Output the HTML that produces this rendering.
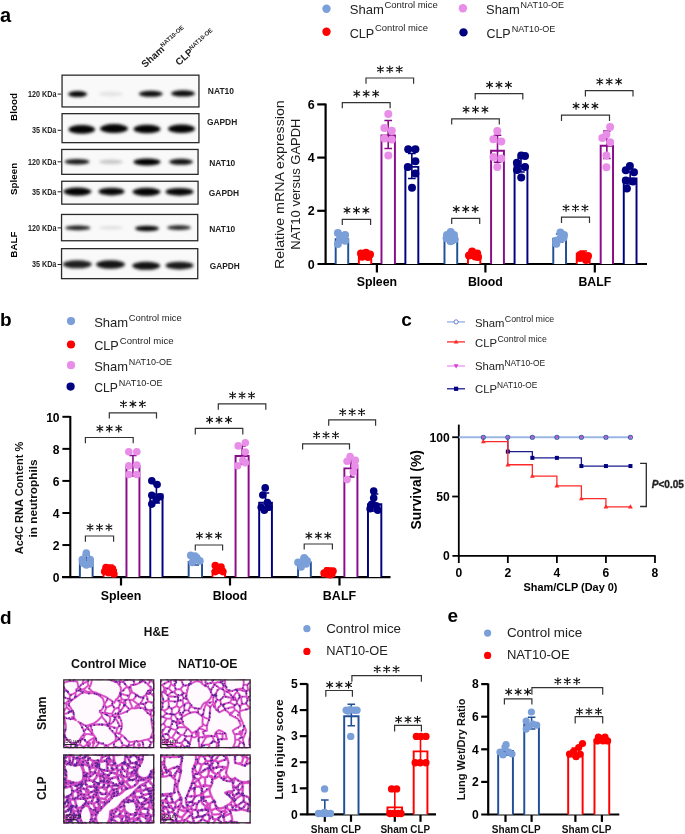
<!DOCTYPE html><html><head><meta charset="utf-8"><style>html,body{margin:0;padding:0;background:#fff;}svg{display:block;will-change:transform;}</style></head><body><svg width="685" height="834" viewBox="0 0 685 834" font-family='"Liberation Sans", sans-serif' fill="#222">
<defs><filter id="bl" x="-50%" y="-50%" width="200%" height="200%"><feGaussianBlur stdDeviation="1.45"/></filter><filter id="bl2" x="-50%" y="-50%" width="200%" height="200%"><feGaussianBlur stdDeviation="0.5"/></filter></defs>
<rect width="685" height="834" fill="#fff"/>
<text x="0.00" y="21.90" font-size="20" font-weight="bold" fill="#000">a</text>
<text x="0.00" y="325.70" font-size="19" font-weight="bold" fill="#000">b</text>
<text x="401.20" y="326.20" font-size="19" font-weight="bold" fill="#000">c</text>
<text x="0.00" y="623.60" font-size="19" font-weight="bold" fill="#000">d</text>
<text x="447.60" y="622.20" font-size="19" font-weight="bold" fill="#000">e</text>
<rect x="62.05" y="75.15" width="136.90" height="31.80" fill="#f9f9f9" stroke="#2a2a2a" stroke-width="1.3"/>
<rect x="62.05" y="113.65" width="136.90" height="29.00" fill="#f9f9f9" stroke="#2a2a2a" stroke-width="1.3"/>
<rect x="61.75" y="149.45" width="136.30" height="24.90" fill="#f9f9f9" stroke="#2a2a2a" stroke-width="1.3"/>
<rect x="61.75" y="181.25" width="136.30" height="22.90" fill="#f9f9f9" stroke="#2a2a2a" stroke-width="1.3"/>
<rect x="61.55" y="214.45" width="136.20" height="26.30" fill="#f9f9f9" stroke="#2a2a2a" stroke-width="1.3"/>
<rect x="61.55" y="248.65" width="136.20" height="30.00" fill="#f9f9f9" stroke="#2a2a2a" stroke-width="1.3"/>
<g filter="url(#bl)">
<ellipse cx="77.6" cy="94.1" rx="9.5" ry="3.0" fill="#000" fill-opacity="0.97"/>
<ellipse cx="111" cy="94" rx="12" ry="2.4" fill="#000" fill-opacity="0.08"/>
<ellipse cx="150.8" cy="93.8" rx="12" ry="3.0" fill="#000" fill-opacity="0.95"/>
<ellipse cx="183" cy="93.4" rx="12" ry="3.2" fill="#000" fill-opacity="0.95"/>
<ellipse cx="81.8" cy="129.4" rx="13.2" ry="4.4" fill="#000" fill-opacity="0.99"/>
<ellipse cx="114" cy="128.6" rx="14" ry="4.5" fill="#000" fill-opacity="0.99"/>
<ellipse cx="147" cy="129.0" rx="13.5" ry="4.3" fill="#000" fill-opacity="0.99"/>
<ellipse cx="181.5" cy="128.8" rx="13.5" ry="4.3" fill="#000" fill-opacity="0.99"/>
<ellipse cx="77" cy="161.8" rx="12.5" ry="2.8" fill="#000" fill-opacity="0.9"/>
<ellipse cx="111" cy="161.8" rx="12" ry="2.3" fill="#000" fill-opacity="0.2"/>
<ellipse cx="147" cy="162" rx="13.5" ry="3.4" fill="#000" fill-opacity="1.0"/>
<ellipse cx="181" cy="161.8" rx="12" ry="3.0" fill="#000" fill-opacity="0.93"/>
<ellipse cx="77.4" cy="191.6" rx="14" ry="4.1" fill="#000" fill-opacity="0.99"/>
<ellipse cx="111.5" cy="191.6" rx="13" ry="3.9" fill="#000" fill-opacity="0.97"/>
<ellipse cx="146.5" cy="191.8" rx="14" ry="4.1" fill="#000" fill-opacity="0.98"/>
<ellipse cx="179.5" cy="191.8" rx="14" ry="3.9" fill="#000" fill-opacity="0.97"/>
<ellipse cx="77.8" cy="227.9" rx="12.5" ry="2.4" fill="#000" fill-opacity="0.88"/>
<ellipse cx="111" cy="227.8" rx="12" ry="1.8" fill="#000" fill-opacity="0.1"/>
<ellipse cx="147" cy="228.5" rx="12" ry="2.7" fill="#000" fill-opacity="0.97"/>
<ellipse cx="179" cy="227.6" rx="12" ry="2.4" fill="#000" fill-opacity="0.85"/>
<ellipse cx="77.3" cy="264.3" rx="14.5" ry="4.0" fill="#000" fill-opacity="0.88"/>
<ellipse cx="110.5" cy="264.5" rx="14.5" ry="4.2" fill="#000" fill-opacity="0.92"/>
<ellipse cx="146.2" cy="265.8" rx="14" ry="4.0" fill="#000" fill-opacity="0.93"/>
<ellipse cx="179.5" cy="265.6" rx="14" ry="3.9" fill="#000" fill-opacity="0.9"/>
</g>
<text x="56.40" y="97.00" font-size="8.4" font-weight="bold" text-anchor="end" textLength="28.3" lengthAdjust="spacingAndGlyphs">120 KDa</text>
<line x1="57.60" y1="94.10" x2="61.20" y2="94.10" stroke="#222" stroke-width="1" stroke-linecap="butt"/>
<text x="56.40" y="164.70" font-size="8.4" font-weight="bold" text-anchor="end" textLength="28.3" lengthAdjust="spacingAndGlyphs">120 KDa</text>
<line x1="57.60" y1="161.80" x2="61.20" y2="161.80" stroke="#222" stroke-width="1" stroke-linecap="butt"/>
<text x="56.40" y="230.80" font-size="8.4" font-weight="bold" text-anchor="end" textLength="28.3" lengthAdjust="spacingAndGlyphs">120 KDa</text>
<line x1="57.60" y1="227.90" x2="61.20" y2="227.90" stroke="#222" stroke-width="1" stroke-linecap="butt"/>
<text x="56.40" y="133.20" font-size="8.4" font-weight="bold" text-anchor="end" textLength="24.5" lengthAdjust="spacingAndGlyphs">35 KDa</text>
<line x1="57.60" y1="130.30" x2="61.20" y2="130.30" stroke="#222" stroke-width="1" stroke-linecap="butt"/>
<text x="56.40" y="194.70" font-size="8.4" font-weight="bold" text-anchor="end" textLength="24.5" lengthAdjust="spacingAndGlyphs">35 KDa</text>
<line x1="57.60" y1="191.80" x2="61.20" y2="191.80" stroke="#222" stroke-width="1" stroke-linecap="butt"/>
<text x="56.40" y="267.40" font-size="8.4" font-weight="bold" text-anchor="end" textLength="24.5" lengthAdjust="spacingAndGlyphs">35 KDa</text>
<line x1="57.60" y1="264.50" x2="61.20" y2="264.50" stroke="#222" stroke-width="1" stroke-linecap="butt"/>
<text x="207.80" y="94.00" font-size="9.6" font-weight="bold" textLength="26.2" lengthAdjust="spacingAndGlyphs">NAT10</text>
<text x="206.90" y="125.30" font-size="9.6" font-weight="bold" textLength="30.3" lengthAdjust="spacingAndGlyphs">GAPDH</text>
<text x="209.30" y="165.50" font-size="9.6" font-weight="bold" textLength="26.0" lengthAdjust="spacingAndGlyphs">NAT10</text>
<text x="208.80" y="195.60" font-size="9.6" font-weight="bold" textLength="30.3" lengthAdjust="spacingAndGlyphs">GAPDH</text>
<text x="209.30" y="232.30" font-size="9.6" font-weight="bold" textLength="26.0" lengthAdjust="spacingAndGlyphs">NAT10</text>
<text x="209.70" y="268.70" font-size="9.6" font-weight="bold" textLength="30.0" lengthAdjust="spacingAndGlyphs">GAPDH</text>
<text x="16.90" y="107.00" font-size="9.8" font-weight="bold" text-anchor="middle" fill="#000" transform="rotate(-90 16.90 107.00)">Blood</text>
<text x="16.90" y="178.90" font-size="9.8" font-weight="bold" text-anchor="middle" fill="#000" transform="rotate(-90 16.90 178.90)">Spleen</text>
<text x="16.90" y="244.60" font-size="9.8" font-weight="bold" text-anchor="middle" fill="#000" transform="rotate(-90 16.90 244.60)">BALF</text>
<g transform="translate(145.0,68.0) rotate(-41.5)"><text font-size="9.8" font-weight="bold" x="0" y="0">Sham<tspan font-size="6.0" dy="-3.8">NAT10-OE</tspan></text></g>
<g transform="translate(179.0,66.0) rotate(-41.5)"><text font-size="9.8" font-weight="bold" x="0" y="0">CLP<tspan font-size="6.0" dy="-3.8">NAT10-OE</tspan></text></g>
<circle cx="326.50" cy="8.70" r="4.2" fill="#7b9fd8"/>
<circle cx="326.50" cy="31.80" r="4.2" fill="#ff0000"/>
<circle cx="462.90" cy="8.20" r="4.2" fill="#e88ee8"/>
<circle cx="463.50" cy="32.40" r="4.2" fill="#000080"/>
<text x="349.70" y="13.80" font-size="13" textLength="34.1" lengthAdjust="spacingAndGlyphs">Sham</text>
<text x="384.40" y="7.90" font-size="9.4" textLength="53.4" lengthAdjust="spacingAndGlyphs">Control mice</text>
<text x="349.70" y="37.60" font-size="13" textLength="24.6" lengthAdjust="spacingAndGlyphs">CLP</text>
<text x="375.00" y="31.20" font-size="9.4" textLength="52.9" lengthAdjust="spacingAndGlyphs">Control mice</text>
<text x="486.10" y="14.20" font-size="13" textLength="33.7" lengthAdjust="spacingAndGlyphs">Sham</text>
<text x="520.60" y="8.00" font-size="9.0" textLength="43.3" lengthAdjust="spacingAndGlyphs">NAT10-OE</text>
<text x="486.40" y="38.00" font-size="13" textLength="24.3" lengthAdjust="spacingAndGlyphs">CLP</text>
<text x="511.70" y="32.30" font-size="9.0" textLength="43.6" lengthAdjust="spacingAndGlyphs">NAT10-OE</text>
<line x1="325.60" y1="103.60" x2="325.60" y2="264.80" stroke="#000" stroke-width="2.2" stroke-linecap="butt"/>
<line x1="317.50" y1="264.00" x2="647.00" y2="264.00" stroke="#000" stroke-width="2.2" stroke-linecap="butt"/>
<line x1="317.20" y1="210.80" x2="325.60" y2="210.80" stroke="#000" stroke-width="2.2" stroke-linecap="butt"/>
<line x1="317.20" y1="157.60" x2="325.60" y2="157.60" stroke="#000" stroke-width="2.2" stroke-linecap="butt"/>
<line x1="317.20" y1="104.40" x2="325.60" y2="104.40" stroke="#000" stroke-width="2.2" stroke-linecap="butt"/>
<text x="314.60" y="268.50" font-size="12.5" font-weight="bold" text-anchor="end" fill="#000">0</text>
<text x="314.60" y="215.30" font-size="12.5" font-weight="bold" text-anchor="end" fill="#000">2</text>
<text x="314.60" y="162.10" font-size="12.5" font-weight="bold" text-anchor="end" fill="#000">4</text>
<text x="314.60" y="108.90" font-size="12.5" font-weight="bold" text-anchor="end" fill="#000">6</text>
<line x1="376.90" y1="264.00" x2="376.90" y2="272.50" stroke="#000" stroke-width="2.2" stroke-linecap="butt"/>
<text x="376.90" y="286.40" font-size="12.6" font-weight="bold" text-anchor="middle" fill="#000" textLength="40.4" lengthAdjust="spacingAndGlyphs">Spleen</text>
<line x1="485.40" y1="264.00" x2="485.40" y2="272.50" stroke="#000" stroke-width="2.2" stroke-linecap="butt"/>
<text x="485.40" y="286.40" font-size="12.6" font-weight="bold" text-anchor="middle" fill="#000" textLength="35" lengthAdjust="spacingAndGlyphs">Blood</text>
<line x1="594.80" y1="264.00" x2="594.80" y2="272.50" stroke="#000" stroke-width="2.2" stroke-linecap="butt"/>
<text x="594.80" y="286.40" font-size="12.6" font-weight="bold" text-anchor="middle" fill="#000" textLength="32.7" lengthAdjust="spacingAndGlyphs">BALF</text>
<text x="283.80" y="184.70" font-size="12.3" text-anchor="middle" fill="#1a1a1a" textLength="168.8" lengthAdjust="spacingAndGlyphs" transform="rotate(-90 283.80 184.70)">Relative mRNA expression</text>
<text x="299.60" y="184.10" font-size="12.3" text-anchor="middle" fill="#1a1a1a" textLength="131.2" lengthAdjust="spacingAndGlyphs" transform="rotate(-90 299.60 184.10)">NAT10 versus GAPDH</text>
<path d="M335.68 264.00V239.17H348.22V264.00" fill="#fff" stroke="#214f98" stroke-width="1.95"/>
<path d="M341.95 234.00V242.00M338.15 234.00H345.75M338.15 242.00H345.75" stroke="#214f98" stroke-width="1.6" fill="none"/>
<circle cx="337.90" cy="233.00" r="4.0" fill="#7b9fd8"/>
<circle cx="345.10" cy="235.00" r="4.0" fill="#7b9fd8"/>
<circle cx="340.00" cy="238.50" r="4.0" fill="#7b9fd8"/>
<circle cx="345.10" cy="240.80" r="4.0" fill="#7b9fd8"/>
<circle cx="337.90" cy="244.00" r="4.0" fill="#7b9fd8"/>
<circle cx="342.50" cy="236.00" r="4.0" fill="#7b9fd8"/>
<path d="M358.88 264.00V256.48H371.22V264.00" fill="#fff" stroke="#ff0000" stroke-width="1.95"/>
<path d="M365.05 252.00V258.00M361.25 252.00H368.85M361.25 258.00H368.85" stroke="#ff0000" stroke-width="1.6" fill="none"/>
<circle cx="361.00" cy="253.50" r="4.0" fill="#ff0000"/>
<circle cx="366.00" cy="252.80" r="4.0" fill="#ff0000"/>
<circle cx="370.00" cy="254.50" r="4.0" fill="#ff0000"/>
<circle cx="362.00" cy="256.80" r="4.0" fill="#ff0000"/>
<circle cx="368.00" cy="257.00" r="4.0" fill="#ff0000"/>
<circle cx="365.00" cy="255.00" r="4.0" fill="#ff0000"/>
<path d="M381.48 264.00V135.57H394.92V264.00" fill="#fff" stroke="#8a0c8a" stroke-width="1.95"/>
<path d="M388.20 120.50V148.50M384.40 120.50H392.00M384.40 148.50H392.00" stroke="#8a0c8a" stroke-width="1.6" fill="none"/>
<circle cx="388.30" cy="113.90" r="4.0" fill="#e88ee8"/>
<circle cx="384.40" cy="127.90" r="4.0" fill="#e88ee8"/>
<circle cx="391.80" cy="130.80" r="4.0" fill="#e88ee8"/>
<circle cx="384.40" cy="138.50" r="4.0" fill="#e88ee8"/>
<circle cx="391.80" cy="139.50" r="4.0" fill="#e88ee8"/>
<circle cx="388.30" cy="155.50" r="4.0" fill="#e88ee8"/>
<path d="M405.38 264.00V166.88H418.32V264.00" fill="#fff" stroke="#000080" stroke-width="1.95"/>
<path d="M411.85 153.50V178.50M408.05 153.50H415.65M408.05 178.50H415.65" stroke="#000080" stroke-width="1.6" fill="none"/>
<circle cx="408.20" cy="149.20" r="4.0" fill="#000080"/>
<circle cx="415.40" cy="149.20" r="4.0" fill="#000080"/>
<circle cx="415.40" cy="161.20" r="4.0" fill="#000080"/>
<circle cx="407.80" cy="166.90" r="4.0" fill="#000080"/>
<circle cx="415.40" cy="173.50" r="4.0" fill="#000080"/>
<circle cx="412.00" cy="187.70" r="4.0" fill="#000080"/>
<path d="M444.48 264.00V240.28H457.22V264.00" fill="#fff" stroke="#214f98" stroke-width="1.95"/>
<path d="M450.85 236.00V243.00M447.05 236.00H454.65M447.05 243.00H454.65" stroke="#214f98" stroke-width="1.6" fill="none"/>
<circle cx="450.70" cy="232.10" r="4.0" fill="#7b9fd8"/>
<circle cx="446.60" cy="238.20" r="4.0" fill="#7b9fd8"/>
<circle cx="454.70" cy="239.30" r="4.0" fill="#7b9fd8"/>
<circle cx="450.70" cy="241.30" r="4.0" fill="#7b9fd8"/>
<circle cx="447.00" cy="235.00" r="4.0" fill="#7b9fd8"/>
<circle cx="454.00" cy="235.00" r="4.0" fill="#7b9fd8"/>
<path d="M467.98 264.00V255.97H480.32V264.00" fill="#fff" stroke="#ff0000" stroke-width="1.95"/>
<path d="M474.15 252.00V258.00M470.35 252.00H477.95M470.35 258.00H477.95" stroke="#ff0000" stroke-width="1.6" fill="none"/>
<circle cx="472.10" cy="251.50" r="4.0" fill="#ff0000"/>
<circle cx="477.20" cy="253.60" r="4.0" fill="#ff0000"/>
<circle cx="469.00" cy="255.60" r="4.0" fill="#ff0000"/>
<circle cx="475.20" cy="256.60" r="4.0" fill="#ff0000"/>
<circle cx="473.00" cy="254.00" r="4.0" fill="#ff0000"/>
<circle cx="478.00" cy="257.00" r="4.0" fill="#ff0000"/>
<path d="M491.08 264.00V150.67H503.92V264.00" fill="#fff" stroke="#8a0c8a" stroke-width="1.95"/>
<path d="M497.50 135.30V162.20M493.70 135.30H501.30M493.70 162.20H501.30" stroke="#8a0c8a" stroke-width="1.6" fill="none"/>
<circle cx="497.30" cy="131.00" r="4.0" fill="#e88ee8"/>
<circle cx="493.40" cy="139.20" r="4.0" fill="#e88ee8"/>
<circle cx="501.30" cy="141.60" r="4.0" fill="#e88ee8"/>
<circle cx="493.40" cy="156.90" r="4.0" fill="#e88ee8"/>
<circle cx="501.30" cy="158.40" r="4.0" fill="#e88ee8"/>
<circle cx="497.30" cy="167.00" r="4.0" fill="#e88ee8"/>
<path d="M514.58 264.00V166.07H527.42V264.00" fill="#fff" stroke="#000080" stroke-width="1.95"/>
<path d="M521.00 158.00V172.00M517.20 158.00H524.80M517.20 172.00H524.80" stroke="#000080" stroke-width="1.6" fill="none"/>
<circle cx="521.20" cy="155.50" r="4.0" fill="#000080"/>
<circle cx="525.00" cy="156.00" r="4.0" fill="#000080"/>
<circle cx="516.90" cy="162.70" r="4.0" fill="#000080"/>
<circle cx="525.00" cy="167.00" r="4.0" fill="#000080"/>
<circle cx="521.20" cy="177.50" r="4.0" fill="#000080"/>
<circle cx="517.00" cy="170.00" r="4.0" fill="#000080"/>
<path d="M553.27 264.00V238.67H566.02V264.00" fill="#fff" stroke="#214f98" stroke-width="1.95"/>
<path d="M559.65 234.00V242.00M555.85 234.00H563.45M555.85 242.00H563.45" stroke="#214f98" stroke-width="1.6" fill="none"/>
<circle cx="560.40" cy="232.60" r="4.0" fill="#7b9fd8"/>
<circle cx="563.50" cy="237.70" r="4.0" fill="#7b9fd8"/>
<circle cx="556.30" cy="240.70" r="4.0" fill="#7b9fd8"/>
<circle cx="556.30" cy="243.80" r="4.0" fill="#7b9fd8"/>
<circle cx="560.00" cy="239.00" r="4.0" fill="#7b9fd8"/>
<circle cx="564.00" cy="235.00" r="4.0" fill="#7b9fd8"/>
<path d="M576.77 264.00V253.97H589.73V264.00" fill="#fff" stroke="#ff0000" stroke-width="1.95"/>
<path d="M583.25 251.00V257.00M579.45 251.00H587.05M579.45 257.00H587.05" stroke="#ff0000" stroke-width="1.6" fill="none"/>
<circle cx="582.90" cy="255.00" r="4.0" fill="#ff0000"/>
<circle cx="588.00" cy="256.00" r="4.0" fill="#ff0000"/>
<circle cx="579.90" cy="258.00" r="4.0" fill="#ff0000"/>
<circle cx="586.00" cy="260.00" r="4.0" fill="#ff0000"/>
<circle cx="583.00" cy="257.00" r="4.0" fill="#ff0000"/>
<circle cx="580.00" cy="255.00" r="4.0" fill="#ff0000"/>
<path d="M600.68 264.00V145.78H613.02V264.00" fill="#fff" stroke="#8a0c8a" stroke-width="1.95"/>
<path d="M606.85 131.00V158.50M603.05 131.00H610.65M603.05 158.50H610.65" stroke="#8a0c8a" stroke-width="1.6" fill="none"/>
<circle cx="610.10" cy="127.00" r="4.0" fill="#e88ee8"/>
<circle cx="606.40" cy="134.60" r="4.0" fill="#e88ee8"/>
<circle cx="602.30" cy="138.00" r="4.0" fill="#e88ee8"/>
<circle cx="610.10" cy="142.20" r="4.0" fill="#e88ee8"/>
<circle cx="606.40" cy="155.60" r="4.0" fill="#e88ee8"/>
<circle cx="606.40" cy="167.30" r="4.0" fill="#e88ee8"/>
<path d="M623.77 264.00V178.38H636.52V264.00" fill="#fff" stroke="#000080" stroke-width="1.95"/>
<path d="M630.15 172.00V184.00M626.35 172.00H633.95M626.35 184.00H633.95" stroke="#000080" stroke-width="1.6" fill="none"/>
<circle cx="629.90" cy="166.10" r="4.0" fill="#000080"/>
<circle cx="625.80" cy="170.20" r="4.0" fill="#000080"/>
<circle cx="634.00" cy="172.30" r="4.0" fill="#000080"/>
<circle cx="625.80" cy="180.40" r="4.0" fill="#000080"/>
<circle cx="633.00" cy="181.50" r="4.0" fill="#000080"/>
<circle cx="626.90" cy="188.60" r="4.0" fill="#000080"/>
<circle cx="71.00" cy="321.10" r="4.1" fill="#7b9fd8"/>
<circle cx="71.00" cy="344.50" r="4.1" fill="#ff0000"/>
<circle cx="71.00" cy="365.20" r="4.1" fill="#e88ee8"/>
<circle cx="70.60" cy="386.60" r="4.1" fill="#000080"/>
<text x="94.20" y="326.80" font-size="13" textLength="34.0" lengthAdjust="spacingAndGlyphs">Sham</text>
<text x="128.70" y="321.10" font-size="9.4" textLength="53.1" lengthAdjust="spacingAndGlyphs">Control mice</text>
<text x="94.20" y="349.60" font-size="13" textLength="24.6" lengthAdjust="spacingAndGlyphs">CLP</text>
<text x="119.80" y="343.90" font-size="9.4" textLength="53.7" lengthAdjust="spacingAndGlyphs">Control mice</text>
<text x="94.20" y="370.50" font-size="13" textLength="33.8" lengthAdjust="spacingAndGlyphs">Sham</text>
<text x="128.70" y="365.20" font-size="9.0" textLength="43.3" lengthAdjust="spacingAndGlyphs">NAT10-OE</text>
<text x="94.20" y="391.80" font-size="13" textLength="23.7" lengthAdjust="spacingAndGlyphs">CLP</text>
<text x="118.80" y="386.40" font-size="9.0" textLength="43.7" lengthAdjust="spacingAndGlyphs">NAT10-OE</text>
<line x1="70.30" y1="416.00" x2="70.30" y2="578.10" stroke="#000" stroke-width="2.1" stroke-linecap="butt"/>
<line x1="62.00" y1="577.10" x2="390.50" y2="577.10" stroke="#000" stroke-width="2.2" stroke-linecap="butt"/>
<line x1="62.40" y1="545.04" x2="70.30" y2="545.04" stroke="#000" stroke-width="2.0" stroke-linecap="butt"/>
<line x1="62.40" y1="512.98" x2="70.30" y2="512.98" stroke="#000" stroke-width="2.0" stroke-linecap="butt"/>
<line x1="62.40" y1="480.92" x2="70.30" y2="480.92" stroke="#000" stroke-width="2.0" stroke-linecap="butt"/>
<line x1="62.40" y1="448.86" x2="70.30" y2="448.86" stroke="#000" stroke-width="2.0" stroke-linecap="butt"/>
<line x1="62.40" y1="416.80" x2="70.30" y2="416.80" stroke="#000" stroke-width="2.0" stroke-linecap="butt"/>
<text x="59.60" y="582.00" font-size="12.1" font-weight="bold" text-anchor="end" fill="#000">0</text>
<text x="59.60" y="549.94" font-size="12.1" font-weight="bold" text-anchor="end" fill="#000">2</text>
<text x="59.60" y="517.88" font-size="12.1" font-weight="bold" text-anchor="end" fill="#000">4</text>
<text x="59.60" y="485.82" font-size="12.1" font-weight="bold" text-anchor="end" fill="#000">6</text>
<text x="59.60" y="453.76" font-size="12.1" font-weight="bold" text-anchor="end" fill="#000">8</text>
<text x="59.60" y="421.70" font-size="12.1" font-weight="bold" text-anchor="end" fill="#000">10</text>
<line x1="121.00" y1="577.10" x2="121.00" y2="585.50" stroke="#000" stroke-width="2.2" stroke-linecap="butt"/>
<text x="121.00" y="599.50" font-size="12.6" font-weight="bold" text-anchor="middle" fill="#000" textLength="40.7" lengthAdjust="spacingAndGlyphs">Spleen</text>
<line x1="230.00" y1="577.10" x2="230.00" y2="585.50" stroke="#000" stroke-width="2.2" stroke-linecap="butt"/>
<text x="230.00" y="599.50" font-size="12.6" font-weight="bold" text-anchor="middle" fill="#000" textLength="34.7" lengthAdjust="spacingAndGlyphs">Blood</text>
<line x1="339.50" y1="577.10" x2="339.50" y2="585.50" stroke="#000" stroke-width="2.2" stroke-linecap="butt"/>
<text x="339.50" y="599.50" font-size="12.6" font-weight="bold" text-anchor="middle" fill="#000" textLength="33.3" lengthAdjust="spacingAndGlyphs">BALF</text>
<text x="22.70" y="498.00" font-size="10.8" font-weight="bold" text-anchor="middle" fill="#111" textLength="112.5" lengthAdjust="spacingAndGlyphs" transform="rotate(-90 22.70 498.00)">Ac4C RNA Content %</text>
<text x="37.00" y="498.40" font-size="10.8" font-weight="bold" text-anchor="middle" fill="#111" textLength="78.1" lengthAdjust="spacingAndGlyphs" transform="rotate(-90 37.00 498.40)">in neutrophils</text>
<path d="M79.88 577.10V561.38H92.62V577.10" fill="#fff" stroke="#214f98" stroke-width="1.95"/>
<path d="M86.25 555.00V566.00M82.55 555.00H89.95M82.55 566.00H89.95" stroke="#214f98" stroke-width="1.6" fill="none"/>
<circle cx="86.30" cy="553.00" r="3.8" fill="#7b9fd8"/>
<circle cx="82.30" cy="559.60" r="3.8" fill="#7b9fd8"/>
<circle cx="90.20" cy="559.60" r="3.8" fill="#7b9fd8"/>
<circle cx="86.30" cy="564.90" r="3.8" fill="#7b9fd8"/>
<circle cx="83.00" cy="563.00" r="3.8" fill="#7b9fd8"/>
<circle cx="90.00" cy="564.00" r="3.8" fill="#7b9fd8"/>
<path d="M103.57 577.10V569.98H116.03V577.10" fill="#fff" stroke="#ff0000" stroke-width="1.95"/>
<path d="M109.80 565.00V573.00M106.10 565.00H113.50M106.10 573.00H113.50" stroke="#ff0000" stroke-width="1.6" fill="none"/>
<circle cx="106.00" cy="567.50" r="3.8" fill="#ff0000"/>
<circle cx="112.50" cy="568.80" r="3.8" fill="#ff0000"/>
<circle cx="108.60" cy="572.80" r="3.8" fill="#ff0000"/>
<circle cx="113.90" cy="574.00" r="3.8" fill="#ff0000"/>
<circle cx="104.70" cy="571.50" r="3.8" fill="#ff0000"/>
<circle cx="110.00" cy="570.00" r="3.8" fill="#ff0000"/>
<path d="M126.47 577.10V466.08H139.43V577.10" fill="#fff" stroke="#8a0c8a" stroke-width="1.95"/>
<path d="M132.95 455.50V476.00M129.25 455.50H136.65M129.25 476.00H136.65" stroke="#8a0c8a" stroke-width="1.6" fill="none"/>
<circle cx="128.80" cy="451.70" r="3.8" fill="#e88ee8"/>
<circle cx="136.80" cy="451.70" r="3.8" fill="#e88ee8"/>
<circle cx="128.80" cy="465.90" r="3.8" fill="#e88ee8"/>
<circle cx="136.80" cy="465.00" r="3.8" fill="#e88ee8"/>
<circle cx="128.80" cy="474.50" r="3.8" fill="#e88ee8"/>
<circle cx="136.80" cy="474.50" r="3.8" fill="#e88ee8"/>
<path d="M150.28 577.10V494.58H162.53V577.10" fill="#fff" stroke="#000080" stroke-width="1.95"/>
<path d="M156.40 484.00V503.00M152.70 484.00H160.10M152.70 503.00H160.10" stroke="#000080" stroke-width="1.6" fill="none"/>
<circle cx="151.80" cy="480.70" r="3.8" fill="#000080"/>
<circle cx="157.10" cy="484.50" r="3.8" fill="#000080"/>
<circle cx="151.80" cy="495.30" r="3.8" fill="#000080"/>
<circle cx="160.00" cy="496.80" r="3.8" fill="#000080"/>
<circle cx="151.80" cy="504.10" r="3.8" fill="#000080"/>
<circle cx="156.20" cy="499.70" r="3.8" fill="#000080"/>
<path d="M188.67 577.10V561.88H202.03V577.10" fill="#fff" stroke="#214f98" stroke-width="1.95"/>
<path d="M195.35 556.00V565.00M191.65 556.00H199.05M191.65 565.00H199.05" stroke="#214f98" stroke-width="1.6" fill="none"/>
<circle cx="190.70" cy="555.40" r="3.8" fill="#7b9fd8"/>
<circle cx="196.90" cy="557.80" r="3.8" fill="#7b9fd8"/>
<circle cx="199.90" cy="560.90" r="3.8" fill="#7b9fd8"/>
<circle cx="192.30" cy="562.40" r="3.8" fill="#7b9fd8"/>
<circle cx="195.00" cy="556.00" r="3.8" fill="#7b9fd8"/>
<circle cx="194.00" cy="560.00" r="3.8" fill="#7b9fd8"/>
<path d="M212.57 577.10V570.98H225.03V577.10" fill="#fff" stroke="#ff0000" stroke-width="1.95"/>
<path d="M218.80 566.00V573.00M215.10 566.00H222.50M215.10 573.00H222.50" stroke="#ff0000" stroke-width="1.6" fill="none"/>
<circle cx="215.30" cy="565.50" r="3.8" fill="#ff0000"/>
<circle cx="219.90" cy="568.50" r="3.8" fill="#ff0000"/>
<circle cx="222.90" cy="571.60" r="3.8" fill="#ff0000"/>
<circle cx="215.30" cy="571.60" r="3.8" fill="#ff0000"/>
<circle cx="218.00" cy="570.00" r="3.8" fill="#ff0000"/>
<circle cx="221.00" cy="567.00" r="3.8" fill="#ff0000"/>
<path d="M235.57 577.10V456.08H248.62V577.10" fill="#fff" stroke="#8a0c8a" stroke-width="1.95"/>
<path d="M242.10 446.00V464.00M238.40 446.00H245.80M238.40 464.00H245.80" stroke="#8a0c8a" stroke-width="1.6" fill="none"/>
<circle cx="238.20" cy="445.90" r="3.8" fill="#e88ee8"/>
<circle cx="245.30" cy="442.80" r="3.8" fill="#e88ee8"/>
<circle cx="245.30" cy="452.00" r="3.8" fill="#e88ee8"/>
<circle cx="242.80" cy="460.30" r="3.8" fill="#e88ee8"/>
<circle cx="237.60" cy="465.80" r="3.8" fill="#e88ee8"/>
<circle cx="245.30" cy="462.80" r="3.8" fill="#e88ee8"/>
<path d="M259.18 577.10V502.68H271.92V577.10" fill="#fff" stroke="#000080" stroke-width="1.95"/>
<path d="M265.55 493.00V510.00M261.85 493.00H269.25M261.85 510.00H269.25" stroke="#000080" stroke-width="1.6" fill="none"/>
<circle cx="265.20" cy="487.90" r="3.8" fill="#000080"/>
<circle cx="262.80" cy="495.00" r="3.8" fill="#000080"/>
<circle cx="267.40" cy="502.60" r="3.8" fill="#000080"/>
<circle cx="261.20" cy="507.20" r="3.8" fill="#000080"/>
<circle cx="268.90" cy="507.20" r="3.8" fill="#000080"/>
<circle cx="264.30" cy="510.30" r="3.8" fill="#000080"/>
<path d="M298.08 577.10V562.48H310.82V577.10" fill="#fff" stroke="#214f98" stroke-width="1.95"/>
<path d="M304.45 557.00V566.00M300.75 557.00H308.15M300.75 566.00H308.15" stroke="#214f98" stroke-width="1.6" fill="none"/>
<circle cx="304.20" cy="557.80" r="3.8" fill="#7b9fd8"/>
<circle cx="307.20" cy="560.90" r="3.8" fill="#7b9fd8"/>
<circle cx="301.10" cy="567.00" r="3.8" fill="#7b9fd8"/>
<circle cx="298.00" cy="562.40" r="3.8" fill="#7b9fd8"/>
<circle cx="303.00" cy="561.00" r="3.8" fill="#7b9fd8"/>
<circle cx="306.00" cy="564.00" r="3.8" fill="#7b9fd8"/>
<path d="M321.98 577.10V571.98H334.42V577.10" fill="#fff" stroke="#ff0000" stroke-width="1.95"/>
<path d="M328.20 568.00V575.00M324.50 568.00H331.90M324.50 575.00H331.90" stroke="#ff0000" stroke-width="1.6" fill="none"/>
<circle cx="327.10" cy="570.70" r="3.8" fill="#ff0000"/>
<circle cx="331.70" cy="572.50" r="3.8" fill="#ff0000"/>
<circle cx="324.10" cy="573.10" r="3.8" fill="#ff0000"/>
<circle cx="330.20" cy="574.70" r="3.8" fill="#ff0000"/>
<circle cx="327.00" cy="574.00" r="3.8" fill="#ff0000"/>
<circle cx="333.00" cy="571.00" r="3.8" fill="#ff0000"/>
<path d="M344.38 577.10V468.38H357.42V577.10" fill="#fff" stroke="#8a0c8a" stroke-width="1.95"/>
<path d="M350.90 458.00V477.00M347.20 458.00H354.60M347.20 477.00H354.60" stroke="#8a0c8a" stroke-width="1.6" fill="none"/>
<circle cx="350.10" cy="456.60" r="3.8" fill="#e88ee8"/>
<circle cx="355.30" cy="460.30" r="3.8" fill="#e88ee8"/>
<circle cx="347.10" cy="461.20" r="3.8" fill="#e88ee8"/>
<circle cx="353.20" cy="472.00" r="3.8" fill="#e88ee8"/>
<circle cx="347.10" cy="479.60" r="3.8" fill="#e88ee8"/>
<circle cx="355.00" cy="466.00" r="3.8" fill="#e88ee8"/>
<path d="M367.98 577.10V504.18H381.32V577.10" fill="#fff" stroke="#000080" stroke-width="1.95"/>
<path d="M374.65 494.00V511.00M370.95 494.00H378.35M370.95 511.00H378.35" stroke="#000080" stroke-width="1.6" fill="none"/>
<circle cx="373.70" cy="491.00" r="3.8" fill="#000080"/>
<circle cx="373.70" cy="498.00" r="3.8" fill="#000080"/>
<circle cx="371.60" cy="504.20" r="3.8" fill="#000080"/>
<circle cx="376.20" cy="505.70" r="3.8" fill="#000080"/>
<circle cx="370.10" cy="508.80" r="3.8" fill="#000080"/>
<circle cx="377.70" cy="510.30" r="3.8" fill="#000080"/>
<line x1="447.00" y1="321.90" x2="465.00" y2="321.90" stroke="#8fb2e4" stroke-width="1.3" stroke-linecap="butt"/>
<circle cx="456.1" cy="321.9" r="2.1" fill="#fff" stroke="#5f6fbf" stroke-width="0.9"/>
<line x1="447.00" y1="341.90" x2="465.00" y2="341.90" stroke="#ff2a2a" stroke-width="1.3" stroke-linecap="butt"/>
<path d="M456.1 339.38L458.52 343.58H453.69Z" fill="#ff2a2a"/>
<line x1="447.00" y1="366.00" x2="465.00" y2="366.00" stroke="#f090f0" stroke-width="1.3" stroke-linecap="butt"/>
<path d="M456.1 368.52L458.52 364.32H453.69Z" fill="#d040d0"/>
<line x1="447.00" y1="388.80" x2="465.00" y2="388.80" stroke="#1c1c8c" stroke-width="1.3" stroke-linecap="butt"/>
<rect x="454.00" y="386.70" width="4.20" height="4.20" fill="#000080"/>
<text x="475.00" y="327.20" font-size="11.8" textLength="29.5" lengthAdjust="spacingAndGlyphs">Sham</text>
<text x="504.80" y="322.30" font-size="8.6" textLength="49.4" lengthAdjust="spacingAndGlyphs">Control mice</text>
<text x="475.00" y="346.80" font-size="11.8" textLength="22.0" lengthAdjust="spacingAndGlyphs">CLP</text>
<text x="497.50" y="341.90" font-size="8.6" textLength="49.4" lengthAdjust="spacingAndGlyphs">Control mice</text>
<text x="475.00" y="370.40" font-size="11.8" textLength="29.5" lengthAdjust="spacingAndGlyphs">Sham</text>
<text x="504.50" y="365.70" font-size="8.6" textLength="40.6" lengthAdjust="spacingAndGlyphs">NAT10-OE</text>
<text x="475.00" y="393.20" font-size="11.8" textLength="22.0" lengthAdjust="spacingAndGlyphs">CLP</text>
<text x="497.00" y="388.00" font-size="8.6" textLength="40.2" lengthAdjust="spacingAndGlyphs">NAT10-OE</text>
<line x1="458.80" y1="424.60" x2="458.80" y2="556.60" stroke="#000" stroke-width="1.8" stroke-linecap="butt"/>
<line x1="452.40" y1="555.80" x2="655.60" y2="555.80" stroke="#000" stroke-width="1.8" stroke-linecap="butt"/>
<line x1="452.20" y1="496.52" x2="458.80" y2="496.52" stroke="#000" stroke-width="1.8" stroke-linecap="butt"/>
<line x1="452.20" y1="437.24" x2="458.80" y2="437.24" stroke="#000" stroke-width="1.8" stroke-linecap="butt"/>
<text x="449.80" y="560.10" font-size="12.1" font-weight="bold" text-anchor="end" fill="#000">0</text>
<text x="449.80" y="500.82" font-size="12.1" font-weight="bold" text-anchor="end" fill="#000">50</text>
<text x="449.80" y="441.54" font-size="12.1" font-weight="bold" text-anchor="end" fill="#000">100</text>
<line x1="458.80" y1="555.80" x2="458.80" y2="563.00" stroke="#000" stroke-width="1.8" stroke-linecap="butt"/>
<text x="458.80" y="577.00" font-size="12.1" font-weight="bold" text-anchor="middle" fill="#000">0</text>
<line x1="507.84" y1="555.80" x2="507.84" y2="563.00" stroke="#000" stroke-width="1.8" stroke-linecap="butt"/>
<text x="507.84" y="577.00" font-size="12.1" font-weight="bold" text-anchor="middle" fill="#000">2</text>
<line x1="556.88" y1="555.80" x2="556.88" y2="563.00" stroke="#000" stroke-width="1.8" stroke-linecap="butt"/>
<text x="556.88" y="577.00" font-size="12.1" font-weight="bold" text-anchor="middle" fill="#000">4</text>
<line x1="605.92" y1="555.80" x2="605.92" y2="563.00" stroke="#000" stroke-width="1.8" stroke-linecap="butt"/>
<text x="605.92" y="577.00" font-size="12.1" font-weight="bold" text-anchor="middle" fill="#000">6</text>
<line x1="654.96" y1="555.80" x2="654.96" y2="563.00" stroke="#000" stroke-width="1.8" stroke-linecap="butt"/>
<text x="654.96" y="577.00" font-size="12.1" font-weight="bold" text-anchor="middle" fill="#000">8</text>
<text x="570.50" y="591.30" font-size="11.0" font-weight="bold" text-anchor="middle" fill="#000" textLength="94" lengthAdjust="spacingAndGlyphs">Sham/CLP (Day 0)</text>
<text x="421.40" y="489.80" font-size="14.8" font-weight="bold" text-anchor="middle" fill="#000" textLength="79.2" lengthAdjust="spacingAndGlyphs" transform="rotate(-90 421.40 489.80)">Survival (%)</text>
<path d="M507.84 437.24H507.84V451.59H532.36V457.87H556.88V457.87H581.40V466.05H605.92V466.05H630.44V466.05" stroke="#1c1c8c" stroke-width="1.3" fill="none"/>
<rect x="505.84" y="449.59" width="4.00" height="4.00" fill="#000080"/>
<rect x="530.36" y="455.87" width="4.00" height="4.00" fill="#000080"/>
<rect x="554.88" y="455.87" width="4.00" height="4.00" fill="#000080"/>
<rect x="579.40" y="464.05" width="4.00" height="4.00" fill="#000080"/>
<rect x="603.92" y="464.05" width="4.00" height="4.00" fill="#000080"/>
<rect x="628.44" y="464.05" width="4.00" height="4.00" fill="#000080"/>
<path d="M483.32 437.24H483.32V441.63H507.84V464.75H532.36V476.13H556.88V485.85H581.40V498.65H605.92V506.83H630.44V506.83" stroke="#ff2a2a" stroke-width="1.3" fill="none"/>
<path d="M483.32 439.11L485.74 443.31H480.90Z" fill="#ff2a2a"/>
<path d="M507.84 462.23L510.25 466.43H505.42Z" fill="#ff2a2a"/>
<path d="M532.36 473.61L534.77 477.81H529.95Z" fill="#ff2a2a"/>
<path d="M556.88 483.33L559.29 487.53H554.47Z" fill="#ff2a2a"/>
<path d="M581.4 496.13L583.81 500.33H578.99Z" fill="#ff2a2a"/>
<path d="M605.92 504.31L608.33 508.51H603.50Z" fill="#ff2a2a"/>
<path d="M630.44 504.31L632.86 508.51H628.03Z" fill="#ff2a2a"/>
<path d="M458.80 437.24H630.44" stroke="#9ab6e4" stroke-width="1.8" fill="none"/>
<path d="M483.32 439.16L485.16 435.96H481.48Z" fill="#d050d0"/>
<path d="M507.84 439.16L509.68 435.96H506.00Z" fill="#d050d0"/>
<path d="M532.36 439.16L534.20 435.96H530.52Z" fill="#d050d0"/>
<path d="M556.88 439.16L558.72 435.96H555.04Z" fill="#d050d0"/>
<path d="M581.4 439.16L583.24 435.96H579.56Z" fill="#d050d0"/>
<path d="M605.92 439.16L607.76 435.96H604.08Z" fill="#d050d0"/>
<path d="M630.44 439.16L632.28 435.96H628.60Z" fill="#d050d0"/>
<circle cx="483.32" cy="437.24" r="2.0" fill="none" stroke="#3c5ca8" stroke-width="1.1"/>
<circle cx="507.84" cy="437.24" r="2.0" fill="none" stroke="#3c5ca8" stroke-width="1.1"/>
<circle cx="532.36" cy="437.24" r="2.0" fill="none" stroke="#3c5ca8" stroke-width="1.1"/>
<circle cx="556.88" cy="437.24" r="2.0" fill="none" stroke="#3c5ca8" stroke-width="1.1"/>
<circle cx="581.40" cy="437.24" r="2.0" fill="none" stroke="#3c5ca8" stroke-width="1.1"/>
<circle cx="605.92" cy="437.24" r="2.0" fill="none" stroke="#3c5ca8" stroke-width="1.1"/>
<circle cx="630.44" cy="437.24" r="2.0" fill="none" stroke="#3c5ca8" stroke-width="1.1"/>
<path d="M640.1 463.3H646.3V506.5H640.1" stroke="#2a2a2a" stroke-width="1.3" fill="none"/>
<text x="651.7" y="487.8" font-size="10.8" font-weight="bold" textLength="32.2" lengthAdjust="spacingAndGlyphs" stroke="#222" stroke-width="0.35"><tspan font-style="italic">P</tspan>&lt;0.05</text>
<text x="156.40" y="636.20" font-size="12.6" font-weight="bold" text-anchor="middle" fill="#111" textLength="25.2" lengthAdjust="spacingAndGlyphs">H&amp;E</text>
<text x="108.80" y="667.70" font-size="13.2" font-weight="bold" text-anchor="middle" fill="#111" textLength="75.4" lengthAdjust="spacingAndGlyphs">Control Mice</text>
<text x="207.70" y="667.70" font-size="13.2" font-weight="bold" text-anchor="middle" fill="#111" textLength="59.6" lengthAdjust="spacingAndGlyphs">NAT10-OE</text>
<text x="46.30" y="713.20" font-size="13.2" font-weight="bold" text-anchor="middle" fill="#111" textLength="33.6" lengthAdjust="spacingAndGlyphs" transform="rotate(-90 46.30 713.20)">Sham</text>
<text x="46.00" y="788.20" font-size="13.2" font-weight="bold" text-anchor="middle" fill="#111" textLength="23.5" lengthAdjust="spacingAndGlyphs" transform="rotate(-90 46.00 788.20)">CLP</text>
<clipPath id="he11"><rect x="63.2" y="679.3" width="91.1" height="68.9"/></clipPath><g clip-path="url(#he11)"><rect x="63.2" y="679.3" width="91.1" height="68.9" fill="#fefafe"/><g fill="none" stroke-linejoin="round" stroke-linecap="round"><path d="M158.4 720.6L155.4 721.9L152.3 723.2M158.4 725.7L155.5 724.5L152.3 723.2M59.0 745.6L60.9 746.2M62.3 750.8L61.2 748.4L60.9 746.2M61.7 739.5L63.2 738.1L64.6 736.7M64.6 736.7L64.9 736.7M65.2 737.3L64.6 741.1L63.5 744.8M60.9 746.2L63.5 744.8M152.3 723.2L151.7 723.2M152.2 725.7L154.5 728.8L156.1 731.5L156.9 733.2M157.1 716.0L154.2 714.6M154.2 714.6L151.4 716.4M154.2 714.6L154.1 712.8L154.4 711.2M150.4 710.6L150.7 713.2L151.0 715.9M150.4 710.6L152.7 709.3M152.7 709.3L153.4 710.4L154.4 711.2M155.0 711.1L154.4 711.2M60.6 688.2L61.5 686.2L62.6 685.1M60.8 688.9L63.8 691.2M63.8 691.2L62.9 696.8M59.5 697.8L62.9 696.8M68.8 681.2L70.2 678.2L70.8 675.1M73.4 681.2L75.5 677.4L76.3 673.9M68.0 751.7L68.8 750.1L70.0 748.6M63.5 744.8L66.8 746.7L70.0 748.5M70.0 748.5L70.0 748.6M70.0 748.5L70.8 746.1L71.5 743.0M59.5 730.5L62.6 730.3L65.5 729.8M60.2 733.3L62.9 735.1L64.6 736.7M150.4 710.6L148.0 709.8L145.2 708.7M144.3 709.3L145.2 708.7M157.5 688.3L153.6 688.5M155.2 694.6L153.1 694.2L151.3 693.9M153.6 688.5L152.5 689.4M152.5 689.4L150.5 691.4L149.7 692.5L150.4 693.5M151.3 693.9L150.4 693.5M150.3 676.6L151.1 680.4M150.3 676.6L152.8 677.6L154.9 678.0L156.5 677.9M151.1 680.4L153.9 683.6L154.9 686.0M156.5 677.9L157.0 679.4L156.7 682.3L154.9 686.0M148.1 675.3L150.3 676.6M153.6 688.5L154.9 686.0M119.6 681.3L120.6 679.9L121.3 677.6M119.6 681.3L117.7 681.8L115.8 682.0M114.5 677.2L113.4 678.8M113.4 678.8L114.9 681.8M148.2 684.7L150.1 680.8M139.8 682.7L141.7 679.1M150.1 680.8L146.5 678.3L143.5 676.7M143.5 676.7L141.7 679.1M152.5 689.4L149.1 690.6M151.1 680.4L150.1 680.8M142.7 674.4L143.5 676.7M139.0 675.7L140.7 677.2L141.7 679.1M107.1 677.4L106.9 678.7M107.1 677.4L110.0 677.9L113.4 678.8M119.6 681.3L120.7 681.9M120.7 681.9L119.7 683.2L119.4 685.4M109.6 716.5L104.0 713.1M109.6 716.5L110.3 719.1L109.6 722.4L107.7 725.6M104.0 713.1L100.1 712.2M101.6 716.4L104.5 719.7L106.8 723.2L107.7 725.6M113.6 751.7L113.1 748.7M121.4 752.7L120.6 747.9M113.1 748.7L113.8 747.4M113.8 747.4L117.0 747.4L120.6 747.9M128.4 746.0L126.0 745.8L123.0 745.0M128.4 746.0L128.4 746.1M128.4 746.1L127.7 748.5L127.4 751.1M123.0 745.0L120.6 747.9M108.4 752.3L109.8 750.3M103.3 753.3L104.2 749.7L105.1 745.2M109.8 750.3L109.0 748.4L107.4 745.5M113.1 748.7L109.8 750.3M99.5 742.6L96.8 745.8L94.2 748.7M94.2 748.7L95.7 751.5M156.1 737.0L153.9 739.2M156.6 734.1L154.9 735.1L153.1 735.9L151.1 736.4M153.9 739.2L152.4 738.0L151.0 736.5M140.8 749.5L143.4 747.7M140.8 749.5L137.7 748.3L134.4 747.1M143.4 747.7L143.2 744.3L142.1 740.6M133.2 744.8L134.4 747.1M133.2 744.8L135.3 741.3M145.6 751.1L147.0 748.4M147.0 748.4L145.4 748.3L143.4 747.7M132.9 750.6L134.4 747.1M128.4 746.1L130.7 745.4L133.2 744.8M129.6 741.6L128.4 746.0M153.6 708.4L158.2 706.4M153.6 708.4L153.7 705.8L153.2 702.5M153.2 702.5L155.5 697.8M159.4 699.1L155.5 697.8M152.7 709.3L153.6 708.4M145.3 703.4L144.7 706.0L145.2 708.7M145.3 703.4L148.0 701.7M148.0 701.7L153.2 702.5M148.0 701.7L147.6 699.0L146.9 696.7L145.6 694.9M146.8 693.7L148.4 693.3L150.4 693.5M151.3 693.9L155.5 697.8M145.3 703.4L142.2 703.6L139.7 704.1M142.9 696.9L142.6 699.8L141.3 702.3L139.7 704.1M139.7 707.5L139.0 705.8L139.1 704.4M139.1 704.4L139.7 704.1M134.0 675.3L133.9 680.5M134.6 684.8L133.9 680.5M125.8 675.7L126.3 679.2M133.9 680.5L130.0 679.7L126.3 679.2M120.7 681.9L123.3 681.9M123.3 681.9L126.3 679.2M107.1 677.4L106.0 676.6M102.7 678.5L102.6 677.2M75.5 692.6L75.7 695.3L74.7 698.2M70.8 694.7L69.0 699.0M72.7 699.5L69.3 700.1M69.0 699.0L69.3 700.1M83.1 692.3L83.0 692.2M83.0 692.2L79.1 690.4L76.4 689.9M63.8 691.2L66.1 690.0M62.9 696.8L66.1 698.1L69.0 699.0M78.2 687.2L79.5 686.7M83.0 692.2L81.2 689.9L80.8 689.1M80.8 689.1L79.5 688.1L79.5 686.7M65.7 724.6L62.7 721.9L60.1 719.8M66.1 718.1L63.4 716.0M63.4 716.0L61.2 716.4L59.6 717.2M59.5 697.8L61.2 700.4L63.3 703.0M61.4 705.9L62.4 704.2L63.3 703.0M69.3 700.1L66.9 702.1L65.9 703.5M63.3 703.0L65.9 703.5M68.7 703.8L66.4 704.1M66.4 704.1L65.9 703.5M71.0 711.6L67.4 713.1L63.8 714.2M71.0 711.6L68.5 709.0L66.7 707.2M66.7 707.2L64.8 709.7M64.8 709.7L63.0 713.4M63.8 714.2L63.0 713.4M75.8 720.1L75.7 720.1M73.1 712.3L71.0 711.6M63.4 716.0L63.8 714.2M66.4 704.1L66.7 707.2M61.7 707.8L64.8 709.7M60.2 714.3L63.0 713.4M115.7 718.6L117.8 721.9L119.7 725.9M115.7 718.6L113.8 720.9L111.3 723.6L108.2 726.1M119.7 725.9L117.1 728.4M109.3 726.4L111.5 726.6L114.2 727.3L117.1 728.4M122.0 725.6L119.7 725.9M119.7 733.4L116.2 732.9M117.1 728.4L116.2 732.9M112.5 704.9L109.6 706.1L106.5 707.5M112.5 704.9L112.5 701.3M107.7 698.1L106.6 700.8L104.4 704.2M104.4 704.2L105.4 705.8L106.5 707.5M97.4 694.3L96.6 693.2L96.9 693.0M104.2 704.2L104.4 704.2M104.0 713.1L104.8 712.7M104.8 712.7L105.1 710.7L106.5 707.5M104.8 712.7L108.4 713.4L112.0 713.7M112.5 704.9L114.8 708.8M114.8 708.8L112.0 713.7M107.7 725.6L107.5 726.0M93.9 724.5L93.5 723.5M76.3 746.0L74.1 747.6L72.0 749.0M76.3 746.0L76.7 746.1M76.7 746.1L76.7 748.2L78.0 750.3M72.0 749.0L73.2 750.4M70.0 748.6L72.0 749.0M76.3 742.4L76.3 746.0M149.4 746.6L150.3 747.9L151.7 749.7M149.4 746.6L151.3 743.1M151.3 743.1L154.0 740.2M151.7 749.7L154.9 749.4L158.1 749.0M158.3 743.5L155.9 741.5L154.0 740.2M151.0 751.7L151.7 749.7M147.0 748.4L149.4 746.6M147.7 739.4L150.0 741.4L151.3 743.1M153.9 739.2L154.0 740.2M130.5 693.1L129.4 695.3M130.5 693.1L129.5 690.0L127.9 687.1M129.4 695.3L127.1 695.4L124.0 694.7L120.2 693.4M127.9 687.1L127.4 686.9M127.4 686.9L126.0 687.6L124.5 688.8L122.7 690.4L120.5 692.3M132.1 692.0L130.5 693.1M130.6 686.9L127.9 687.1M121.7 699.0L120.9 697.0L120.0 693.9M121.7 699.0L124.1 699.8L126.0 699.9M126.0 699.9L128.1 699.4M128.1 699.4L128.7 697.7L129.4 695.3M123.3 681.9L125.1 684.3L127.4 686.9M129.7 700.0L132.6 700.0M129.7 700.0L130.0 702.0L131.1 704.6L132.4 708.1M132.6 700.0L135.0 701.9L137.0 703.5L138.4 704.6M134.4 708.5L135.5 706.8L136.7 705.6L138.4 704.6M128.1 699.4L129.7 700.0M136.8 694.9L135.0 697.8L132.6 700.0M139.1 704.4L138.4 704.6M79.5 686.7L82.3 684.0M83.0 675.0L83.8 679.0L82.3 684.0M90.5 693.3L88.4 692.3M80.8 689.1L83.1 689.4M88.4 692.3L85.8 691.0L83.1 689.4M113.6 742.0L114.5 742.3M115.6 736.0L117.8 737.4L119.6 738.7M114.5 742.3L117.0 740.5L119.6 738.9M119.6 738.7L119.6 738.9M94.2 748.7L92.1 748.6M94.8 736.6L94.2 737.6M92.1 748.6L93.0 746.0L93.8 743.1L94.2 740.2L94.2 737.6M113.8 747.4L114.0 744.6L114.5 742.3M116.2 732.9L114.6 733.7M121.9 735.2L120.9 736.8L119.6 738.7M123.0 745.0L121.2 741.6L119.6 738.9M118.9 707.4L119.1 710.3L118.8 712.3M118.9 707.4L120.2 702.6M118.8 712.3L121.3 709.9L123.3 707.2L124.6 704.6M121.3 702.1L120.2 702.6M121.3 702.1L124.1 703.3M124.1 703.3L124.6 704.6M116.1 699.3L120.2 702.6M114.8 708.8L118.9 707.4M121.7 699.0L120.9 700.3L121.3 702.1M126.0 699.9L124.6 701.0L124.1 703.3M129.7 709.5L126.9 706.7L124.6 704.6M112.7 714.8L115.2 714.3L117.8 713.5M112.7 714.8L112.5 715.9M115.3 716.8L116.8 716.1L118.8 716.1M115.3 716.8L112.5 715.9M118.7 714.8L117.8 713.5M112.0 713.7L112.7 714.8M118.8 712.3L117.8 713.5M109.6 716.5L111.2 716.3L112.5 715.9M115.7 718.6L115.3 716.8M85.6 734.2L88.9 734.2L93.1 735.1M85.6 734.2L84.3 733.4M93.1 735.1L90.9 732.1L89.0 729.5L87.8 727.6M83.9 730.7L86.0 729.2L87.8 727.6M94.2 735.8L93.1 735.1M89.6 724.8L87.8 727.6M94.2 737.6L91.8 739.0L89.4 740.7L86.9 742.6M85.6 734.2L84.3 736.1L83.2 738.5M86.9 742.6L83.2 738.5M80.1 738.9L81.2 739.6M76.7 746.1L79.8 744.2M79.8 744.2L81.2 739.6M81.2 739.6L83.2 738.5M90.3 686.0L88.2 685.4M93.9 678.6L90.9 675.7M90.9 675.7L89.0 676.0M89.0 676.0L87.7 681.4M87.7 681.4L88.2 685.4M88.4 692.3L92.1 691.3M83.1 689.4L85.4 688.1L88.2 685.4M96.7 675.9L98.5 679.1M91.1 674.2L90.9 675.7M86.7 674.7L89.0 676.0M82.3 684.0L84.9 682.6L87.7 681.4M87.0 744.4L83.3 747.4M87.0 744.4L89.8 747.4L91.5 749.0M87.3 752.0L85.6 751.0L83.4 749.3M88.3 751.9L89.7 750.7L91.5 749.0M83.4 749.3L83.3 747.4M86.9 742.6L87.0 744.4M79.8 744.2L83.3 747.4M92.1 748.6L91.5 749.0M78.8 750.5L81.0 749.9L83.4 749.3M69.7 694.9L72.8 694.1L75.1 692.9L76.7 691.4L76.3 689.6L76.4 689.0L78.1 688.3L78.2 687.1L78.0 684.8L77.1 681.5L74.1 681.2L71.2 681.1L68.7 681.3L66.6 681.8L64.7 682.3L63.1 684.1L62.6 685.1L63.3 686.3L64.7 688.6L67.4 691.5L69.7 694.9M147.2 693.4L146.8 692.4L148.5 691.1L151.3 688.1L149.6 686.2L147.0 683.5L144.2 681.1L141.4 682.0L138.9 683.1L136.5 684.3L133.9 684.9L130.9 684.9L130.6 686.9L130.7 688.3L131.4 690.0L132.1 692.3L134.4 693.4L137.5 695.4L140.7 697.7L143.2 696.8L144.9 695.6L146.1 694.4L147.2 693.4M102.5 695.5L105.1 696.6L107.1 697.7L108.6 699.0L111.0 700.2L114.4 702.7L115.6 700.2L116.3 699.0L117.6 698.6L118.2 697.4L119.5 695.0L120.7 691.5L120.9 687.7L119.0 684.8L117.7 683.2L116.9 682.2L114.9 681.8L112.4 680.8L109.6 679.6L106.9 678.6L104.7 678.2L103.1 678.3L101.6 678.8L99.8 679.1L97.6 679.0L94.8 678.7L92.0 678.5L91.2 683.6L89.0 688.4L91.4 690.7L93.0 691.9L94.2 692.2L95.7 692.6L98.8 693.8L102.5 695.5M75.9 720.2L74.8 719.6L73.5 718.9L70.3 718.8L67.0 718.3L63.8 717.7L64.8 720.5L65.7 724.1L65.8 727.8L65.3 730.7L64.6 732.5L64.4 733.7L64.7 735.0L64.9 737.1L66.5 738.4L68.6 740.5L71.0 743.0L74.2 742.9L76.8 742.2L78.9 741.1L80.3 738.6L81.6 736.6L83.1 734.9L84.6 733.1L84.2 731.4L83.1 728.9L81.5 726.0L80.0 723.1L78.2 721.7L81.0 723.2L83.9 724.8L86.2 725.9L88.6 725.2L91.0 724.3L93.9 723.4L97.3 721.0L100.2 718.2L102.1 715.6L101.0 713.1L99.7 711.9L99.8 711.3L101.5 710.0L103.3 707.3L104.2 703.1L102.9 698.5L99.1 695.4L95.3 693.4L92.5 692.8L91.3 693.1L89.9 693.3L88.2 693.1L85.9 692.7L83.5 692.1L81.8 693.0L79.9 694.3L77.6 696.0L75.2 697.8L72.7 699.5L70.0 701.9L68.7 703.4L69.0 705.3L70.9 708.0L72.7 711.4L73.8 714.9L74.0 717.6L75.1 719.2L75.9 720.2M127.8 741.1L130.5 741.8L132.6 741.8L134.3 741.4L136.3 741.2L139.0 741.5L141.5 740.8L144.0 740.2L146.4 739.7L148.5 739.1L150.4 738.5L150.9 736.8L151.9 734.5L153.0 731.3L152.6 728.0L152.0 724.8L151.5 722.2L151.4 720.0L151.4 718.1L151.4 716.2L150.1 715.1L148.3 713.3L145.7 710.7L142.9 708.1L140.6 707.6L138.7 707.6L137.3 708.0L135.9 708.4L134.1 708.4L131.7 708.0L129.8 709.4L127.3 711.0L124.6 712.4L121.6 713.5L118.9 714.3L118.6 715.7L119.8 717.4L121.0 720.5L121.9 724.0L121.7 727.5L120.9 730.3L120.1 732.2L119.7 733.5L120.9 734.4L122.9 735.9L125.4 738.3L127.8 741.1M106.7 745.9L109.1 744.7L111.4 743.4L113.5 742.1L115.4 740.7L115.9 738.4L115.6 736.2L115.1 734.1L113.0 732.2L111.1 730.1L109.8 728.1L109.4 726.4L108.1 726.1L106.7 725.6L104.7 724.5L101.3 724.6L97.8 724.5L94.6 724.5L91.8 724.8L91.1 726.9L91.4 729.0L92.1 731.3L92.7 733.7L94.5 736.2L95.8 738.4L96.4 740.4L96.6 742.2L98.3 742.3L100.6 743.0L103.6 744.4L106.7 745.9" stroke="#e996de" stroke-width="2.30"/><path d="M158.4 720.6L155.4 721.9L152.3 723.2M158.4 725.7L155.5 724.5L152.3 723.2M59.0 745.6L60.9 746.2M62.3 750.8L61.2 748.4L60.9 746.2M61.7 739.5L63.2 738.1L64.6 736.7M64.6 736.7L64.9 736.7M65.2 737.3L64.6 741.1L63.5 744.8M60.9 746.2L63.5 744.8M152.3 723.2L151.7 723.2M152.2 725.7L154.5 728.8L156.1 731.5L156.9 733.2M157.1 716.0L154.2 714.6M154.2 714.6L151.4 716.4M154.2 714.6L154.1 712.8L154.4 711.2M150.4 710.6L150.7 713.2L151.0 715.9M150.4 710.6L152.7 709.3M152.7 709.3L153.4 710.4L154.4 711.2M155.0 711.1L154.4 711.2M60.6 688.2L61.5 686.2L62.6 685.1M60.8 688.9L63.8 691.2M63.8 691.2L62.9 696.8M59.5 697.8L62.9 696.8M68.8 681.2L70.2 678.2L70.8 675.1M73.4 681.2L75.5 677.4L76.3 673.9M68.0 751.7L68.8 750.1L70.0 748.6M63.5 744.8L66.8 746.7L70.0 748.5M70.0 748.5L70.0 748.6M70.0 748.5L70.8 746.1L71.5 743.0M59.5 730.5L62.6 730.3L65.5 729.8M60.2 733.3L62.9 735.1L64.6 736.7M150.4 710.6L148.0 709.8L145.2 708.7M144.3 709.3L145.2 708.7M157.5 688.3L153.6 688.5M155.2 694.6L153.1 694.2L151.3 693.9M153.6 688.5L152.5 689.4M152.5 689.4L150.5 691.4L149.7 692.5L150.4 693.5M151.3 693.9L150.4 693.5M150.3 676.6L151.1 680.4M150.3 676.6L152.8 677.6L154.9 678.0L156.5 677.9M151.1 680.4L153.9 683.6L154.9 686.0M156.5 677.9L157.0 679.4L156.7 682.3L154.9 686.0M148.1 675.3L150.3 676.6M153.6 688.5L154.9 686.0M119.6 681.3L120.6 679.9L121.3 677.6M119.6 681.3L117.7 681.8L115.8 682.0M114.5 677.2L113.4 678.8M113.4 678.8L114.9 681.8M148.2 684.7L150.1 680.8M139.8 682.7L141.7 679.1M150.1 680.8L146.5 678.3L143.5 676.7M143.5 676.7L141.7 679.1M152.5 689.4L149.1 690.6M151.1 680.4L150.1 680.8M142.7 674.4L143.5 676.7M139.0 675.7L140.7 677.2L141.7 679.1M107.1 677.4L106.9 678.7M107.1 677.4L110.0 677.9L113.4 678.8M119.6 681.3L120.7 681.9M120.7 681.9L119.7 683.2L119.4 685.4M109.6 716.5L104.0 713.1M109.6 716.5L110.3 719.1L109.6 722.4L107.7 725.6M104.0 713.1L100.1 712.2M101.6 716.4L104.5 719.7L106.8 723.2L107.7 725.6M113.6 751.7L113.1 748.7M121.4 752.7L120.6 747.9M113.1 748.7L113.8 747.4M113.8 747.4L117.0 747.4L120.6 747.9M128.4 746.0L126.0 745.8L123.0 745.0M128.4 746.0L128.4 746.1M128.4 746.1L127.7 748.5L127.4 751.1M123.0 745.0L120.6 747.9M108.4 752.3L109.8 750.3M103.3 753.3L104.2 749.7L105.1 745.2M109.8 750.3L109.0 748.4L107.4 745.5M113.1 748.7L109.8 750.3M99.5 742.6L96.8 745.8L94.2 748.7M94.2 748.7L95.7 751.5M156.1 737.0L153.9 739.2M156.6 734.1L154.9 735.1L153.1 735.9L151.1 736.4M153.9 739.2L152.4 738.0L151.0 736.5M140.8 749.5L143.4 747.7M140.8 749.5L137.7 748.3L134.4 747.1M143.4 747.7L143.2 744.3L142.1 740.6M133.2 744.8L134.4 747.1M133.2 744.8L135.3 741.3M145.6 751.1L147.0 748.4M147.0 748.4L145.4 748.3L143.4 747.7M132.9 750.6L134.4 747.1M128.4 746.1L130.7 745.4L133.2 744.8M129.6 741.6L128.4 746.0M153.6 708.4L158.2 706.4M153.6 708.4L153.7 705.8L153.2 702.5M153.2 702.5L155.5 697.8M159.4 699.1L155.5 697.8M152.7 709.3L153.6 708.4M145.3 703.4L144.7 706.0L145.2 708.7M145.3 703.4L148.0 701.7M148.0 701.7L153.2 702.5M148.0 701.7L147.6 699.0L146.9 696.7L145.6 694.9M146.8 693.7L148.4 693.3L150.4 693.5M151.3 693.9L155.5 697.8M145.3 703.4L142.2 703.6L139.7 704.1M142.9 696.9L142.6 699.8L141.3 702.3L139.7 704.1M139.7 707.5L139.0 705.8L139.1 704.4M139.1 704.4L139.7 704.1M134.0 675.3L133.9 680.5M134.6 684.8L133.9 680.5M125.8 675.7L126.3 679.2M133.9 680.5L130.0 679.7L126.3 679.2M120.7 681.9L123.3 681.9M123.3 681.9L126.3 679.2M107.1 677.4L106.0 676.6M102.7 678.5L102.6 677.2M75.5 692.6L75.7 695.3L74.7 698.2M70.8 694.7L69.0 699.0M72.7 699.5L69.3 700.1M69.0 699.0L69.3 700.1M83.1 692.3L83.0 692.2M83.0 692.2L79.1 690.4L76.4 689.9M63.8 691.2L66.1 690.0M62.9 696.8L66.1 698.1L69.0 699.0M78.2 687.2L79.5 686.7M83.0 692.2L81.2 689.9L80.8 689.1M80.8 689.1L79.5 688.1L79.5 686.7M65.7 724.6L62.7 721.9L60.1 719.8M66.1 718.1L63.4 716.0M63.4 716.0L61.2 716.4L59.6 717.2M59.5 697.8L61.2 700.4L63.3 703.0M61.4 705.9L62.4 704.2L63.3 703.0M69.3 700.1L66.9 702.1L65.9 703.5M63.3 703.0L65.9 703.5M68.7 703.8L66.4 704.1M66.4 704.1L65.9 703.5M71.0 711.6L67.4 713.1L63.8 714.2M71.0 711.6L68.5 709.0L66.7 707.2M66.7 707.2L64.8 709.7M64.8 709.7L63.0 713.4M63.8 714.2L63.0 713.4M75.8 720.1L75.7 720.1M73.1 712.3L71.0 711.6M63.4 716.0L63.8 714.2M66.4 704.1L66.7 707.2M61.7 707.8L64.8 709.7M60.2 714.3L63.0 713.4M115.7 718.6L117.8 721.9L119.7 725.9M115.7 718.6L113.8 720.9L111.3 723.6L108.2 726.1M119.7 725.9L117.1 728.4M109.3 726.4L111.5 726.6L114.2 727.3L117.1 728.4M122.0 725.6L119.7 725.9M119.7 733.4L116.2 732.9M117.1 728.4L116.2 732.9M112.5 704.9L109.6 706.1L106.5 707.5M112.5 704.9L112.5 701.3M107.7 698.1L106.6 700.8L104.4 704.2M104.4 704.2L105.4 705.8L106.5 707.5M97.4 694.3L96.6 693.2L96.9 693.0M104.2 704.2L104.4 704.2M104.0 713.1L104.8 712.7M104.8 712.7L105.1 710.7L106.5 707.5M104.8 712.7L108.4 713.4L112.0 713.7M112.5 704.9L114.8 708.8M114.8 708.8L112.0 713.7M107.7 725.6L107.5 726.0M93.9 724.5L93.5 723.5M76.3 746.0L74.1 747.6L72.0 749.0M76.3 746.0L76.7 746.1M76.7 746.1L76.7 748.2L78.0 750.3M72.0 749.0L73.2 750.4M70.0 748.6L72.0 749.0M76.3 742.4L76.3 746.0M149.4 746.6L150.3 747.9L151.7 749.7M149.4 746.6L151.3 743.1M151.3 743.1L154.0 740.2M151.7 749.7L154.9 749.4L158.1 749.0M158.3 743.5L155.9 741.5L154.0 740.2M151.0 751.7L151.7 749.7M147.0 748.4L149.4 746.6M147.7 739.4L150.0 741.4L151.3 743.1M153.9 739.2L154.0 740.2M130.5 693.1L129.4 695.3M130.5 693.1L129.5 690.0L127.9 687.1M129.4 695.3L127.1 695.4L124.0 694.7L120.2 693.4M127.9 687.1L127.4 686.9M127.4 686.9L126.0 687.6L124.5 688.8L122.7 690.4L120.5 692.3M132.1 692.0L130.5 693.1M130.6 686.9L127.9 687.1M121.7 699.0L120.9 697.0L120.0 693.9M121.7 699.0L124.1 699.8L126.0 699.9M126.0 699.9L128.1 699.4M128.1 699.4L128.7 697.7L129.4 695.3M123.3 681.9L125.1 684.3L127.4 686.9M129.7 700.0L132.6 700.0M129.7 700.0L130.0 702.0L131.1 704.6L132.4 708.1M132.6 700.0L135.0 701.9L137.0 703.5L138.4 704.6M134.4 708.5L135.5 706.8L136.7 705.6L138.4 704.6M128.1 699.4L129.7 700.0M136.8 694.9L135.0 697.8L132.6 700.0M139.1 704.4L138.4 704.6M79.5 686.7L82.3 684.0M83.0 675.0L83.8 679.0L82.3 684.0M90.5 693.3L88.4 692.3M80.8 689.1L83.1 689.4M88.4 692.3L85.8 691.0L83.1 689.4M113.6 742.0L114.5 742.3M115.6 736.0L117.8 737.4L119.6 738.7M114.5 742.3L117.0 740.5L119.6 738.9M119.6 738.7L119.6 738.9M94.2 748.7L92.1 748.6M94.8 736.6L94.2 737.6M92.1 748.6L93.0 746.0L93.8 743.1L94.2 740.2L94.2 737.6M113.8 747.4L114.0 744.6L114.5 742.3M116.2 732.9L114.6 733.7M121.9 735.2L120.9 736.8L119.6 738.7M123.0 745.0L121.2 741.6L119.6 738.9M118.9 707.4L119.1 710.3L118.8 712.3M118.9 707.4L120.2 702.6M118.8 712.3L121.3 709.9L123.3 707.2L124.6 704.6M121.3 702.1L120.2 702.6M121.3 702.1L124.1 703.3M124.1 703.3L124.6 704.6M116.1 699.3L120.2 702.6M114.8 708.8L118.9 707.4M121.7 699.0L120.9 700.3L121.3 702.1M126.0 699.9L124.6 701.0L124.1 703.3M129.7 709.5L126.9 706.7L124.6 704.6M112.7 714.8L115.2 714.3L117.8 713.5M112.7 714.8L112.5 715.9M115.3 716.8L116.8 716.1L118.8 716.1M115.3 716.8L112.5 715.9M118.7 714.8L117.8 713.5M112.0 713.7L112.7 714.8M118.8 712.3L117.8 713.5M109.6 716.5L111.2 716.3L112.5 715.9M115.7 718.6L115.3 716.8M85.6 734.2L88.9 734.2L93.1 735.1M85.6 734.2L84.3 733.4M93.1 735.1L90.9 732.1L89.0 729.5L87.8 727.6M83.9 730.7L86.0 729.2L87.8 727.6M94.2 735.8L93.1 735.1M89.6 724.8L87.8 727.6M94.2 737.6L91.8 739.0L89.4 740.7L86.9 742.6M85.6 734.2L84.3 736.1L83.2 738.5M86.9 742.6L83.2 738.5M80.1 738.9L81.2 739.6M76.7 746.1L79.8 744.2M79.8 744.2L81.2 739.6M81.2 739.6L83.2 738.5M90.3 686.0L88.2 685.4M93.9 678.6L90.9 675.7M90.9 675.7L89.0 676.0M89.0 676.0L87.7 681.4M87.7 681.4L88.2 685.4M88.4 692.3L92.1 691.3M83.1 689.4L85.4 688.1L88.2 685.4M96.7 675.9L98.5 679.1M91.1 674.2L90.9 675.7M86.7 674.7L89.0 676.0M82.3 684.0L84.9 682.6L87.7 681.4M87.0 744.4L83.3 747.4M87.0 744.4L89.8 747.4L91.5 749.0M87.3 752.0L85.6 751.0L83.4 749.3M88.3 751.9L89.7 750.7L91.5 749.0M83.4 749.3L83.3 747.4M86.9 742.6L87.0 744.4M79.8 744.2L83.3 747.4M92.1 748.6L91.5 749.0M78.8 750.5L81.0 749.9L83.4 749.3M69.7 694.9L72.8 694.1L75.1 692.9L76.7 691.4L76.3 689.6L76.4 689.0L78.1 688.3L78.2 687.1L78.0 684.8L77.1 681.5L74.1 681.2L71.2 681.1L68.7 681.3L66.6 681.8L64.7 682.3L63.1 684.1L62.6 685.1L63.3 686.3L64.7 688.6L67.4 691.5L69.7 694.9M147.2 693.4L146.8 692.4L148.5 691.1L151.3 688.1L149.6 686.2L147.0 683.5L144.2 681.1L141.4 682.0L138.9 683.1L136.5 684.3L133.9 684.9L130.9 684.9L130.6 686.9L130.7 688.3L131.4 690.0L132.1 692.3L134.4 693.4L137.5 695.4L140.7 697.7L143.2 696.8L144.9 695.6L146.1 694.4L147.2 693.4M102.5 695.5L105.1 696.6L107.1 697.7L108.6 699.0L111.0 700.2L114.4 702.7L115.6 700.2L116.3 699.0L117.6 698.6L118.2 697.4L119.5 695.0L120.7 691.5L120.9 687.7L119.0 684.8L117.7 683.2L116.9 682.2L114.9 681.8L112.4 680.8L109.6 679.6L106.9 678.6L104.7 678.2L103.1 678.3L101.6 678.8L99.8 679.1L97.6 679.0L94.8 678.7L92.0 678.5L91.2 683.6L89.0 688.4L91.4 690.7L93.0 691.9L94.2 692.2L95.7 692.6L98.8 693.8L102.5 695.5M75.9 720.2L74.8 719.6L73.5 718.9L70.3 718.8L67.0 718.3L63.8 717.7L64.8 720.5L65.7 724.1L65.8 727.8L65.3 730.7L64.6 732.5L64.4 733.7L64.7 735.0L64.9 737.1L66.5 738.4L68.6 740.5L71.0 743.0L74.2 742.9L76.8 742.2L78.9 741.1L80.3 738.6L81.6 736.6L83.1 734.9L84.6 733.1L84.2 731.4L83.1 728.9L81.5 726.0L80.0 723.1L78.2 721.7L81.0 723.2L83.9 724.8L86.2 725.9L88.6 725.2L91.0 724.3L93.9 723.4L97.3 721.0L100.2 718.2L102.1 715.6L101.0 713.1L99.7 711.9L99.8 711.3L101.5 710.0L103.3 707.3L104.2 703.1L102.9 698.5L99.1 695.4L95.3 693.4L92.5 692.8L91.3 693.1L89.9 693.3L88.2 693.1L85.9 692.7L83.5 692.1L81.8 693.0L79.9 694.3L77.6 696.0L75.2 697.8L72.7 699.5L70.0 701.9L68.7 703.4L69.0 705.3L70.9 708.0L72.7 711.4L73.8 714.9L74.0 717.6L75.1 719.2L75.9 720.2M127.8 741.1L130.5 741.8L132.6 741.8L134.3 741.4L136.3 741.2L139.0 741.5L141.5 740.8L144.0 740.2L146.4 739.7L148.5 739.1L150.4 738.5L150.9 736.8L151.9 734.5L153.0 731.3L152.6 728.0L152.0 724.8L151.5 722.2L151.4 720.0L151.4 718.1L151.4 716.2L150.1 715.1L148.3 713.3L145.7 710.7L142.9 708.1L140.6 707.6L138.7 707.6L137.3 708.0L135.9 708.4L134.1 708.4L131.7 708.0L129.8 709.4L127.3 711.0L124.6 712.4L121.6 713.5L118.9 714.3L118.6 715.7L119.8 717.4L121.0 720.5L121.9 724.0L121.7 727.5L120.9 730.3L120.1 732.2L119.7 733.5L120.9 734.4L122.9 735.9L125.4 738.3L127.8 741.1M106.7 745.9L109.1 744.7L111.4 743.4L113.5 742.1L115.4 740.7L115.9 738.4L115.6 736.2L115.1 734.1L113.0 732.2L111.1 730.1L109.8 728.1L109.4 726.4L108.1 726.1L106.7 725.6L104.7 724.5L101.3 724.6L97.8 724.5L94.6 724.5L91.8 724.8L91.1 726.9L91.4 729.0L92.1 731.3L92.7 733.7L94.5 736.2L95.8 738.4L96.4 740.4L96.6 742.2L98.3 742.3L100.6 743.0L103.6 744.4L106.7 745.9" stroke="#d846c4" stroke-width="1.3"/></g><path d="M88.5 692.5h0M148.9 693.6h0M118.9 717.5h0M156.8 701.2h0M143.3 680.3h0M104.7 713.0h0M94.1 739.7h0" stroke="#d846c4" stroke-width="3.0" stroke-linecap="round"/><path d="M93.4 742.4h0M153.8 736.9h0M88.7 744.0h0M64.3 736.0h0M140.2 678.8h0M139.1 744.9h0M124.6 703.1h0M150.9 710.7h0M72.6 717.9h0M150.0 691.2h0" stroke="#d846c4" stroke-width="4.0" stroke-linecap="round"/><path d="M88.5 744.1h0" stroke="#d846c4" stroke-width="5.0" stroke-linecap="round"/><path d="M62.5 685.7h0M154.9 741.1h0M139.3 748.7h0M154.1 713.2h0M126.3 739.2h0M118.8 733.9h0M152.5 690.2h0M145.9 709.4h0M121.1 748.0h0M121.1 709.8h0M109.6 728.4h0M140.0 681.8h0M99.0 742.8h0M136.7 740.7h0M111.4 680.5h0M83.5 684.1h0M118.0 747.9h0M115.1 681.9h0M61.9 685.9h0M148.0 693.9h0M66.8 747.2h0M119.7 684.2h0M147.1 710.0h0M154.8 715.3h0M72.0 743.2h0M80.7 688.6h0M149.8 748.3h0M86.9 727.4h0M68.8 701.2h0M99.0 694.6h0M81.8 727.5h0M155.7 749.9h0M76.2 690.3h0M64.3 688.9h0M155.9 688.1h0M155.8 738.5h0M129.8 700.3h0M101.8 678.8h0M83.1 691.6h0M107.6 698.5h0M66.8 718.5h0M150.0 682.1h0M151.8 710.3h0M126.4 699.8h0M125.1 679.5h0M127.8 751.3h0M142.0 704.0h0M65.5 731.1h0M70.5 742.3h0M140.5 703.0h0M150.1 692.8h0M112.6 715.7h0M152.1 710.3h0M133.6 677.0h0M73.0 710.3h0M121.6 728.8h0M102.5 712.5h0M146.3 702.7h0M84.5 739.7h0M66.6 718.4h0M141.7 681.2h0M63.7 744.1h0M150.3 678.0h0M121.2 726.5h0M83.9 748.4h0M106.2 721.3h0M70.1 711.7h0M137.3 707.1h0M153.6 739.0h0M154.4 688.6h0M66.3 737.7h0M87.5 742.2h0M73.2 680.7h0M151.2 702.9h0M72.2 699.6h0M102.7 724.2h0M150.2 690.4h0M60.5 698.9h0M113.5 721.7h0M83.3 735.2h0M82.1 739.8h0M98.4 742.1h0M76.8 691.0h0M153.5 713.4h0M100.5 695.7h0M120.9 694.0h0M153.6 739.3h0M106.9 700.2h0M143.8 675.9h0M92.5 729.9h0M62.8 687.1h0M128.5 708.2h0M64.3 687.1h0M120.0 693.0h0M92.0 677.0h0M63.0 712.4h0M105.8 678.3h0M74.4 743.2h0M127.6 710.9h0M142.8 742.4h0M80.8 691.4h0M123.0 682.0h0M63.0 697.6h0M71.8 743.3h0M61.9 701.1h0M63.9 703.0h0M150.9 686.5h0M80.8 685.0h0M140.8 697.0h0M91.7 733.5h0M149.9 693.6h0M137.8 742.0h0M107.5 677.5h0M84.7 740.8h0M62.3 690.2h0M112.4 701.7h0M138.6 704.2h0M117.1 682.2h0M96.5 740.4h0M155.5 735.0h0M153.0 706.0h0M69.2 703.7h0M120.7 711.3h0M158.0 699.4h0M80.9 722.8h0M155.9 677.7h0M85.2 740.1h0M120.0 704.9h0M121.2 750.7h0M152.2 727.9h0M133.6 684.8h0M126.4 699.7h0M117.8 723.0h0M75.9 677.7h0M143.7 677.3h0M68.5 713.2h0M139.9 749.8h0M134.7 741.8h0M101.1 743.9h0M78.9 686.7h0M101.4 723.8h0M120.4 693.2h0M118.4 713.8h0M103.0 677.0h0M98.3 743.1h0M153.1 723.3h0M63.9 695.5h0M73.5 711.3h0M115.6 717.5h0M112.3 705.1h0M69.2 712.0h0M74.6 697.4h0M128.0 746.9h0M156.9 681.2h0M151.3 678.7h0M132.9 749.1h0M65.2 729.4h0M64.7 742.1h0M120.0 682.5h0M142.7 680.7h0M80.2 723.5h0M85.4 730.1h0M151.0 737.1h0M78.5 741.8h0M69.4 749.4h0M73.9 712.5h0M99.8 710.5h0M116.1 741.1h0M83.0 683.6h0M62.5 686.0h0M95.8 739.0h0M121.2 720.4h0M120.0 696.4h0M89.9 750.8h0M105.7 707.3h0M92.5 678.7h0M68.0 692.1h0M124.9 683.4h0M69.9 748.1h0M64.0 709.9h0M135.4 694.7h0M103.3 753.6h0M135.7 684.4h0M89.1 688.7h0M71.2 711.6h0M118.3 707.7h0M119.6 682.0h0M142.3 742.2h0M76.6 696.7h0M69.4 711.3h0M67.8 698.7h0M156.1 706.9h0M67.1 739.7h0M73.8 679.4h0M108.0 725.5h0M109.6 728.5h0M116.5 736.6h0M83.1 724.8h0M73.6 712.6h0M105.3 714.5h0" stroke="#552596" stroke-width="1.3" stroke-linecap="round"/><path d="M88.9 693.6h0M82.5 692.9h0M115.3 734.1h0M137.1 695.3h0M78.1 740.8h0M109.3 723.4h0M119.1 700.4h0M138.7 696.6h0M106.6 714.6h0M118.4 739.2h0M70.2 680.5h0M143.2 744.2h0M127.2 711.8h0M83.8 747.5h0M114.2 728.0h0M63.5 737.4h0M154.6 708.0h0M138.8 748.7h0M75.4 746.0h0M151.3 737.3h0M150.9 751.1h0M145.2 682.7h0M140.4 708.3h0M82.2 727.4h0M99.2 724.4h0M63.9 735.0h0M95.9 738.4h0M116.2 736.0h0M120.9 695.1h0M96.6 694.2h0M103.6 678.5h0M88.2 745.8h0M145.6 749.0h0M143.5 697.6h0M76.3 743.0h0M133.1 678.2h0M133.7 681.5h0M60.8 721.2h0M118.3 713.1h0M119.1 716.9h0M61.0 716.8h0M107.3 715.2h0M65.2 697.6h0M127.6 695.8h0M146.6 693.4h0M119.0 748.0h0M78.7 690.6h0M63.9 717.1h0M145.4 707.3h0M109.6 728.3h0M154.9 711.9h0M153.4 731.2h0M88.2 729.3h0M80.0 740.2h0M65.4 737.3h0M119.2 739.0h0M73.7 713.9h0M67.9 691.5h0M133.2 684.7h0M147.2 699.1h0M110.2 679.2h0M155.4 684.4h0M63.5 696.8h0M113.8 744.4h0M83.6 731.0h0M120.7 694.4h0M121.2 728.7h0M103.5 706.8h0M68.0 747.4h0M141.8 679.0h0M69.9 698.8h0M76.9 745.7h0M151.6 719.1h0M85.8 726.0h0M152.0 720.7h0M124.9 737.9h0M112.6 730.8h0M145.8 702.7h0M108.3 725.9h0M73.3 718.1h0M103.1 743.2h0M143.3 704.3h0M76.9 744.9h0M125.2 684.2h0M85.1 739.9h0M64.1 691.8h0M75.2 696.4h0M92.8 747.9h0M91.3 748.5h0M155.6 707.8h0M64.9 736.5h0M120.3 693.3h0M87.1 674.9h0M71.3 700.3h0M124.1 705.7h0M90.7 726.0h0M95.3 751.0h0M69.1 717.9h0M66.3 690.8h0M150.2 692.6h0M109.3 750.8h0M119.3 748.1h0M82.2 738.7h0M69.0 705.5h0M113.2 678.8h0M118.1 714.2h0M148.0 690.7h0M94.5 693.7h0M60.8 713.4h0M156.1 683.1h0M122.0 743.0h0M106.2 745.4h0M112.3 703.6h0M64.0 718.0h0M123.9 705.2h0M127.5 679.9h0M62.6 697.2h0M102.1 725.0h0M61.1 700.0h0M134.1 743.9h0M113.7 707.1h0M125.1 705.0h0M107.0 677.1h0M70.8 747.1h0M145.7 709.3h0M88.4 680.9h0M114.4 717.4h0M68.5 712.1h0M120.1 711.6h0M105.6 677.2h0M147.5 713.1h0M114.0 749.9h0M94.3 725.2h0M71.6 710.9h0M71.0 695.1h0M63.3 744.6h0M125.4 700.5h0M65.6 729.6h0M127.1 746.4h0M143.6 698.1h0M135.6 696.2h0M130.0 679.1h0M107.2 724.4h0M70.5 719.3h0M123.6 690.5h0M114.3 719.5h0M126.4 679.7h0M154.4 699.1h0M115.6 746.8h0M67.9 692.2h0M128.8 744.9h0M62.4 749.7h0M119.1 726.0h0M121.8 677.4h0M149.5 746.6h0M80.1 689.6h0M115.5 713.3h0M139.8 682.2h0M129.6 687.5h0M143.1 697.9h0M150.4 714.1h0M116.1 681.5h0M150.0 744.7h0M64.6 744.5h0M150.7 742.1h0M95.0 750.0h0" stroke="#552596" stroke-width="1.8" stroke-linecap="round"/></g><text x="65.4" y="742.7" font-size="5.6" fill="#111">50 μm</text><line x1="65.2" y1="744.6" x2="76.2" y2="744.6" stroke="#111" stroke-width="1"/><rect x="63.8" y="679.9" width="89.9" height="67.7" fill="none" stroke="#2a2a2a" stroke-width="1.3"/>
<clipPath id="he12"><rect x="160.1" y="679.3" width="90.6" height="68.9"/></clipPath><g clip-path="url(#he12)"><rect x="160.1" y="679.3" width="90.6" height="68.9" fill="#fefafe"/><g fill="none" stroke-linejoin="round" stroke-linecap="round"><path d="M251.8 717.9L253.8 717.6M254.2 711.6L251.9 712.0M155.4 707.9L159.7 709.6M159.7 709.6L161.9 709.4M158.8 700.2L161.0 701.9L162.7 703.4M161.9 709.4L162.3 706.6L162.7 703.4M161.8 694.8L161.3 695.4L160.0 695.5M161.8 694.8L162.8 698.2L163.5 702.0M163.5 702.0L162.7 703.4M158.8 691.2L159.7 690.8M161.8 694.8L161.7 693.0M161.7 693.0L159.7 690.8M177.8 679.2L176.4 680.0M172.1 675.6L172.4 677.3M176.4 680.0L174.7 679.1L173.4 678.2L172.4 677.3M207.1 725.6L205.5 725.7L204.1 724.9L202.5 723.3M209.2 718.9L206.7 718.4L205.1 717.8L204.0 716.9L202.8 715.7M201.9 716.1L202.8 715.7M202.8 715.7L203.5 713.0L204.0 709.8L204.9 706.7L206.4 704.2M210.3 707.0L206.4 704.2M197.9 708.7L198.1 710.8L197.5 712.9M204.4 702.9L205.9 703.5M205.9 703.5L206.4 704.2M223.9 686.2L225.0 686.8L225.6 686.6M223.9 686.2L222.6 684.1L221.1 682.3M221.1 682.3L221.6 681.1M221.6 681.1L223.6 681.2L225.0 679.8M214.3 684.6L212.1 688.2L210.8 691.6M214.3 684.6L217.1 686.1L219.5 688.3M219.5 688.3L217.4 690.7L215.7 693.8M215.7 693.8L213.2 696.2M213.2 696.2L211.7 695.0M214.3 683.4L217.8 682.2L221.1 682.3M214.3 683.4L214.3 684.6M222.2 688.5L219.5 688.3M222.2 688.5L223.3 687.2L223.9 686.2M213.2 701.7L211.4 702.2L208.8 702.4L205.9 703.5M213.2 701.7L213.2 699.1L213.2 696.2M254.7 727.2L252.9 725.0M196.1 678.3L196.4 675.7M196.1 678.3L198.1 681.2M202.3 683.8L201.8 681.9L201.3 680.0L201.1 677.7M214.3 683.4L212.3 682.5M206.0 684.4L208.7 683.6L212.3 682.5M206.0 684.4L205.5 686.1M205.4 679.9L206.0 684.4M205.4 679.9L203.1 677.6M187.1 676.4L187.2 676.9M196.1 678.3L193.6 678.9L191.1 680.3M191.1 680.3L189.3 678.6L187.2 676.9M177.8 679.2L181.5 680.6M181.5 680.6L184.7 678.8L187.2 676.9M166.7 718.7L165.3 720.9L163.7 723.6M166.7 718.7L170.9 718.7M170.9 718.7L172.2 720.9M172.2 720.9L171.6 723.9L170.3 727.3M163.7 723.6L165.8 726.7M165.8 726.7L170.3 727.3M154.9 714.6L157.1 714.2M156.7 722.2L158.9 719.0L162.2 716.8M157.1 714.2L159.6 715.6L162.2 716.8M160.3 725.3L156.9 723.2M160.3 725.3L163.7 723.6M162.9 716.8L162.2 716.8M162.9 716.8L166.7 718.7M160.3 725.3L159.5 728.5L158.9 731.3M165.8 726.7L163.7 729.6L162.1 732.4M162.1 732.4L160.6 731.7L158.9 731.3M158.9 731.3L157.9 731.8M163.3 750.4L161.5 748.0L159.9 745.5M190.1 712.9L188.4 710.3M188.4 710.3L189.7 707.2L190.5 704.9M252.1 695.0L252.1 695.0M252.1 695.0L250.5 695.8L249.2 696.8L247.9 697.8M247.9 697.8L249.7 699.6L251.8 701.2L254.1 702.3M249.7 708.2L249.7 707.9M254.2 702.7L252.1 705.3L249.7 707.9M159.7 690.8L159.0 688.4L158.8 685.7M158.8 685.7L156.3 687.4M159.7 709.6L158.1 711.8L157.1 714.2M176.4 680.0L175.5 683.0L174.5 686.0M172.4 677.3L171.8 679.6L170.6 681.8M170.6 681.8L171.1 683.9M174.5 686.0L172.8 685.2L171.1 683.9M215.8 709.0L215.1 706.8L214.8 704.2M217.1 710.5L217.6 709.3L218.8 707.2L221.2 704.7M214.8 704.2L216.7 700.0M221.2 704.7L220.1 700.1M220.1 700.1L216.7 700.0M213.2 701.7L214.8 704.2M222.3 704.8L223.8 707.1L225.5 709.0M222.3 704.8L221.2 704.7M225.2 710.0L225.5 709.0M215.7 693.8L216.2 696.9L216.7 700.0M215.7 733.5L216.8 735.6L217.8 738.0L218.6 740.7M215.7 733.5L217.5 733.3L219.8 733.6L222.5 734.4M222.6 739.0L222.5 736.6L222.5 734.4M215.3 733.3L215.7 733.5M225.3 733.5L222.5 734.4M243.5 676.6L244.2 678.6M237.1 676.0L237.4 678.5M244.2 678.6L243.6 680.3M244.2 678.6L247.0 677.8L250.0 677.3M251.5 679.0L250.0 677.3M219.5 677.7L219.4 678.6M209.8 676.3L209.0 677.8M219.4 678.6L216.4 678.7L212.9 679.1M209.0 677.8L212.9 679.1M226.9 675.2L226.2 678.2M221.6 681.1L219.4 678.6M205.4 679.9L209.0 677.8M212.3 682.5L212.9 679.1M222.2 688.5L224.3 690.8M220.1 700.1L224.7 696.1M224.7 696.1L224.5 693.4L224.3 690.8M224.3 690.8L227.0 691.8L228.6 692.3M228.3 690.4L228.6 692.3M247.9 697.8L247.7 697.8M249.7 707.9L247.9 705.9L246.1 703.6M246.1 703.6L247.1 700.5L247.7 697.8M186.7 693.5L183.3 693.1M189.2 684.8L186.4 685.4L183.3 685.8M183.3 693.1L181.9 691.1L180.5 689.0M180.5 689.0L183.3 685.8M191.1 680.3L190.1 684.4M187.7 699.7L185.6 698.4L183.6 697.8M183.6 697.8L181.9 694.8M181.9 694.8L183.3 693.1M181.5 680.6L182.5 683.2L183.3 685.8M175.7 689.6L174.5 686.0M175.7 689.6L180.5 689.0M158.7 736.9L160.9 737.9M159.9 745.5L161.5 743.6L162.6 742.0M162.6 742.0L161.8 739.8L160.9 737.9M162.1 732.4L162.7 734.7M162.7 734.7L162.7 735.3M162.7 735.3L161.8 736.8L160.9 737.9M163.3 750.4L166.1 748.8L168.4 747.1M162.6 742.0L164.3 742.7L166.1 743.2M168.4 747.1L166.1 743.2M162.7 735.3L163.8 737.2L165.2 739.1L167.0 741.0M166.1 743.2L167.0 741.0M170.3 727.3L170.5 728.0M162.7 734.7L164.9 734.1L167.8 733.7M170.5 728.0L169.1 730.9L167.8 733.7M177.8 727.3L177.0 724.6L176.1 722.0M177.8 727.3L176.1 729.9M176.1 722.0L174.1 721.4L172.2 720.9M170.5 728.0L173.2 729.3L176.1 729.9M177.8 727.3L180.5 727.1L183.5 727.3L186.4 727.6M176.1 722.0L177.5 720.1M177.5 720.1L180.2 722.3L183.3 724.3M205.9 730.9L202.5 729.3L198.9 728.4M176.1 729.9L176.0 731.4M176.0 731.4L177.6 732.9L179.3 734.1L181.1 735.2M186.8 727.9L186.4 729.7L185.2 732.0L183.6 734.6M181.1 735.2L183.6 734.6M189.6 743.6L187.2 741.1L184.8 739.3M191.7 736.5L191.5 736.1M191.5 736.1L189.0 736.2L185.8 736.7M184.8 739.3L185.8 736.7M196.9 730.8L196.8 736.4M192.4 732.7L191.5 736.1M183.6 734.6L185.8 736.7M181.8 744.0L183.3 745.7L184.7 747.7M181.8 744.0L180.4 747.6M180.4 747.6L181.7 750.9M184.7 747.7L184.5 750.7M181.7 742.8L184.8 739.3M181.7 742.8L181.8 744.0M189.1 745.8L186.6 746.3L184.7 747.7M195.1 750.8L194.8 749.8M171.9 714.3L172.0 714.3M171.9 714.3L170.2 714.1L168.2 713.9L166.0 713.5M172.0 714.3L171.8 711.7L171.8 708.7M166.0 713.5L164.1 710.7M164.1 710.7L166.5 709.5L168.8 707.6M168.8 707.6L171.8 708.7M162.9 716.8L164.6 715.1L166.0 713.5M170.9 718.7L171.4 716.6L171.9 714.3M161.9 709.4L164.1 710.7M163.5 702.0L165.2 701.3L167.9 700.3M167.9 700.3L168.5 701.0M168.5 701.0L168.7 704.3L168.8 707.6M188.4 710.3L184.5 710.4M189.3 702.8L187.4 702.9L185.6 703.7L183.8 705.0M184.5 710.4L184.2 707.6L183.8 705.0M177.4 719.5L175.9 717.1L174.7 714.9M177.4 719.5L179.6 719.3L182.0 718.4M174.7 714.9L176.4 713.6L178.5 712.2M178.5 712.2L181.9 714.6M182.1 717.4L181.9 714.6M177.5 720.1L177.4 719.5M172.0 714.3L174.7 714.9M184.5 710.4L181.9 714.6M199.8 748.1L200.1 748.0M200.1 748.0L201.5 750.1L202.9 752.1M168.9 681.4L167.5 679.3L165.6 677.5L163.4 676.0M168.9 681.4L165.7 682.9L162.4 684.8M162.4 684.8L159.1 685.3M159.1 685.3L158.8 682.8L158.8 680.1M163.4 676.0L158.8 680.1M163.8 674.9L163.4 676.0M170.6 681.8L168.9 681.4M158.8 685.7L159.1 685.3M181.9 694.8L179.8 695.4L177.7 695.9M175.7 689.6L174.4 691.6M174.4 691.6L175.9 694.0L177.7 695.9M218.6 741.8L217.1 743.7M217.1 743.7L216.7 746.4L216.0 749.0M216.0 749.0L218.4 751.1L220.8 752.2M221.4 750.4L220.8 752.2M250.8 681.6L248.9 683.2L247.2 684.9M250.8 681.6L251.8 683.9L252.7 686.4M247.2 684.9L247.6 687.3L248.0 689.8M252.7 686.4L250.8 688.3L249.2 690.0M248.0 689.8L249.2 690.0M243.5 684.4L245.5 684.7L247.2 684.9M251.5 679.0L250.8 681.6M245.9 691.8L248.0 689.8M245.9 691.8L243.8 690.8L241.0 690.0L237.6 689.5M237.4 689.2L237.6 689.5M252.1 695.0L250.4 692.6L249.2 690.0M245.9 691.8L246.3 694.3L246.9 696.9M246.9 696.9L247.7 697.8M230.5 715.0L231.8 713.1L233.3 711.4L234.9 709.8M225.5 709.0L229.9 707.7L234.0 707.0M234.9 709.8L234.0 707.0M239.2 721.4L241.9 720.8M234.9 709.8L236.6 710.8L238.1 711.8L239.7 712.6M176.4 749.7L176.6 746.6M170.3 750.7L168.4 747.1M168.4 747.1L170.7 746.4L173.1 746.0L175.5 745.9M176.6 746.6L175.5 745.9M180.4 747.6L176.6 746.6M168.4 747.1L168.4 747.1M176.0 740.8L176.1 742.6M176.0 740.8L174.0 739.4L172.2 737.5M167.1 741.0L169.5 742.1L172.1 743.0L174.7 743.8M167.1 741.0L168.2 739.5L169.8 737.6M174.7 743.8L176.1 742.6M169.8 737.6L172.2 737.5M181.7 742.8L179.1 742.8L176.1 742.6M181.1 735.2L178.3 738.2L176.0 740.8M176.0 731.4L174.1 734.7L172.2 737.5M167.0 741.0L167.1 741.0M175.5 745.9L174.7 743.8M167.8 733.7L169.8 737.6M179.6 708.0L181.7 706.5L183.4 704.8M179.6 708.0L176.7 705.9M176.7 705.9L177.3 701.5M182.6 700.3L180.7 700.5L178.3 700.7M182.6 700.3L183.4 704.8M177.3 701.5L178.3 700.7M183.8 705.0L183.4 704.8M178.5 712.2L179.6 708.0M171.8 708.7L176.7 705.9M168.5 701.0L171.4 701.2L174.4 701.3L177.3 701.5M183.6 697.8L182.6 700.3M177.7 695.9L177.3 696.4M177.3 696.4L177.9 698.4L178.3 700.7M167.9 700.3L168.6 696.4M177.3 696.4L174.6 696.6L171.7 696.5L168.6 696.4M201.3 746.2L205.0 744.8L209.2 744.4M201.3 746.2L202.7 742.8L204.6 739.6L206.7 736.9M209.2 744.4L211.8 742.3L213.9 740.6M213.9 740.6L213.2 738.2L212.0 736.1M212.0 736.1L206.7 736.9M200.1 748.0L201.3 746.2M206.1 750.4L209.1 747.3M209.1 747.3L209.2 744.4M198.8 737.5L202.4 737.0L206.7 736.9M217.1 743.7L215.8 742.1L213.9 740.6M214.1 749.4L216.0 749.0M214.1 749.4L209.1 747.3M212.1 736.0L212.0 736.1M168.7 688.4L172.0 691.7M168.7 688.4L164.5 688.6M172.0 691.7L170.1 693.4L168.1 695.4M168.1 695.4L165.5 693.6L163.3 691.9M163.3 691.9L164.5 688.6M171.1 683.9L169.9 686.2L168.7 688.4M174.4 691.6L172.0 691.7M162.4 684.8L163.4 686.6L164.5 688.6M168.6 696.4L168.1 695.4M161.7 693.0L163.3 691.9M240.5 734.3L237.4 734.1L234.3 734.1M240.5 734.3L242.0 736.7M242.0 736.7L239.9 738.2L238.3 739.6M238.3 739.6L235.3 739.6M244.8 727.3L242.7 731.1L240.5 734.3M252.3 736.6L249.7 738.5M243.6 737.4L242.0 736.7M237.6 689.5L237.0 691.9M237.0 691.9L239.0 693.9L240.5 696.4M246.9 696.9L244.0 696.6L240.9 696.6M240.5 696.4L240.9 696.6M246.1 703.6L241.7 704.4M240.9 696.6L241.5 700.3L241.7 704.4M240.0 711.3L240.4 706.4M241.7 704.4L240.4 706.4M234.7 705.6L236.7 703.5M234.7 705.6L232.6 704.0L229.9 702.5M229.9 702.5L231.2 700.2L231.9 698.0M237.0 701.5L236.7 703.5M237.0 701.5L235.3 699.3L233.0 697.3M231.9 698.0L232.8 697.4M233.0 697.3L232.8 697.4M234.0 707.0L234.7 705.6M240.4 706.4L239.1 705.2L237.9 704.3L236.7 703.5M222.3 704.8L226.0 703.4L229.9 702.5M224.7 696.1L228.6 697.2L231.9 698.0M240.5 696.4L238.5 698.8L237.0 701.5M237.0 691.9L235.2 693.7L234.1 695.7L233.0 697.3M228.6 692.3L230.8 694.9L232.8 697.4M220.8 752.2L220.9 753.3M232.9 747.5L233.0 747.6M233.0 747.6L232.1 751.0M214.1 749.4L213.5 751.3M240.3 741.8L239.5 743.7L238.4 746.4M240.3 741.8L243.7 743.5M240.2 749.9L238.4 746.4M240.2 749.9L242.3 748.3L244.4 747.4M238.3 739.6L240.3 741.8M233.0 747.6L236.0 747.0L238.4 746.4M232.3 691.0L235.5 689.7L239.3 688.9L242.9 688.4L243.3 686.2L243.6 683.9L243.7 681.4L243.4 678.8L241.2 679.0L238.7 678.7L235.6 678.1L232.3 677.6L229.2 677.5L226.8 678.0L225.1 678.8L225.0 681.8L225.2 684.5L225.6 686.9L226.4 689.0L227.8 690.2L229.8 690.8L232.3 691.0M200.9 708.5L202.1 705.6L204.3 703.0L207.5 701.5L209.0 700.1L210.3 698.6L211.3 696.8L211.8 694.3L210.8 691.6L209.3 689.0L207.6 686.6L205.3 686.1L203.1 684.5L200.8 682.3L198.8 681.4L196.7 681.2L194.7 681.7L192.8 682.8L190.8 684.0L188.5 685.1L187.9 688.2L187.3 691.0L186.7 693.5L186.4 695.6L186.5 697.5L187.6 699.6L188.8 702.0L190.2 704.4L191.6 706.8L194.4 707.8L197.0 708.5L199.1 708.8L200.9 708.5M197.5 730.6L199.2 728.0L201.1 726.7L202.7 726.0L202.5 724.1L202.5 721.9L202.6 719.6L202.7 717.0L201.0 715.2L198.6 713.5L195.6 711.9L191.6 712.5L187.9 713.9L184.7 715.6L182.1 716.8L182.0 719.3L182.2 721.4L182.7 723.1L183.5 724.7L184.3 726.1L186.4 727.6L188.3 729.1L190.0 730.7L191.3 732.6L192.8 732.7L194.0 732.3L195.4 731.4L197.5 730.6M209.2 719.4L207.7 723.1L206.9 726.5L206.9 729.1L207.0 730.6L206.3 730.9L204.7 731.0L202.6 731.8L204.5 735.8L208.9 735.6L212.3 736.0L214.4 736.2L214.8 735.0L215.4 733.3L216.8 731.5L219.2 730.1L222.6 731.7L225.7 733.9L226.1 736.6L226.9 739.2L223.4 739.0L220.5 739.2L218.5 739.8L218.6 743.5L218.5 747.2L218.1 750.5L220.0 750.7L222.2 750.2L225.2 749.4L228.8 748.7L232.4 748.3L233.8 745.8L234.7 743.6L235.2 741.6L235.3 739.9L235.0 737.7L235.1 735.4L233.8 733.2L232.7 730.6L235.3 728.9L238.2 727.2L240.9 725.5L240.0 723.2L239.0 721.0L238.0 718.9L235.5 717.7L233.0 716.3L230.6 715.2L228.9 712.9L226.9 711.1L224.6 709.7L221.5 711.2L219.5 712.3L217.5 710.8L215.7 708.9L214.3 706.5L212.9 704.0L211.8 705.3L210.3 707.0L210.1 709.5L209.9 712.4L209.5 715.8L209.2 719.4M246.1 731.1L244.8 734.5L243.7 737.3L242.9 739.5L243.3 741.5L243.7 743.5L244.2 745.7L244.4 748.2L247.0 749.2L249.6 750.2L251.8 750.6L250.9 748.6L250.0 746.4L249.5 744.1L249.3 741.5L249.6 738.6L250.3 735.6L251.2 732.4L252.0 729.4L252.6 726.7L252.9 724.4L252.9 722.5L252.6 721.0L252.2 719.6L251.8 718.2L251.7 716.6L251.7 714.6L251.8 712.2L252.0 709.6L252.1 706.9L249.6 708.3L246.8 709.2L244.1 710.0L241.6 710.7L239.7 711.4L239.7 713.9L240.0 716.0L240.5 717.9L241.6 720.1L242.6 722.4L243.4 725.0L244.6 726.9L245.5 728.9L246.1 731.1M198.7 735.6L196.3 736.6L194.7 737.3L193.4 737.3L191.7 736.5L191.0 739.2L190.3 741.6L189.6 743.8L189.1 745.9L188.9 748.1L192.0 748.8L195.1 749.9L197.6 751.0L199.6 751.5L201.1 751.1L200.0 748.8L199.3 746.1L198.9 742.8L198.8 739.2L198.7 735.6" stroke="#e996de" stroke-width="2.30"/><path d="M251.8 717.9L253.8 717.6M254.2 711.6L251.9 712.0M155.4 707.9L159.7 709.6M159.7 709.6L161.9 709.4M158.8 700.2L161.0 701.9L162.7 703.4M161.9 709.4L162.3 706.6L162.7 703.4M161.8 694.8L161.3 695.4L160.0 695.5M161.8 694.8L162.8 698.2L163.5 702.0M163.5 702.0L162.7 703.4M158.8 691.2L159.7 690.8M161.8 694.8L161.7 693.0M161.7 693.0L159.7 690.8M177.8 679.2L176.4 680.0M172.1 675.6L172.4 677.3M176.4 680.0L174.7 679.1L173.4 678.2L172.4 677.3M207.1 725.6L205.5 725.7L204.1 724.9L202.5 723.3M209.2 718.9L206.7 718.4L205.1 717.8L204.0 716.9L202.8 715.7M201.9 716.1L202.8 715.7M202.8 715.7L203.5 713.0L204.0 709.8L204.9 706.7L206.4 704.2M210.3 707.0L206.4 704.2M197.9 708.7L198.1 710.8L197.5 712.9M204.4 702.9L205.9 703.5M205.9 703.5L206.4 704.2M223.9 686.2L225.0 686.8L225.6 686.6M223.9 686.2L222.6 684.1L221.1 682.3M221.1 682.3L221.6 681.1M221.6 681.1L223.6 681.2L225.0 679.8M214.3 684.6L212.1 688.2L210.8 691.6M214.3 684.6L217.1 686.1L219.5 688.3M219.5 688.3L217.4 690.7L215.7 693.8M215.7 693.8L213.2 696.2M213.2 696.2L211.7 695.0M214.3 683.4L217.8 682.2L221.1 682.3M214.3 683.4L214.3 684.6M222.2 688.5L219.5 688.3M222.2 688.5L223.3 687.2L223.9 686.2M213.2 701.7L211.4 702.2L208.8 702.4L205.9 703.5M213.2 701.7L213.2 699.1L213.2 696.2M254.7 727.2L252.9 725.0M196.1 678.3L196.4 675.7M196.1 678.3L198.1 681.2M202.3 683.8L201.8 681.9L201.3 680.0L201.1 677.7M214.3 683.4L212.3 682.5M206.0 684.4L208.7 683.6L212.3 682.5M206.0 684.4L205.5 686.1M205.4 679.9L206.0 684.4M205.4 679.9L203.1 677.6M187.1 676.4L187.2 676.9M196.1 678.3L193.6 678.9L191.1 680.3M191.1 680.3L189.3 678.6L187.2 676.9M177.8 679.2L181.5 680.6M181.5 680.6L184.7 678.8L187.2 676.9M166.7 718.7L165.3 720.9L163.7 723.6M166.7 718.7L170.9 718.7M170.9 718.7L172.2 720.9M172.2 720.9L171.6 723.9L170.3 727.3M163.7 723.6L165.8 726.7M165.8 726.7L170.3 727.3M154.9 714.6L157.1 714.2M156.7 722.2L158.9 719.0L162.2 716.8M157.1 714.2L159.6 715.6L162.2 716.8M160.3 725.3L156.9 723.2M160.3 725.3L163.7 723.6M162.9 716.8L162.2 716.8M162.9 716.8L166.7 718.7M160.3 725.3L159.5 728.5L158.9 731.3M165.8 726.7L163.7 729.6L162.1 732.4M162.1 732.4L160.6 731.7L158.9 731.3M158.9 731.3L157.9 731.8M163.3 750.4L161.5 748.0L159.9 745.5M190.1 712.9L188.4 710.3M188.4 710.3L189.7 707.2L190.5 704.9M252.1 695.0L252.1 695.0M252.1 695.0L250.5 695.8L249.2 696.8L247.9 697.8M247.9 697.8L249.7 699.6L251.8 701.2L254.1 702.3M249.7 708.2L249.7 707.9M254.2 702.7L252.1 705.3L249.7 707.9M159.7 690.8L159.0 688.4L158.8 685.7M158.8 685.7L156.3 687.4M159.7 709.6L158.1 711.8L157.1 714.2M176.4 680.0L175.5 683.0L174.5 686.0M172.4 677.3L171.8 679.6L170.6 681.8M170.6 681.8L171.1 683.9M174.5 686.0L172.8 685.2L171.1 683.9M215.8 709.0L215.1 706.8L214.8 704.2M217.1 710.5L217.6 709.3L218.8 707.2L221.2 704.7M214.8 704.2L216.7 700.0M221.2 704.7L220.1 700.1M220.1 700.1L216.7 700.0M213.2 701.7L214.8 704.2M222.3 704.8L223.8 707.1L225.5 709.0M222.3 704.8L221.2 704.7M225.2 710.0L225.5 709.0M215.7 693.8L216.2 696.9L216.7 700.0M215.7 733.5L216.8 735.6L217.8 738.0L218.6 740.7M215.7 733.5L217.5 733.3L219.8 733.6L222.5 734.4M222.6 739.0L222.5 736.6L222.5 734.4M215.3 733.3L215.7 733.5M225.3 733.5L222.5 734.4M243.5 676.6L244.2 678.6M237.1 676.0L237.4 678.5M244.2 678.6L243.6 680.3M244.2 678.6L247.0 677.8L250.0 677.3M251.5 679.0L250.0 677.3M219.5 677.7L219.4 678.6M209.8 676.3L209.0 677.8M219.4 678.6L216.4 678.7L212.9 679.1M209.0 677.8L212.9 679.1M226.9 675.2L226.2 678.2M221.6 681.1L219.4 678.6M205.4 679.9L209.0 677.8M212.3 682.5L212.9 679.1M222.2 688.5L224.3 690.8M220.1 700.1L224.7 696.1M224.7 696.1L224.5 693.4L224.3 690.8M224.3 690.8L227.0 691.8L228.6 692.3M228.3 690.4L228.6 692.3M247.9 697.8L247.7 697.8M249.7 707.9L247.9 705.9L246.1 703.6M246.1 703.6L247.1 700.5L247.7 697.8M186.7 693.5L183.3 693.1M189.2 684.8L186.4 685.4L183.3 685.8M183.3 693.1L181.9 691.1L180.5 689.0M180.5 689.0L183.3 685.8M191.1 680.3L190.1 684.4M187.7 699.7L185.6 698.4L183.6 697.8M183.6 697.8L181.9 694.8M181.9 694.8L183.3 693.1M181.5 680.6L182.5 683.2L183.3 685.8M175.7 689.6L174.5 686.0M175.7 689.6L180.5 689.0M158.7 736.9L160.9 737.9M159.9 745.5L161.5 743.6L162.6 742.0M162.6 742.0L161.8 739.8L160.9 737.9M162.1 732.4L162.7 734.7M162.7 734.7L162.7 735.3M162.7 735.3L161.8 736.8L160.9 737.9M163.3 750.4L166.1 748.8L168.4 747.1M162.6 742.0L164.3 742.7L166.1 743.2M168.4 747.1L166.1 743.2M162.7 735.3L163.8 737.2L165.2 739.1L167.0 741.0M166.1 743.2L167.0 741.0M170.3 727.3L170.5 728.0M162.7 734.7L164.9 734.1L167.8 733.7M170.5 728.0L169.1 730.9L167.8 733.7M177.8 727.3L177.0 724.6L176.1 722.0M177.8 727.3L176.1 729.9M176.1 722.0L174.1 721.4L172.2 720.9M170.5 728.0L173.2 729.3L176.1 729.9M177.8 727.3L180.5 727.1L183.5 727.3L186.4 727.6M176.1 722.0L177.5 720.1M177.5 720.1L180.2 722.3L183.3 724.3M205.9 730.9L202.5 729.3L198.9 728.4M176.1 729.9L176.0 731.4M176.0 731.4L177.6 732.9L179.3 734.1L181.1 735.2M186.8 727.9L186.4 729.7L185.2 732.0L183.6 734.6M181.1 735.2L183.6 734.6M189.6 743.6L187.2 741.1L184.8 739.3M191.7 736.5L191.5 736.1M191.5 736.1L189.0 736.2L185.8 736.7M184.8 739.3L185.8 736.7M196.9 730.8L196.8 736.4M192.4 732.7L191.5 736.1M183.6 734.6L185.8 736.7M181.8 744.0L183.3 745.7L184.7 747.7M181.8 744.0L180.4 747.6M180.4 747.6L181.7 750.9M184.7 747.7L184.5 750.7M181.7 742.8L184.8 739.3M181.7 742.8L181.8 744.0M189.1 745.8L186.6 746.3L184.7 747.7M195.1 750.8L194.8 749.8M171.9 714.3L172.0 714.3M171.9 714.3L170.2 714.1L168.2 713.9L166.0 713.5M172.0 714.3L171.8 711.7L171.8 708.7M166.0 713.5L164.1 710.7M164.1 710.7L166.5 709.5L168.8 707.6M168.8 707.6L171.8 708.7M162.9 716.8L164.6 715.1L166.0 713.5M170.9 718.7L171.4 716.6L171.9 714.3M161.9 709.4L164.1 710.7M163.5 702.0L165.2 701.3L167.9 700.3M167.9 700.3L168.5 701.0M168.5 701.0L168.7 704.3L168.8 707.6M188.4 710.3L184.5 710.4M189.3 702.8L187.4 702.9L185.6 703.7L183.8 705.0M184.5 710.4L184.2 707.6L183.8 705.0M177.4 719.5L175.9 717.1L174.7 714.9M177.4 719.5L179.6 719.3L182.0 718.4M174.7 714.9L176.4 713.6L178.5 712.2M178.5 712.2L181.9 714.6M182.1 717.4L181.9 714.6M177.5 720.1L177.4 719.5M172.0 714.3L174.7 714.9M184.5 710.4L181.9 714.6M199.8 748.1L200.1 748.0M200.1 748.0L201.5 750.1L202.9 752.1M168.9 681.4L167.5 679.3L165.6 677.5L163.4 676.0M168.9 681.4L165.7 682.9L162.4 684.8M162.4 684.8L159.1 685.3M159.1 685.3L158.8 682.8L158.8 680.1M163.4 676.0L158.8 680.1M163.8 674.9L163.4 676.0M170.6 681.8L168.9 681.4M158.8 685.7L159.1 685.3M181.9 694.8L179.8 695.4L177.7 695.9M175.7 689.6L174.4 691.6M174.4 691.6L175.9 694.0L177.7 695.9M218.6 741.8L217.1 743.7M217.1 743.7L216.7 746.4L216.0 749.0M216.0 749.0L218.4 751.1L220.8 752.2M221.4 750.4L220.8 752.2M250.8 681.6L248.9 683.2L247.2 684.9M250.8 681.6L251.8 683.9L252.7 686.4M247.2 684.9L247.6 687.3L248.0 689.8M252.7 686.4L250.8 688.3L249.2 690.0M248.0 689.8L249.2 690.0M243.5 684.4L245.5 684.7L247.2 684.9M251.5 679.0L250.8 681.6M245.9 691.8L248.0 689.8M245.9 691.8L243.8 690.8L241.0 690.0L237.6 689.5M237.4 689.2L237.6 689.5M252.1 695.0L250.4 692.6L249.2 690.0M245.9 691.8L246.3 694.3L246.9 696.9M246.9 696.9L247.7 697.8M230.5 715.0L231.8 713.1L233.3 711.4L234.9 709.8M225.5 709.0L229.9 707.7L234.0 707.0M234.9 709.8L234.0 707.0M239.2 721.4L241.9 720.8M234.9 709.8L236.6 710.8L238.1 711.8L239.7 712.6M176.4 749.7L176.6 746.6M170.3 750.7L168.4 747.1M168.4 747.1L170.7 746.4L173.1 746.0L175.5 745.9M176.6 746.6L175.5 745.9M180.4 747.6L176.6 746.6M168.4 747.1L168.4 747.1M176.0 740.8L176.1 742.6M176.0 740.8L174.0 739.4L172.2 737.5M167.1 741.0L169.5 742.1L172.1 743.0L174.7 743.8M167.1 741.0L168.2 739.5L169.8 737.6M174.7 743.8L176.1 742.6M169.8 737.6L172.2 737.5M181.7 742.8L179.1 742.8L176.1 742.6M181.1 735.2L178.3 738.2L176.0 740.8M176.0 731.4L174.1 734.7L172.2 737.5M167.0 741.0L167.1 741.0M175.5 745.9L174.7 743.8M167.8 733.7L169.8 737.6M179.6 708.0L181.7 706.5L183.4 704.8M179.6 708.0L176.7 705.9M176.7 705.9L177.3 701.5M182.6 700.3L180.7 700.5L178.3 700.7M182.6 700.3L183.4 704.8M177.3 701.5L178.3 700.7M183.8 705.0L183.4 704.8M178.5 712.2L179.6 708.0M171.8 708.7L176.7 705.9M168.5 701.0L171.4 701.2L174.4 701.3L177.3 701.5M183.6 697.8L182.6 700.3M177.7 695.9L177.3 696.4M177.3 696.4L177.9 698.4L178.3 700.7M167.9 700.3L168.6 696.4M177.3 696.4L174.6 696.6L171.7 696.5L168.6 696.4M201.3 746.2L205.0 744.8L209.2 744.4M201.3 746.2L202.7 742.8L204.6 739.6L206.7 736.9M209.2 744.4L211.8 742.3L213.9 740.6M213.9 740.6L213.2 738.2L212.0 736.1M212.0 736.1L206.7 736.9M200.1 748.0L201.3 746.2M206.1 750.4L209.1 747.3M209.1 747.3L209.2 744.4M198.8 737.5L202.4 737.0L206.7 736.9M217.1 743.7L215.8 742.1L213.9 740.6M214.1 749.4L216.0 749.0M214.1 749.4L209.1 747.3M212.1 736.0L212.0 736.1M168.7 688.4L172.0 691.7M168.7 688.4L164.5 688.6M172.0 691.7L170.1 693.4L168.1 695.4M168.1 695.4L165.5 693.6L163.3 691.9M163.3 691.9L164.5 688.6M171.1 683.9L169.9 686.2L168.7 688.4M174.4 691.6L172.0 691.7M162.4 684.8L163.4 686.6L164.5 688.6M168.6 696.4L168.1 695.4M161.7 693.0L163.3 691.9M240.5 734.3L237.4 734.1L234.3 734.1M240.5 734.3L242.0 736.7M242.0 736.7L239.9 738.2L238.3 739.6M238.3 739.6L235.3 739.6M244.8 727.3L242.7 731.1L240.5 734.3M252.3 736.6L249.7 738.5M243.6 737.4L242.0 736.7M237.6 689.5L237.0 691.9M237.0 691.9L239.0 693.9L240.5 696.4M246.9 696.9L244.0 696.6L240.9 696.6M240.5 696.4L240.9 696.6M246.1 703.6L241.7 704.4M240.9 696.6L241.5 700.3L241.7 704.4M240.0 711.3L240.4 706.4M241.7 704.4L240.4 706.4M234.7 705.6L236.7 703.5M234.7 705.6L232.6 704.0L229.9 702.5M229.9 702.5L231.2 700.2L231.9 698.0M237.0 701.5L236.7 703.5M237.0 701.5L235.3 699.3L233.0 697.3M231.9 698.0L232.8 697.4M233.0 697.3L232.8 697.4M234.0 707.0L234.7 705.6M240.4 706.4L239.1 705.2L237.9 704.3L236.7 703.5M222.3 704.8L226.0 703.4L229.9 702.5M224.7 696.1L228.6 697.2L231.9 698.0M240.5 696.4L238.5 698.8L237.0 701.5M237.0 691.9L235.2 693.7L234.1 695.7L233.0 697.3M228.6 692.3L230.8 694.9L232.8 697.4M220.8 752.2L220.9 753.3M232.9 747.5L233.0 747.6M233.0 747.6L232.1 751.0M214.1 749.4L213.5 751.3M240.3 741.8L239.5 743.7L238.4 746.4M240.3 741.8L243.7 743.5M240.2 749.9L238.4 746.4M240.2 749.9L242.3 748.3L244.4 747.4M238.3 739.6L240.3 741.8M233.0 747.6L236.0 747.0L238.4 746.4M232.3 691.0L235.5 689.7L239.3 688.9L242.9 688.4L243.3 686.2L243.6 683.9L243.7 681.4L243.4 678.8L241.2 679.0L238.7 678.7L235.6 678.1L232.3 677.6L229.2 677.5L226.8 678.0L225.1 678.8L225.0 681.8L225.2 684.5L225.6 686.9L226.4 689.0L227.8 690.2L229.8 690.8L232.3 691.0M200.9 708.5L202.1 705.6L204.3 703.0L207.5 701.5L209.0 700.1L210.3 698.6L211.3 696.8L211.8 694.3L210.8 691.6L209.3 689.0L207.6 686.6L205.3 686.1L203.1 684.5L200.8 682.3L198.8 681.4L196.7 681.2L194.7 681.7L192.8 682.8L190.8 684.0L188.5 685.1L187.9 688.2L187.3 691.0L186.7 693.5L186.4 695.6L186.5 697.5L187.6 699.6L188.8 702.0L190.2 704.4L191.6 706.8L194.4 707.8L197.0 708.5L199.1 708.8L200.9 708.5M197.5 730.6L199.2 728.0L201.1 726.7L202.7 726.0L202.5 724.1L202.5 721.9L202.6 719.6L202.7 717.0L201.0 715.2L198.6 713.5L195.6 711.9L191.6 712.5L187.9 713.9L184.7 715.6L182.1 716.8L182.0 719.3L182.2 721.4L182.7 723.1L183.5 724.7L184.3 726.1L186.4 727.6L188.3 729.1L190.0 730.7L191.3 732.6L192.8 732.7L194.0 732.3L195.4 731.4L197.5 730.6M209.2 719.4L207.7 723.1L206.9 726.5L206.9 729.1L207.0 730.6L206.3 730.9L204.7 731.0L202.6 731.8L204.5 735.8L208.9 735.6L212.3 736.0L214.4 736.2L214.8 735.0L215.4 733.3L216.8 731.5L219.2 730.1L222.6 731.7L225.7 733.9L226.1 736.6L226.9 739.2L223.4 739.0L220.5 739.2L218.5 739.8L218.6 743.5L218.5 747.2L218.1 750.5L220.0 750.7L222.2 750.2L225.2 749.4L228.8 748.7L232.4 748.3L233.8 745.8L234.7 743.6L235.2 741.6L235.3 739.9L235.0 737.7L235.1 735.4L233.8 733.2L232.7 730.6L235.3 728.9L238.2 727.2L240.9 725.5L240.0 723.2L239.0 721.0L238.0 718.9L235.5 717.7L233.0 716.3L230.6 715.2L228.9 712.9L226.9 711.1L224.6 709.7L221.5 711.2L219.5 712.3L217.5 710.8L215.7 708.9L214.3 706.5L212.9 704.0L211.8 705.3L210.3 707.0L210.1 709.5L209.9 712.4L209.5 715.8L209.2 719.4M246.1 731.1L244.8 734.5L243.7 737.3L242.9 739.5L243.3 741.5L243.7 743.5L244.2 745.7L244.4 748.2L247.0 749.2L249.6 750.2L251.8 750.6L250.9 748.6L250.0 746.4L249.5 744.1L249.3 741.5L249.6 738.6L250.3 735.6L251.2 732.4L252.0 729.4L252.6 726.7L252.9 724.4L252.9 722.5L252.6 721.0L252.2 719.6L251.8 718.2L251.7 716.6L251.7 714.6L251.8 712.2L252.0 709.6L252.1 706.9L249.6 708.3L246.8 709.2L244.1 710.0L241.6 710.7L239.7 711.4L239.7 713.9L240.0 716.0L240.5 717.9L241.6 720.1L242.6 722.4L243.4 725.0L244.6 726.9L245.5 728.9L246.1 731.1M198.7 735.6L196.3 736.6L194.7 737.3L193.4 737.3L191.7 736.5L191.0 739.2L190.3 741.6L189.6 743.8L189.1 745.9L188.9 748.1L192.0 748.8L195.1 749.9L197.6 751.0L199.6 751.5L201.1 751.1L200.0 748.8L199.3 746.1L198.9 742.8L198.8 739.2L198.7 735.6" stroke="#d846c4" stroke-width="1.3"/></g><path d="M229.3 692.0h0M187.0 690.1h0" stroke="#d846c4" stroke-width="2.0" stroke-linecap="round"/><path d="M174.6 680.8h0M216.7 736.3h0M165.3 688.3h0M244.1 690.0h0M214.5 706.4h0M231.2 713.0h0M180.2 714.2h0M238.2 715.0h0M161.0 680.9h0" stroke="#d846c4" stroke-width="3.0" stroke-linecap="round"/><path d="M165.1 691.5h0M178.7 722.8h0M166.0 742.4h0M168.6 747.4h0" stroke="#d846c4" stroke-width="4.0" stroke-linecap="round"/><path d="M240.8 732.7h0M197.2 733.2h0M233.9 698.5h0" stroke="#d846c4" stroke-width="5.0" stroke-linecap="round"/><path d="M174.2 679.4h0M239.8 743.3h0M182.7 712.3h0M216.3 732.9h0M210.2 707.2h0M239.1 720.5h0M252.4 710.0h0M183.3 693.0h0M213.9 697.3h0M228.6 708.7h0M243.8 684.9h0M171.2 708.1h0M178.8 733.0h0M247.0 709.7h0M219.8 750.9h0M218.2 707.1h0M232.9 696.8h0M174.2 692.9h0M173.9 720.6h0M237.0 703.2h0M206.8 725.2h0M220.2 682.5h0M170.1 713.9h0M181.9 693.9h0M175.0 685.5h0M225.9 686.2h0M246.9 698.4h0M223.1 689.9h0M216.8 686.4h0M223.8 685.3h0M174.6 714.4h0M225.4 710.0h0M169.8 749.4h0M170.9 680.7h0M243.1 678.5h0M222.4 733.6h0M232.4 691.1h0M249.5 740.5h0M155.2 715.3h0M175.5 696.7h0M246.2 748.7h0M198.1 730.1h0M166.2 733.7h0M252.8 703.1h0M211.3 689.9h0M185.9 736.0h0M222.4 681.4h0M208.5 686.1h0M238.5 727.9h0M157.2 720.9h0M226.9 691.7h0M244.1 679.3h0M188.8 743.4h0M244.5 747.3h0M232.6 696.9h0M205.2 730.6h0M188.7 742.1h0M234.3 704.8h0M251.5 694.6h0M216.2 709.9h0M219.0 711.7h0M188.1 729.2h0M217.2 690.0h0M161.6 709.5h0M242.2 690.8h0M195.9 749.4h0M186.7 695.2h0M245.4 733.4h0M183.8 693.2h0M188.9 685.5h0M209.9 707.6h0M188.5 710.7h0M198.3 712.7h0M179.7 710.2h0M236.9 701.1h0M202.7 737.7h0M203.5 733.6h0M222.1 698.0h0M196.1 708.2h0M236.0 689.4h0M159.7 718.0h0M242.9 743.6h0M168.8 746.8h0M235.7 699.6h0M220.7 752.1h0M214.9 678.8h0M162.1 742.7h0M201.4 744.5h0M209.3 720.4h0M172.6 678.7h0M225.3 685.6h0M160.4 724.2h0M247.5 678.4h0M199.7 728.5h0M170.4 729.9h0M182.3 717.2h0M181.6 718.8h0M190.1 712.2h0M209.6 715.9h0M163.7 723.8h0M191.0 681.7h0M221.9 689.3h0M211.1 683.6h0M251.7 714.6h0M190.1 703.3h0M229.8 689.9h0M202.4 714.7h0M227.4 692.1h0M199.2 737.9h0M184.6 733.2h0M199.9 749.5h0M189.3 746.5h0M220.2 750.8h0M190.3 713.0h0M179.8 743.2h0M253.4 723.1h0M175.3 701.7h0M239.9 743.6h0M191.2 683.9h0M199.3 750.6h0M186.3 730.2h0M228.8 702.5h0M184.6 740.0h0M214.7 684.4h0M214.3 736.5h0M212.1 680.5h0M233.5 698.9h0M186.8 746.0h0M184.4 735.7h0M247.3 685.2h0M211.5 735.9h0M220.3 682.0h0M240.1 738.2h0M190.0 707.9h0M213.0 742.0h0M251.5 718.7h0M219.3 750.8h0M231.3 695.0h0M171.2 692.3h0M169.0 727.2h0M250.6 734.2h0M205.1 682.2h0M216.3 693.6h0M181.0 718.0h0M230.9 678.1h0M198.5 740.7h0M218.0 740.6h0M239.0 712.7h0M217.8 742.6h0M168.4 681.5h0M240.6 678.6h0M215.9 734.0h0M199.2 708.4h0M210.4 713.6h0M181.2 695.1h0M236.8 733.9h0M235.5 716.6h0M240.5 738.1h0M243.6 725.6h0M164.8 739.7h0M228.2 697.8h0M182.4 682.7h0M238.9 698.6h0M158.1 713.7h0M223.1 696.4h0M218.5 742.8h0M204.0 731.7h0M210.4 743.3h0M177.1 731.8h0M169.2 731.9h0M224.2 694.3h0M248.6 683.8h0M198.4 712.0h0M159.1 725.6h0M252.0 715.7h0M225.1 678.4h0M231.2 695.5h0M186.4 736.2h0M211.3 689.2h0M171.1 728.5h0M235.3 678.7h0M209.9 689.0h0M210.3 682.7h0M213.2 687.4h0M178.8 711.4h0M163.4 736.7h0M178.8 747.3h0M226.0 686.4h0M197.0 712.3h0M224.4 683.6h0M189.6 679.9h0M177.5 732.5h0M213.9 706.6h0M162.9 691.9h0M190.6 683.6h0M217.6 699.4h0M156.4 713.7h0M236.8 690.0h0M163.0 698.5h0M235.9 704.6h0M240.2 737.4h0M240.0 707.7h0M218.1 742.8h0M251.6 737.1h0M242.4 696.8h0M220.1 733.1h0M215.9 696.5h0M171.8 709.2h0M229.8 714.8h0M221.2 738.9h0" stroke="#552596" stroke-width="1.3" stroke-linecap="round"/><path d="M157.3 713.9h0M224.8 733.2h0M242.9 729.9h0M177.8 732.9h0M181.4 719.0h0M252.8 722.0h0M239.4 706.0h0M218.7 745.3h0M166.4 749.1h0M159.5 681.1h0M251.1 712.7h0M238.9 747.5h0M209.8 717.2h0M164.3 675.0h0M187.9 742.8h0M173.7 721.6h0M201.7 715.5h0M221.5 751.9h0M185.9 740.3h0M228.7 690.3h0M252.6 724.5h0M204.1 745.4h0M239.3 695.5h0M184.1 749.1h0M249.6 744.6h0M252.1 725.3h0M184.7 710.4h0M235.3 689.7h0M198.4 741.0h0M164.6 683.6h0M218.5 739.5h0M225.8 696.9h0M195.0 708.5h0M218.2 751.3h0M177.9 701.1h0M180.4 712.6h0M175.9 680.5h0M174.5 683.8h0M172.3 724.2h0M198.3 739.1h0M203.7 709.9h0M180.2 747.6h0M189.7 683.7h0M224.8 708.7h0M185.6 685.4h0M217.2 747.4h0M196.4 731.8h0M223.3 706.0h0M239.5 697.4h0M164.5 749.4h0M189.0 743.1h0M212.5 695.0h0M246.4 690.6h0M215.8 701.5h0M209.7 712.4h0M233.1 697.4h0M223.1 704.6h0M218.2 710.1h0M200.6 750.6h0M180.5 700.1h0M215.1 694.6h0M174.5 701.8h0M244.4 725.8h0M219.2 741.8h0M249.7 738.9h0M159.3 690.5h0M183.1 712.3h0M221.9 739.4h0M203.2 713.9h0M184.7 738.9h0M183.4 684.6h0M220.8 704.1h0M214.9 695.7h0M196.2 750.0h0M213.9 695.4h0M172.3 692.3h0M155.6 715.3h0M225.6 749.7h0M176.3 682.4h0M211.7 743.0h0M187.2 746.4h0M252.8 726.0h0M248.8 696.8h0M176.0 722.5h0M168.9 731.1h0M195.4 678.6h0M176.9 725.5h0M205.7 685.7h0M242.8 688.1h0M222.8 683.5h0M162.6 703.1h0M179.9 723.1h0M184.6 746.9h0M242.4 703.3h0M247.1 749.6h0M244.1 744.5h0M211.5 736.0h0M209.7 713.6h0M252.8 704.9h0M237.2 678.1h0M162.7 736.0h0M243.3 677.7h0M250.6 732.8h0M246.4 691.5h0M185.7 696.2h0M167.3 688.3h0M210.8 692.1h0M236.8 690.2h0M176.2 746.8h0M191.7 705.1h0M207.7 749.5h0M162.6 729.9h0M175.6 688.4h0M198.6 708.6h0M234.7 705.3h0M241.7 748.3h0M167.4 695.3h0M177.4 718.9h0M166.8 713.5h0M197.1 679.0h0M173.5 714.4h0M163.3 716.8h0M167.7 734.7h0M253.6 723.1h0M220.0 752.0h0M214.6 741.6h0M220.9 682.3h0M198.1 751.1h0M163.4 699.5h0M222.8 689.3h0M230.6 677.4h0M184.6 705.8h0M185.9 696.4h0M183.8 698.1h0M245.9 709.4h0M172.5 721.1h0M186.1 678.2h0M182.6 694.6h0M168.9 699.1h0M214.5 684.7h0M186.3 698.8h0M177.7 696.8h0M242.0 737.6h0M170.5 713.7h0M174.7 696.8h0M168.5 706.8h0M162.8 706.9h0M163.8 750.7h0M178.1 699.7h0M247.6 700.7h0M162.5 677.6h0M237.4 690.8h0M177.8 727.9h0M158.4 685.3h0M212.5 741.5h0M251.4 695.4h0M183.1 721.7h0M254.4 725.8h0M189.0 683.8h0M167.5 739.8h0M184.5 704.7h0M216.5 695.4h0M181.0 747.2h0M165.8 734.3h0M246.5 693.5h0M207.3 749.5h0M181.4 714.9h0M230.2 748.5h0M220.5 699.6h0M158.6 700.9h0M246.3 703.0h0M171.3 714.3h0M243.5 726.8h0M202.3 745.7h0M178.4 697.8h0M201.8 746.5h0M226.7 687.1h0M191.8 735.9h0M190.0 744.3h0M187.7 741.6h0M207.4 683.3h0M206.4 750.6h0M205.1 685.1h0M166.4 679.0h0M169.3 706.6h0M178.3 694.9h0M209.9 702.9h0M213.2 680.3h0M223.4 685.5h0M167.2 745.1h0M208.8 720.0h0M250.2 700.3h0M172.7 714.3h0M217.8 739.4h0M253.1 704.6h0M234.6 747.7h0M243.4 742.9h0M175.7 680.9h0M224.4 704.3h0M188.8 685.1h0" stroke="#552596" stroke-width="1.8" stroke-linecap="round"/></g><text x="162.3" y="742.7" font-size="5.6" fill="#111">50 μm</text><line x1="162.1" y1="744.6" x2="173.1" y2="744.6" stroke="#111" stroke-width="1"/><rect x="160.7" y="679.9" width="89.4" height="67.7" fill="none" stroke="#2a2a2a" stroke-width="1.3"/>
<clipPath id="he13"><rect x="63.2" y="754.5" width="91.1" height="68.9"/></clipPath><g clip-path="url(#he13)"><rect x="63.2" y="754.5" width="91.1" height="68.9" fill="#fefafe"/><g fill="none" stroke-linejoin="round" stroke-linecap="round"><path d="M59.5 755.4L66.0 753.9M66.0 753.9L66.5 753.1M125.6 755.6L128.3 758.2M124.8 752.1L124.7 750.8M131.5 752.4L132.3 755.7M128.3 758.2L132.3 755.7M149.9 824.8L150.8 823.5L153.2 822.0M157.5 821.7L153.2 822.0M150.1 750.9L149.2 753.0M144.5 752.7L144.1 754.2M59.9 762.4L59.7 762.4M59.9 762.4L61.8 763.9L64.1 766.0M60.0 768.1L65.0 769.7M65.7 771.9L63.5 773.8L60.5 775.5M60.6 777.0L62.7 778.9M62.7 778.9L61.0 782.1M60.2 782.0L61.0 782.1M59.2 785.1L59.6 785.9M61.0 782.1L63.8 784.4M59.6 785.9L63.8 784.4M66.2 778.4L62.7 778.9M66.5 781.7L64.6 784.3M64.6 784.3L63.8 784.4M59.9 762.4L63.1 761.1M59.1 758.7L64.4 758.6M63.1 761.1L64.4 758.6M66.0 753.9L66.4 755.7L66.3 757.2M64.4 758.6L66.3 757.2M88.7 758.0L87.0 761.7M87.0 761.7L88.6 765.0L90.8 767.8M90.8 767.8L92.6 764.1L93.3 761.0M138.4 757.1L133.8 755.1M138.4 757.1L140.1 755.3L141.7 754.2M133.8 755.1L135.4 750.2M141.7 754.2L138.0 750.9M128.3 758.2L130.5 762.9M132.3 755.7L133.8 755.1M139.4 759.3L138.4 757.1M139.4 759.3L136.1 763.1M136.1 763.1L130.5 762.9M139.4 759.3L142.3 759.7M142.8 754.4L141.7 754.2M153.7 810.4L157.9 809.6M153.7 810.4L153.7 813.0L153.2 815.3M154.7 815.5L153.2 815.3M154.7 815.5L158.2 813.4M136.1 763.1L136.8 764.8M130.5 762.9L129.2 764.5L128.2 766.0M128.2 766.0L128.6 766.7M128.6 766.7L132.3 767.8L135.0 767.3M136.8 764.8L135.0 767.3M154.7 755.5L158.4 756.2M157.6 818.9L156.0 817.1L154.7 815.5M83.6 798.5L81.1 794.8M85.7 798.9L90.6 797.4M81.4 793.6L84.0 794.5L87.8 794.8M81.4 793.6L81.1 794.8M87.8 794.8L90.6 797.4M89.5 780.2L88.5 777.3M89.5 780.2L87.0 780.7L85.3 781.0M84.9 775.2L84.8 778.2M84.9 775.2L86.3 775.9M86.3 775.9L88.5 777.3M85.3 781.0L84.8 778.2M66.2 823.1L65.6 821.7M66.2 823.1L62.2 825.8M59.4 820.6L60.6 820.3M65.6 821.7L60.6 820.3M58.9 791.7L60.8 794.7L63.7 797.0M63.7 797.1L61.7 798.1L59.8 799.2M59.8 788.6L59.6 785.9M59.8 788.6L58.7 789.0M85.4 803.2L85.6 805.4M77.8 810.9L80.6 811.1M77.8 810.9L76.7 807.5M76.7 807.5L76.8 807.3M93.2 798.1L91.6 802.7M93.2 798.1L91.8 797.1M91.6 802.7L88.7 803.1L86.4 802.9M91.8 797.1L90.6 797.4M91.8 816.7L93.2 814.8M93.2 814.8L93.0 812.7L92.6 810.4M92.6 810.4L89.7 808.7M70.1 764.1L69.5 759.5L69.6 755.2M70.1 764.1L70.1 764.3M71.9 764.6L72.7 761.8L73.2 759.5L74.1 757.6M70.0 753.4L70.6 754.7L73.7 757.2M70.0 753.4L69.6 755.2M73.7 757.2L74.1 757.6M63.1 761.1L65.8 761.5L68.0 762.4L70.1 764.1M66.3 757.2L68.6 755.8L69.6 755.2M72.1 752.0L73.7 757.2M70.6 748.8L70.4 750.9L70.0 753.4M84.9 775.2L83.5 772.6M86.3 775.9L85.9 773.4M83.0 768.4L82.3 768.4M90.8 767.9L90.8 767.8M90.8 767.9L89.6 769.2M87.0 761.7L83.2 760.6M83.2 760.6L82.8 761.0M83.0 763.0L82.8 761.0M128.2 766.0L125.1 762.4M118.7 754.8L116.3 753.6M90.3 751.2L90.2 752.8M98.2 752.1L99.1 754.8M93.1 781.2L95.8 778.1L98.0 774.5M93.1 781.2L89.5 780.2M98.0 774.5L98.0 774.5M88.5 777.3L91.4 775.7L94.3 772.9M98.0 774.5L96.1 773.1L94.3 772.9M90.0 771.9L92.5 772.6L94.4 772.6M94.4 772.6L94.3 772.9M128.2 826.8L127.3 823.8M124.4 825.5L124.8 825.0M124.8 825.0L127.3 823.8M129.7 821.7L132.4 822.8M129.7 821.7L127.7 823.0M132.4 822.8L133.1 826.6M127.7 823.0L127.3 823.8M149.9 824.8L148.9 823.0M148.9 823.0L148.2 823.9L146.2 825.5M146.2 825.5L145.6 827.0M122.3 801.7L123.8 802.4M117.8 808.0L117.5 807.6M117.8 808.0L121.1 807.4L122.9 806.0L123.8 806.1M152.0 808.2L152.2 805.4L152.4 803.1M152.0 808.2L149.1 807.0M149.1 807.0L149.9 801.4M149.9 801.4L150.5 799.8L150.8 799.6M152.4 803.1L150.8 799.6M153.7 810.4L152.0 808.2M156.2 805.2L152.4 803.1M126.1 781.9L128.2 784.7L131.1 787.5M126.1 781.9L128.1 780.4M128.1 780.4L132.2 779.9L135.6 778.9M135.6 778.9L137.2 783.1M139.9 786.0L140.8 791.0M140.8 791.0L144.1 790.0L146.9 788.8M144.9 783.5L145.4 785.9L146.9 788.8M148.9 823.0L148.9 820.7L149.0 818.9M153.2 822.0L150.7 820.1L149.6 818.6M149.0 818.9L149.6 818.6M153.2 815.3L151.7 815.9M149.6 818.6L151.7 815.9M147.3 808.7L149.1 807.0M151.7 815.9L149.9 814.7L148.1 813.2M146.2 825.5L145.3 824.2M149.0 818.9L147.7 818.7M145.3 824.2L146.9 821.3L147.7 818.7M147.0 815.1L147.4 818.3M147.7 818.7L147.4 818.3M141.1 813.8L140.4 815.2M147.4 818.3L144.2 817.0L140.4 815.2M118.7 827.2L117.9 825.7M124.8 825.0L124.5 823.8L123.0 822.8M117.9 825.7L119.3 823.7M119.3 823.7L120.8 823.1M120.8 823.1L123.0 822.8M127.7 823.0L126.8 819.6M123.0 822.8L125.2 821.1L126.8 819.6M129.7 821.7L129.9 819.2M126.9 817.6L126.8 819.6M126.9 817.6L128.9 817.9M129.9 819.2L128.9 817.9M153.2 770.0L155.4 773.0M145.8 778.2L145.7 779.4M155.4 773.0L153.5 773.3L152.2 774.2L150.8 776.2M159.8 760.7L156.2 762.9M136.8 764.8L139.7 764.8M159.1 766.3L155.9 767.1M156.6 773.6L155.4 773.0M157.7 780.3L155.1 778.7L152.7 777.1L150.9 776.6M158.7 784.6L156.2 785.4L153.3 785.8M153.3 785.8L150.7 782.7L148.7 780.6M135.6 778.9L136.5 775.0M136.5 775.0L137.7 776.1L139.6 778.6L142.7 780.3M85.1 782.5L83.5 783.4L82.1 784.7M85.1 782.5L87.5 786.7M87.5 786.7L86.2 789.6M86.2 789.6L82.7 788.7L80.7 787.8M82.1 784.7L80.7 787.8M85.1 782.5L85.3 781.0M81.7 781.6L81.5 782.5M82.6 780.9L84.8 778.2M82.1 784.7L82.2 783.4L81.5 782.5M81.4 793.6L80.7 790.6L80.7 787.9M86.2 789.6L88.7 793.4M88.7 793.4L87.8 794.8M80.7 787.9L80.7 787.8M81.1 794.8L78.4 794.1M77.4 798.7L78.4 794.1M93.1 781.2L94.9 783.1M98.0 774.5L100.0 776.4M100.0 776.4L100.6 779.5L100.6 782.2M100.6 782.2L98.6 783.5M94.9 783.1L98.6 783.5M87.5 786.7L93.7 786.3M94.9 783.1L93.7 786.3M88.7 793.4L93.4 791.3L96.1 788.7M93.7 786.3L96.1 788.7M127.1 788.5L123.9 785.5L122.8 782.9M126.1 781.9L123.6 781.1L122.9 780.7M122.8 782.9L122.9 780.7M108.4 779.8L111.1 782.3L114.7 784.9M108.4 779.8L108.4 778.7M108.4 778.7L112.1 778.1L116.8 776.8M116.8 776.8L118.6 780.1L120.2 782.9M114.7 784.9L118.4 785.0M120.2 782.9L118.4 785.0M127.8 773.6L126.8 777.1M127.8 773.6L131.3 772.6L134.0 770.6L135.5 768.7M135.4 772.2L132.7 775.5L128.0 777.9M135.4 772.2L135.6 768.8M128.0 777.9L126.8 777.1M135.5 768.7L135.6 768.8M128.6 766.7L127.8 769.2L126.6 771.9M135.0 767.3L135.5 768.7M126.6 771.9L127.8 773.6M128.1 780.4L128.0 777.9M136.5 775.0L135.4 772.2M137.0 769.7L135.6 768.8M122.4 776.0L123.8 776.7L126.8 777.1M122.4 776.0L122.7 778.0L122.9 780.0M122.9 780.0L122.9 780.7M122.4 776.0L122.0 775.3M116.8 776.8L117.2 775.4M120.2 782.9L122.3 781.2L122.9 780.0M117.2 775.4L120.4 775.0L122.0 775.3M97.4 826.1L97.4 826.4M97.4 826.1L98.6 823.9M102.8 825.0L102.7 826.2M93.3 820.6L91.1 820.6M93.3 820.6L94.8 823.4L97.4 826.1M87.4 824.8L87.2 827.1M93.3 820.6L94.6 818.7L95.8 818.1M96.7 814.1L96.1 812.5L95.6 811.3L94.7 809.9M102.3 807.6L99.4 806.9M99.4 806.9L97.4 808.0L95.2 808.9M95.2 808.9L94.7 809.9M93.2 814.8L94.6 814.2L96.5 814.4M92.6 810.4L94.7 809.9M97.7 801.4L96.1 802.3L93.5 803.7M97.7 801.4L98.7 804.5L99.4 806.9M93.5 803.7L94.4 806.4L95.2 808.9M93.5 803.7L91.6 802.7M60.6 820.3L60.0 817.7M60.0 817.7L57.5 815.2M65.6 821.7L68.0 819.9M60.0 817.7L65.0 817.6M65.0 817.6L68.0 819.9M80.1 818.0L77.1 819.1M77.1 819.1L74.1 816.5M80.0 813.4L76.3 814.8L73.9 814.7M74.1 816.5L73.9 814.7M73.3 810.9L73.7 814.3M73.3 810.9L74.8 811.3L77.8 810.9M73.9 814.7L73.7 814.3M70.9 814.2L72.1 815.5M70.9 814.2L65.6 816.8M65.6 816.8L65.0 817.6M68.0 819.9L70.7 818.8M72.1 815.5L70.7 818.8M66.2 823.1L67.8 823.6M70.7 818.8L70.4 820.0M67.8 823.6L68.9 821.9L70.4 820.0M74.1 816.5L73.0 818.7L71.6 821.3M73.7 814.3L73.0 814.4L72.1 815.5M70.4 820.0L71.6 821.3M85.3 756.2L85.5 753.8L84.8 751.1M85.3 756.2L85.1 756.5M85.1 756.5L82.6 758.0L78.6 759.2M82.4 752.2L79.9 755.9L77.1 758.6M77.1 758.6L78.6 759.2M88.2 755.4L85.3 756.2M83.2 760.6L84.2 758.5L85.1 756.5M74.1 757.6L77.1 758.6M79.6 761.8L82.4 761.2M79.6 761.8L77.1 763.6L74.5 765.2M82.4 761.2L80.9 763.9M82.8 761.0L82.4 761.2M78.6 759.2L79.6 761.8M107.9 757.2L107.8 755.7L107.0 755.0M107.9 757.2L108.1 757.2L109.3 758.9M109.3 758.9L109.0 756.3L109.2 753.8M107.3 754.4L107.0 755.0M107.3 754.4L108.3 752.7L108.5 752.2L109.0 752.9M109.0 752.9L109.2 753.8M107.3 751.2L107.3 754.4M101.9 757.5L107.0 755.0M109.6 750.8L109.0 752.9M116.3 753.6L112.1 754.4L109.2 753.8M105.0 778.9L103.1 777.1M105.0 778.9L107.7 777.6M103.1 777.1L103.2 775.3L103.4 773.5M103.4 773.5L106.5 775.2L108.5 775.5M107.7 777.6L108.5 775.5M100.0 776.4L103.1 777.1M103.7 782.2L100.6 782.2M103.7 782.2L105.0 778.9M108.4 779.8L107.4 782.2M108.4 778.7L107.7 777.6M103.7 782.2L104.3 783.3M104.3 783.3L107.4 782.2M98.8 763.5L96.8 763.5M98.9 768.0L96.8 767.4M96.8 763.5L96.2 766.0M96.2 766.0L96.8 767.4M107.1 762.8L107.9 757.2M100.7 760.5L100.8 761.6M93.5 761.0L95.4 762.6L96.8 763.5M98.0 774.5L98.7 772.0L99.1 770.1L99.8 768.9M103.4 773.5L101.4 769.9M94.4 772.6L96.8 767.4M90.8 767.9L94.2 767.4L96.2 766.0M110.4 820.4L109.5 822.1L107.3 824.0M110.4 820.4L110.5 820.9M110.5 820.9L110.6 822.1M110.6 822.1L110.2 826.1M107.0 826.4L107.3 824.0M110.0 817.5L110.9 817.1M110.9 817.1L110.4 820.4M107.0 824.0L107.3 824.0M117.9 825.7L113.2 824.1L110.6 822.1M119.3 823.7L115.5 821.6L112.6 819.0M112.6 819.0L111.1 819.5L110.5 820.9M110.4 811.6L113.2 813.8M110.3 811.9L111.0 815.3M113.2 813.8L115.5 816.6M111.0 815.3L112.5 817.9M112.5 817.9L115.5 816.6M117.8 808.0L117.9 808.8M117.9 808.8L115.6 811.8L113.2 813.8M110.9 817.1L111.0 815.3M112.6 819.0L112.5 817.9M140.8 791.2L137.9 791.2L136.1 791.1L135.1 791.3M140.8 791.2L142.6 795.3M142.1 796.8L142.6 795.3M142.1 796.8L136.4 797.5M136.4 797.5L134.5 794.8M134.5 794.8L135.1 791.3M135.0 791.0L135.1 791.3M140.8 791.0L140.8 791.2M131.8 794.5L132.6 795.9L132.9 797.8L133.5 800.4M133.5 800.4L133.9 797.9L134.1 796.1L134.5 794.8M157.6 791.4L155.5 790.6L153.2 789.2M153.3 785.8L152.9 788.2M153.2 789.2L152.9 788.2M146.9 788.8L147.8 789.1M152.9 788.2L150.2 788.3L147.8 789.1M142.6 795.3L147.4 794.2L150.2 792.6M147.8 789.1L150.2 792.6M138.3 826.1L138.5 824.9M145.3 824.2L142.5 824.0M138.5 824.9L142.5 824.0M132.4 822.8L133.9 821.7M138.5 824.9L136.1 823.2L133.9 821.7M122.0 817.4L125.6 815.3M122.0 817.4L118.7 815.7M121.1 812.4L118.7 815.7M121.1 812.4L123.4 809.7L124.4 808.9M125.0 810.8L125.6 815.3M120.8 823.1L121.4 820.5L122.0 817.4M126.9 817.6L125.6 815.3M115.5 816.6L118.7 815.7M117.9 808.8L119.8 810.8L121.1 812.4M135.4 813.8L135.1 813.8M135.4 813.8L136.0 813.1M136.7 812.3L138.6 809.3L140.2 807.7M140.2 807.7L138.8 806.6L137.2 805.1L135.5 802.9M135.5 802.9L135.5 802.9M128.9 817.9L128.7 816.0L128.6 813.9M125.9 799.1L128.3 799.5L130.3 800.2L132.2 801.3M133.5 801.1L133.5 800.4M139.0 803.1L136.6 802.7L135.5 802.9M139.0 803.1L137.5 800.6L136.4 797.5M76.8 786.1L77.9 788.2M76.8 786.1L71.8 784.0M71.8 784.0L70.5 786.0M77.9 788.2L76.9 790.0M76.9 790.0L75.0 790.9L72.6 792.2M81.5 782.5L78.9 784.7L76.8 786.1M80.7 787.9L79.4 787.9L77.9 788.2M70.9 781.9L71.8 784.0M64.6 784.3L66.8 787.3M78.4 794.1L76.9 790.0M73.5 799.4L75.1 800.3M73.5 799.4L72.6 796.3L72.2 794.4M59.8 788.6L62.3 791.2M73.3 810.9L72.2 808.8M70.9 814.2L71.2 809.2M72.2 808.8L71.2 809.2M76.7 807.5L73.5 806.8L71.5 805.4M72.2 808.8L71.5 805.4M67.4 798.8L66.8 801.1M67.4 798.8L69.3 798.1L70.8 799.3M66.8 801.1L68.0 801.5L68.9 802.3M70.8 799.3L69.8 802.0M69.8 802.0L68.9 802.3M66.2 797.1L67.4 798.8M59.9 801.3L63.2 804.1M63.2 804.1L66.8 801.1M73.5 799.4L70.8 799.3M71.5 805.4L69.8 802.0M60.1 808.1L60.4 810.2L61.1 812.5M60.1 808.1L61.2 807.6M61.2 807.6L64.9 807.0L68.2 805.4M62.4 812.9L61.1 812.5M62.4 812.9L66.4 811.2L69.4 808.7M69.4 808.7L68.2 805.4M58.9 807.9L60.1 808.1M57.3 812.7L61.1 812.5M63.2 804.1L61.2 807.6M68.9 802.3L68.2 805.4M65.6 816.8L62.4 812.9M71.2 809.2L69.4 808.7M104.3 783.3L103.5 786.9M103.5 786.9L106.3 788.4M107.4 782.2L109.1 785.4M106.3 788.4L109.1 785.4M114.7 784.9L112.3 785.8L111.2 786.7M111.2 786.7L109.1 785.4M103.5 786.9L98.3 788.1M98.6 783.5L98.5 785.4L98.1 787.4M98.3 788.1L98.1 787.4M106.3 788.4L106.8 794.0M106.8 794.0L102.1 793.9L98.3 792.0M98.3 788.1L98.3 792.0M96.1 788.7L96.2 788.6M98.1 787.4L96.8 787.1L96.2 788.6M91.8 797.1L95.0 793.6L96.4 790.1M96.4 790.1L96.2 788.6M121.7 786.5L119.0 787.7M121.7 786.5L121.9 788.8L122.8 791.4M117.4 793.1L117.4 790.9L117.6 789.2M117.4 793.1L119.3 794.4M117.6 789.2L119.0 787.7M122.8 782.9L121.7 786.5M118.4 785.0L119.0 787.7M117.2 775.4L116.8 774.5M108.5 775.5L111.2 772.2M116.8 774.5L113.5 772.9L111.2 772.2M107.1 769.7L109.5 770.9L111.4 771.4M111.4 771.4L111.2 772.2M84.4 824.5L84.3 823.1M73.5 828.6L73.9 825.8M73.9 825.8L79.0 823.6M82.3 823.1L79.0 823.6M67.8 823.6L67.7 824.6M71.6 821.3L73.9 825.8M77.1 819.1L79.0 823.6M146.4 799.9L150.2 797.5M146.4 799.9L141.3 803.8M150.2 797.5L149.3 801.2M149.3 801.2L143.6 804.8M141.3 803.8L143.6 804.8M139.0 803.1L141.3 803.8M142.1 796.8L146.4 799.9M142.5 808.3L142.2 808.1M149.9 801.4L149.3 801.2M142.2 808.1L142.8 806.4L143.6 804.8M142.2 808.1L140.2 807.7M151.0 795.0L150.9 792.8M151.0 795.0L150.8 795.7L150.7 798.2M150.9 792.8L151.5 792.3M151.5 792.3L152.5 795.0M150.7 798.2L152.5 796.9M152.5 796.9L152.5 795.0M150.2 792.6L150.9 792.8M150.2 797.5L151.0 795.0M150.8 799.6L150.7 798.2M153.2 789.2L152.2 791.0L151.5 792.3M156.9 793.3L152.5 795.0M155.5 799.4L152.5 796.9M133.2 818.3L134.3 816.2L135.5 813.9M133.2 818.3L134.4 819.8M134.4 819.8L138.9 818.5M135.5 813.9L136.8 813.7L138.2 814.0L140.1 815.3M140.1 815.3L138.9 818.5M129.9 819.2L133.2 818.3M135.4 813.8L135.5 813.9M133.9 821.7L134.4 819.8M142.5 824.0L140.7 821.4L138.9 818.5M140.4 815.2L140.1 815.3M112.7 788.7L112.5 788.6M112.7 788.7L113.4 790.3L113.7 792.2M112.5 788.6L111.3 790.6L108.3 794.4M113.7 792.2L113.5 792.6M113.5 792.6L112.9 792.8L111.8 794.4M111.8 794.4L108.4 794.7M108.4 794.7L108.3 794.4M111.2 786.7L112.5 788.6M117.6 789.2L114.6 789.1L112.7 788.7M117.4 793.1L115.0 792.8L113.7 792.2M106.8 794.0L108.3 794.4M113.7 795.9L113.5 792.6M109.7 800.1L111.0 797.3L111.8 794.4M108.0 801.8L107.6 801.0L106.5 800.3L104.8 799.1M104.8 799.1L108.4 794.7M96.3 790.8L97.1 792.8M96.3 790.8L96.3 795.6M97.1 792.8L99.0 798.2M99.0 798.2L98.0 799.5M96.3 795.6L97.7 799.3M98.0 799.5L97.7 799.3M98.3 792.0L97.1 792.8M96.4 790.1L96.3 790.8M93.2 798.1L95.5 796.4L96.3 795.6M104.8 799.1L99.0 798.2M107.1 802.7L104.5 803.0L101.0 802.2L98.0 799.5M97.7 801.4L97.7 799.3M122.0 775.3L121.4 772.8L121.0 770.0M116.8 774.5L117.3 771.8L117.8 769.6M117.8 769.6L121.0 770.0M126.6 771.9L122.1 768.6M122.1 768.6L121.0 770.0M122.1 768.6L122.3 763.6M112.2 770.2L114.3 769.3L116.7 768.6M112.2 770.2L112.1 767.7L111.3 765.2M116.7 768.6L117.1 767.1L117.8 765.8M111.3 765.2L115.2 764.6M111.4 771.4L112.2 770.2M117.8 769.6L116.7 768.6M107.0 764.2L109.3 764.3L111.3 765.2M109.3 758.9L114.9 763.7M100.6 760.6L101.7 757.9L102.2 754.6L97.8 754.7L94.3 754.1L92.0 753.5L90.2 752.8L88.6 752.2L88.4 754.4L88.0 757.3L90.3 759.4L93.0 761.0L94.9 760.9L97.3 760.9L100.6 760.6M82.4 762.7L82.4 765.4L83.0 768.5L83.9 771.5L85.9 773.4L90.1 774.0L90.0 772.0L89.7 769.3L89.1 766.2L84.8 764.4L82.4 762.7M83.2 770.7L82.1 767.9L81.3 765.5L80.8 763.8L78.9 764.7L76.1 765.4L73.0 764.7L70.6 764.4L68.5 764.1L66.4 763.9L63.9 763.8L64.1 766.3L64.8 768.9L65.6 771.7L66.2 774.4L66.3 777.1L65.9 779.6L64.9 782.1L66.9 781.5L68.3 780.9L69.7 781.3L72.1 782.5L75.3 783.0L79.2 782.6L82.5 781.0L83.5 777.6L83.6 774.1L83.2 770.7M70.9 785.9L67.2 787.2L62.8 787.5L62.3 790.1L62.4 792.6L62.9 795.0L63.7 797.2L67.0 796.9L69.8 795.6L72.3 794.4L72.6 792.6L72.5 790.8L71.9 788.5L70.9 785.9M74.8 798.3L75.4 802.1L76.3 805.6L77.2 808.5L81.1 807.4L83.5 804.9L84.9 803.3L86.6 803.5L86.2 801.7L86.1 800.2L85.9 798.9L83.6 798.5L82.1 798.4L80.4 798.6L77.9 798.8L74.8 798.3M81.4 808.9L80.6 811.1L80.0 813.3L79.7 815.6L80.0 817.9L80.8 820.2L81.9 822.3L82.8 824.3L84.5 823.0L85.3 823.2L86.8 824.5L89.7 825.5L90.5 822.5L91.3 819.7L91.7 817.2L91.6 814.7L90.9 812.1L89.9 809.3L89.0 806.6L86.7 805.6L85.0 805.5L83.5 806.8L81.4 808.9M126.5 753.5L125.1 752.3L124.0 752.2L121.9 753.4L118.2 754.9L113.7 755.2L113.8 758.2L114.2 760.9L114.7 763.1L115.3 764.8L115.7 766.1L119.3 765.3L121.9 763.8L123.4 763.3L125.1 764.4L125.1 761.3L125.1 758.7L125.4 756.6L125.8 754.9L126.5 753.5M155.0 769.6L155.6 768.2L156.0 766.6L156.2 764.7L156.1 762.3L155.6 759.5L155.0 756.5L154.3 753.7L151.2 753.2L149.4 753.0L148.1 753.5L146.0 754.1L142.8 754.0L142.8 755.8L142.7 757.7L142.2 760.0L141.1 762.4L139.7 764.8L138.3 767.0L137.2 769.1L136.9 771.7L137.3 774.4L139.2 776.7L142.7 778.4L146.6 777.9L149.6 775.6L150.9 772.8L151.7 771.0L152.9 770.2L155.0 769.6M98.9 761.7L98.8 763.0L98.7 764.4L98.6 766.2L99.0 768.4L102.6 770.3L107.2 770.5L107.1 767.0L107.1 763.1L107.3 759.4L105.3 760.5L102.2 761.5L98.9 761.7M112.1 810.4L114.5 809.6L117.0 808.1L119.1 806.0L120.6 804.0L121.8 802.3L123.3 800.9L125.7 799.3L128.5 797.3L131.1 795.2L132.9 793.2L134.3 791.7L135.6 790.2L137.2 788.7L138.8 787.1L140.3 785.8L142.0 784.8L144.2 783.8L146.7 782.2L149.2 780.0L151.3 777.9L150.8 775.9L150.4 774.7L148.0 777.8L144.5 780.0L141.2 780.2L139.6 780.0L138.9 780.1L138.3 781.3L137.0 783.4L134.6 785.7L131.6 787.3L128.8 788.2L126.5 788.7L124.8 789.6L123.1 791.2L121.1 793.1L118.7 794.7L116.5 795.5L114.7 795.7L113.4 796.0L112.3 797.1L110.8 798.9L108.8 801.0L106.8 803.0L105.0 804.8L103.0 806.8L100.8 808.9L98.3 810.9L97.2 813.1L96.3 815.1L95.8 817.1L96.0 819.1L96.6 821.4L97.4 823.9L99.8 824.2L102.9 825.1L106.1 825.1L107.7 823.1L109.0 820.7L109.9 818.0L110.2 815.3L110.4 813.1L110.4 811.8L110.8 811.1L112.1 810.4M123.7 802.0L123.8 803.1L123.7 804.4L123.8 806.1L124.3 808.3L125.0 810.9L126.8 812.6L130.0 814.5L133.7 814.4L136.6 812.6L136.9 810.1L136.7 807.4L136.0 804.4L135.1 801.3L133.8 801.1L131.6 801.4L128.7 801.6L126.0 801.7L123.7 802.0M140.2 808.0L140.3 810.4L140.5 813.7L143.5 814.2L146.3 814.9L148.4 815.4L148.1 812.4L148.2 808.8L145.6 808.6L142.6 808.3L140.2 808.0" stroke="#e27fd8" stroke-width="2.90"/><path d="M59.5 755.4L66.0 753.9M66.0 753.9L66.5 753.1M125.6 755.6L128.3 758.2M124.8 752.1L124.7 750.8M131.5 752.4L132.3 755.7M128.3 758.2L132.3 755.7M149.9 824.8L150.8 823.5L153.2 822.0M157.5 821.7L153.2 822.0M150.1 750.9L149.2 753.0M144.5 752.7L144.1 754.2M59.9 762.4L59.7 762.4M59.9 762.4L61.8 763.9L64.1 766.0M60.0 768.1L65.0 769.7M65.7 771.9L63.5 773.8L60.5 775.5M60.6 777.0L62.7 778.9M62.7 778.9L61.0 782.1M60.2 782.0L61.0 782.1M59.2 785.1L59.6 785.9M61.0 782.1L63.8 784.4M59.6 785.9L63.8 784.4M66.2 778.4L62.7 778.9M66.5 781.7L64.6 784.3M64.6 784.3L63.8 784.4M59.9 762.4L63.1 761.1M59.1 758.7L64.4 758.6M63.1 761.1L64.4 758.6M66.0 753.9L66.4 755.7L66.3 757.2M64.4 758.6L66.3 757.2M88.7 758.0L87.0 761.7M87.0 761.7L88.6 765.0L90.8 767.8M90.8 767.8L92.6 764.1L93.3 761.0M138.4 757.1L133.8 755.1M138.4 757.1L140.1 755.3L141.7 754.2M133.8 755.1L135.4 750.2M141.7 754.2L138.0 750.9M128.3 758.2L130.5 762.9M132.3 755.7L133.8 755.1M139.4 759.3L138.4 757.1M139.4 759.3L136.1 763.1M136.1 763.1L130.5 762.9M139.4 759.3L142.3 759.7M142.8 754.4L141.7 754.2M153.7 810.4L157.9 809.6M153.7 810.4L153.7 813.0L153.2 815.3M154.7 815.5L153.2 815.3M154.7 815.5L158.2 813.4M136.1 763.1L136.8 764.8M130.5 762.9L129.2 764.5L128.2 766.0M128.2 766.0L128.6 766.7M128.6 766.7L132.3 767.8L135.0 767.3M136.8 764.8L135.0 767.3M154.7 755.5L158.4 756.2M157.6 818.9L156.0 817.1L154.7 815.5M83.6 798.5L81.1 794.8M85.7 798.9L90.6 797.4M81.4 793.6L84.0 794.5L87.8 794.8M81.4 793.6L81.1 794.8M87.8 794.8L90.6 797.4M89.5 780.2L88.5 777.3M89.5 780.2L87.0 780.7L85.3 781.0M84.9 775.2L84.8 778.2M84.9 775.2L86.3 775.9M86.3 775.9L88.5 777.3M85.3 781.0L84.8 778.2M66.2 823.1L65.6 821.7M66.2 823.1L62.2 825.8M59.4 820.6L60.6 820.3M65.6 821.7L60.6 820.3M58.9 791.7L60.8 794.7L63.7 797.0M63.7 797.1L61.7 798.1L59.8 799.2M59.8 788.6L59.6 785.9M59.8 788.6L58.7 789.0M85.4 803.2L85.6 805.4M77.8 810.9L80.6 811.1M77.8 810.9L76.7 807.5M76.7 807.5L76.8 807.3M93.2 798.1L91.6 802.7M93.2 798.1L91.8 797.1M91.6 802.7L88.7 803.1L86.4 802.9M91.8 797.1L90.6 797.4M91.8 816.7L93.2 814.8M93.2 814.8L93.0 812.7L92.6 810.4M92.6 810.4L89.7 808.7M70.1 764.1L69.5 759.5L69.6 755.2M70.1 764.1L70.1 764.3M71.9 764.6L72.7 761.8L73.2 759.5L74.1 757.6M70.0 753.4L70.6 754.7L73.7 757.2M70.0 753.4L69.6 755.2M73.7 757.2L74.1 757.6M63.1 761.1L65.8 761.5L68.0 762.4L70.1 764.1M66.3 757.2L68.6 755.8L69.6 755.2M72.1 752.0L73.7 757.2M70.6 748.8L70.4 750.9L70.0 753.4M84.9 775.2L83.5 772.6M86.3 775.9L85.9 773.4M83.0 768.4L82.3 768.4M90.8 767.9L90.8 767.8M90.8 767.9L89.6 769.2M87.0 761.7L83.2 760.6M83.2 760.6L82.8 761.0M83.0 763.0L82.8 761.0M128.2 766.0L125.1 762.4M118.7 754.8L116.3 753.6M90.3 751.2L90.2 752.8M98.2 752.1L99.1 754.8M93.1 781.2L95.8 778.1L98.0 774.5M93.1 781.2L89.5 780.2M98.0 774.5L98.0 774.5M88.5 777.3L91.4 775.7L94.3 772.9M98.0 774.5L96.1 773.1L94.3 772.9M90.0 771.9L92.5 772.6L94.4 772.6M94.4 772.6L94.3 772.9M128.2 826.8L127.3 823.8M124.4 825.5L124.8 825.0M124.8 825.0L127.3 823.8M129.7 821.7L132.4 822.8M129.7 821.7L127.7 823.0M132.4 822.8L133.1 826.6M127.7 823.0L127.3 823.8M149.9 824.8L148.9 823.0M148.9 823.0L148.2 823.9L146.2 825.5M146.2 825.5L145.6 827.0M122.3 801.7L123.8 802.4M117.8 808.0L117.5 807.6M117.8 808.0L121.1 807.4L122.9 806.0L123.8 806.1M152.0 808.2L152.2 805.4L152.4 803.1M152.0 808.2L149.1 807.0M149.1 807.0L149.9 801.4M149.9 801.4L150.5 799.8L150.8 799.6M152.4 803.1L150.8 799.6M153.7 810.4L152.0 808.2M156.2 805.2L152.4 803.1M126.1 781.9L128.2 784.7L131.1 787.5M126.1 781.9L128.1 780.4M128.1 780.4L132.2 779.9L135.6 778.9M135.6 778.9L137.2 783.1M139.9 786.0L140.8 791.0M140.8 791.0L144.1 790.0L146.9 788.8M144.9 783.5L145.4 785.9L146.9 788.8M148.9 823.0L148.9 820.7L149.0 818.9M153.2 822.0L150.7 820.1L149.6 818.6M149.0 818.9L149.6 818.6M153.2 815.3L151.7 815.9M149.6 818.6L151.7 815.9M147.3 808.7L149.1 807.0M151.7 815.9L149.9 814.7L148.1 813.2M146.2 825.5L145.3 824.2M149.0 818.9L147.7 818.7M145.3 824.2L146.9 821.3L147.7 818.7M147.0 815.1L147.4 818.3M147.7 818.7L147.4 818.3M141.1 813.8L140.4 815.2M147.4 818.3L144.2 817.0L140.4 815.2M118.7 827.2L117.9 825.7M124.8 825.0L124.5 823.8L123.0 822.8M117.9 825.7L119.3 823.7M119.3 823.7L120.8 823.1M120.8 823.1L123.0 822.8M127.7 823.0L126.8 819.6M123.0 822.8L125.2 821.1L126.8 819.6M129.7 821.7L129.9 819.2M126.9 817.6L126.8 819.6M126.9 817.6L128.9 817.9M129.9 819.2L128.9 817.9M153.2 770.0L155.4 773.0M145.8 778.2L145.7 779.4M155.4 773.0L153.5 773.3L152.2 774.2L150.8 776.2M159.8 760.7L156.2 762.9M136.8 764.8L139.7 764.8M159.1 766.3L155.9 767.1M156.6 773.6L155.4 773.0M157.7 780.3L155.1 778.7L152.7 777.1L150.9 776.6M158.7 784.6L156.2 785.4L153.3 785.8M153.3 785.8L150.7 782.7L148.7 780.6M135.6 778.9L136.5 775.0M136.5 775.0L137.7 776.1L139.6 778.6L142.7 780.3M85.1 782.5L83.5 783.4L82.1 784.7M85.1 782.5L87.5 786.7M87.5 786.7L86.2 789.6M86.2 789.6L82.7 788.7L80.7 787.8M82.1 784.7L80.7 787.8M85.1 782.5L85.3 781.0M81.7 781.6L81.5 782.5M82.6 780.9L84.8 778.2M82.1 784.7L82.2 783.4L81.5 782.5M81.4 793.6L80.7 790.6L80.7 787.9M86.2 789.6L88.7 793.4M88.7 793.4L87.8 794.8M80.7 787.9L80.7 787.8M81.1 794.8L78.4 794.1M77.4 798.7L78.4 794.1M93.1 781.2L94.9 783.1M98.0 774.5L100.0 776.4M100.0 776.4L100.6 779.5L100.6 782.2M100.6 782.2L98.6 783.5M94.9 783.1L98.6 783.5M87.5 786.7L93.7 786.3M94.9 783.1L93.7 786.3M88.7 793.4L93.4 791.3L96.1 788.7M93.7 786.3L96.1 788.7M127.1 788.5L123.9 785.5L122.8 782.9M126.1 781.9L123.6 781.1L122.9 780.7M122.8 782.9L122.9 780.7M108.4 779.8L111.1 782.3L114.7 784.9M108.4 779.8L108.4 778.7M108.4 778.7L112.1 778.1L116.8 776.8M116.8 776.8L118.6 780.1L120.2 782.9M114.7 784.9L118.4 785.0M120.2 782.9L118.4 785.0M127.8 773.6L126.8 777.1M127.8 773.6L131.3 772.6L134.0 770.6L135.5 768.7M135.4 772.2L132.7 775.5L128.0 777.9M135.4 772.2L135.6 768.8M128.0 777.9L126.8 777.1M135.5 768.7L135.6 768.8M128.6 766.7L127.8 769.2L126.6 771.9M135.0 767.3L135.5 768.7M126.6 771.9L127.8 773.6M128.1 780.4L128.0 777.9M136.5 775.0L135.4 772.2M137.0 769.7L135.6 768.8M122.4 776.0L123.8 776.7L126.8 777.1M122.4 776.0L122.7 778.0L122.9 780.0M122.9 780.0L122.9 780.7M122.4 776.0L122.0 775.3M116.8 776.8L117.2 775.4M120.2 782.9L122.3 781.2L122.9 780.0M117.2 775.4L120.4 775.0L122.0 775.3M97.4 826.1L97.4 826.4M97.4 826.1L98.6 823.9M102.8 825.0L102.7 826.2M93.3 820.6L91.1 820.6M93.3 820.6L94.8 823.4L97.4 826.1M87.4 824.8L87.2 827.1M93.3 820.6L94.6 818.7L95.8 818.1M96.7 814.1L96.1 812.5L95.6 811.3L94.7 809.9M102.3 807.6L99.4 806.9M99.4 806.9L97.4 808.0L95.2 808.9M95.2 808.9L94.7 809.9M93.2 814.8L94.6 814.2L96.5 814.4M92.6 810.4L94.7 809.9M97.7 801.4L96.1 802.3L93.5 803.7M97.7 801.4L98.7 804.5L99.4 806.9M93.5 803.7L94.4 806.4L95.2 808.9M93.5 803.7L91.6 802.7M60.6 820.3L60.0 817.7M60.0 817.7L57.5 815.2M65.6 821.7L68.0 819.9M60.0 817.7L65.0 817.6M65.0 817.6L68.0 819.9M80.1 818.0L77.1 819.1M77.1 819.1L74.1 816.5M80.0 813.4L76.3 814.8L73.9 814.7M74.1 816.5L73.9 814.7M73.3 810.9L73.7 814.3M73.3 810.9L74.8 811.3L77.8 810.9M73.9 814.7L73.7 814.3M70.9 814.2L72.1 815.5M70.9 814.2L65.6 816.8M65.6 816.8L65.0 817.6M68.0 819.9L70.7 818.8M72.1 815.5L70.7 818.8M66.2 823.1L67.8 823.6M70.7 818.8L70.4 820.0M67.8 823.6L68.9 821.9L70.4 820.0M74.1 816.5L73.0 818.7L71.6 821.3M73.7 814.3L73.0 814.4L72.1 815.5M70.4 820.0L71.6 821.3M85.3 756.2L85.5 753.8L84.8 751.1M85.3 756.2L85.1 756.5M85.1 756.5L82.6 758.0L78.6 759.2M82.4 752.2L79.9 755.9L77.1 758.6M77.1 758.6L78.6 759.2M88.2 755.4L85.3 756.2M83.2 760.6L84.2 758.5L85.1 756.5M74.1 757.6L77.1 758.6M79.6 761.8L82.4 761.2M79.6 761.8L77.1 763.6L74.5 765.2M82.4 761.2L80.9 763.9M82.8 761.0L82.4 761.2M78.6 759.2L79.6 761.8M107.9 757.2L107.8 755.7L107.0 755.0M107.9 757.2L108.1 757.2L109.3 758.9M109.3 758.9L109.0 756.3L109.2 753.8M107.3 754.4L107.0 755.0M107.3 754.4L108.3 752.7L108.5 752.2L109.0 752.9M109.0 752.9L109.2 753.8M107.3 751.2L107.3 754.4M101.9 757.5L107.0 755.0M109.6 750.8L109.0 752.9M116.3 753.6L112.1 754.4L109.2 753.8M105.0 778.9L103.1 777.1M105.0 778.9L107.7 777.6M103.1 777.1L103.2 775.3L103.4 773.5M103.4 773.5L106.5 775.2L108.5 775.5M107.7 777.6L108.5 775.5M100.0 776.4L103.1 777.1M103.7 782.2L100.6 782.2M103.7 782.2L105.0 778.9M108.4 779.8L107.4 782.2M108.4 778.7L107.7 777.6M103.7 782.2L104.3 783.3M104.3 783.3L107.4 782.2M98.8 763.5L96.8 763.5M98.9 768.0L96.8 767.4M96.8 763.5L96.2 766.0M96.2 766.0L96.8 767.4M107.1 762.8L107.9 757.2M100.7 760.5L100.8 761.6M93.5 761.0L95.4 762.6L96.8 763.5M98.0 774.5L98.7 772.0L99.1 770.1L99.8 768.9M103.4 773.5L101.4 769.9M94.4 772.6L96.8 767.4M90.8 767.9L94.2 767.4L96.2 766.0M110.4 820.4L109.5 822.1L107.3 824.0M110.4 820.4L110.5 820.9M110.5 820.9L110.6 822.1M110.6 822.1L110.2 826.1M107.0 826.4L107.3 824.0M110.0 817.5L110.9 817.1M110.9 817.1L110.4 820.4M107.0 824.0L107.3 824.0M117.9 825.7L113.2 824.1L110.6 822.1M119.3 823.7L115.5 821.6L112.6 819.0M112.6 819.0L111.1 819.5L110.5 820.9M110.4 811.6L113.2 813.8M110.3 811.9L111.0 815.3M113.2 813.8L115.5 816.6M111.0 815.3L112.5 817.9M112.5 817.9L115.5 816.6M117.8 808.0L117.9 808.8M117.9 808.8L115.6 811.8L113.2 813.8M110.9 817.1L111.0 815.3M112.6 819.0L112.5 817.9M140.8 791.2L137.9 791.2L136.1 791.1L135.1 791.3M140.8 791.2L142.6 795.3M142.1 796.8L142.6 795.3M142.1 796.8L136.4 797.5M136.4 797.5L134.5 794.8M134.5 794.8L135.1 791.3M135.0 791.0L135.1 791.3M140.8 791.0L140.8 791.2M131.8 794.5L132.6 795.9L132.9 797.8L133.5 800.4M133.5 800.4L133.9 797.9L134.1 796.1L134.5 794.8M157.6 791.4L155.5 790.6L153.2 789.2M153.3 785.8L152.9 788.2M153.2 789.2L152.9 788.2M146.9 788.8L147.8 789.1M152.9 788.2L150.2 788.3L147.8 789.1M142.6 795.3L147.4 794.2L150.2 792.6M147.8 789.1L150.2 792.6M138.3 826.1L138.5 824.9M145.3 824.2L142.5 824.0M138.5 824.9L142.5 824.0M132.4 822.8L133.9 821.7M138.5 824.9L136.1 823.2L133.9 821.7M122.0 817.4L125.6 815.3M122.0 817.4L118.7 815.7M121.1 812.4L118.7 815.7M121.1 812.4L123.4 809.7L124.4 808.9M125.0 810.8L125.6 815.3M120.8 823.1L121.4 820.5L122.0 817.4M126.9 817.6L125.6 815.3M115.5 816.6L118.7 815.7M117.9 808.8L119.8 810.8L121.1 812.4M135.4 813.8L135.1 813.8M135.4 813.8L136.0 813.1M136.7 812.3L138.6 809.3L140.2 807.7M140.2 807.7L138.8 806.6L137.2 805.1L135.5 802.9M135.5 802.9L135.5 802.9M128.9 817.9L128.7 816.0L128.6 813.9M125.9 799.1L128.3 799.5L130.3 800.2L132.2 801.3M133.5 801.1L133.5 800.4M139.0 803.1L136.6 802.7L135.5 802.9M139.0 803.1L137.5 800.6L136.4 797.5M76.8 786.1L77.9 788.2M76.8 786.1L71.8 784.0M71.8 784.0L70.5 786.0M77.9 788.2L76.9 790.0M76.9 790.0L75.0 790.9L72.6 792.2M81.5 782.5L78.9 784.7L76.8 786.1M80.7 787.9L79.4 787.9L77.9 788.2M70.9 781.9L71.8 784.0M64.6 784.3L66.8 787.3M78.4 794.1L76.9 790.0M73.5 799.4L75.1 800.3M73.5 799.4L72.6 796.3L72.2 794.4M59.8 788.6L62.3 791.2M73.3 810.9L72.2 808.8M70.9 814.2L71.2 809.2M72.2 808.8L71.2 809.2M76.7 807.5L73.5 806.8L71.5 805.4M72.2 808.8L71.5 805.4M67.4 798.8L66.8 801.1M67.4 798.8L69.3 798.1L70.8 799.3M66.8 801.1L68.0 801.5L68.9 802.3M70.8 799.3L69.8 802.0M69.8 802.0L68.9 802.3M66.2 797.1L67.4 798.8M59.9 801.3L63.2 804.1M63.2 804.1L66.8 801.1M73.5 799.4L70.8 799.3M71.5 805.4L69.8 802.0M60.1 808.1L60.4 810.2L61.1 812.5M60.1 808.1L61.2 807.6M61.2 807.6L64.9 807.0L68.2 805.4M62.4 812.9L61.1 812.5M62.4 812.9L66.4 811.2L69.4 808.7M69.4 808.7L68.2 805.4M58.9 807.9L60.1 808.1M57.3 812.7L61.1 812.5M63.2 804.1L61.2 807.6M68.9 802.3L68.2 805.4M65.6 816.8L62.4 812.9M71.2 809.2L69.4 808.7M104.3 783.3L103.5 786.9M103.5 786.9L106.3 788.4M107.4 782.2L109.1 785.4M106.3 788.4L109.1 785.4M114.7 784.9L112.3 785.8L111.2 786.7M111.2 786.7L109.1 785.4M103.5 786.9L98.3 788.1M98.6 783.5L98.5 785.4L98.1 787.4M98.3 788.1L98.1 787.4M106.3 788.4L106.8 794.0M106.8 794.0L102.1 793.9L98.3 792.0M98.3 788.1L98.3 792.0M96.1 788.7L96.2 788.6M98.1 787.4L96.8 787.1L96.2 788.6M91.8 797.1L95.0 793.6L96.4 790.1M96.4 790.1L96.2 788.6M121.7 786.5L119.0 787.7M121.7 786.5L121.9 788.8L122.8 791.4M117.4 793.1L117.4 790.9L117.6 789.2M117.4 793.1L119.3 794.4M117.6 789.2L119.0 787.7M122.8 782.9L121.7 786.5M118.4 785.0L119.0 787.7M117.2 775.4L116.8 774.5M108.5 775.5L111.2 772.2M116.8 774.5L113.5 772.9L111.2 772.2M107.1 769.7L109.5 770.9L111.4 771.4M111.4 771.4L111.2 772.2M84.4 824.5L84.3 823.1M73.5 828.6L73.9 825.8M73.9 825.8L79.0 823.6M82.3 823.1L79.0 823.6M67.8 823.6L67.7 824.6M71.6 821.3L73.9 825.8M77.1 819.1L79.0 823.6M146.4 799.9L150.2 797.5M146.4 799.9L141.3 803.8M150.2 797.5L149.3 801.2M149.3 801.2L143.6 804.8M141.3 803.8L143.6 804.8M139.0 803.1L141.3 803.8M142.1 796.8L146.4 799.9M142.5 808.3L142.2 808.1M149.9 801.4L149.3 801.2M142.2 808.1L142.8 806.4L143.6 804.8M142.2 808.1L140.2 807.7M151.0 795.0L150.9 792.8M151.0 795.0L150.8 795.7L150.7 798.2M150.9 792.8L151.5 792.3M151.5 792.3L152.5 795.0M150.7 798.2L152.5 796.9M152.5 796.9L152.5 795.0M150.2 792.6L150.9 792.8M150.2 797.5L151.0 795.0M150.8 799.6L150.7 798.2M153.2 789.2L152.2 791.0L151.5 792.3M156.9 793.3L152.5 795.0M155.5 799.4L152.5 796.9M133.2 818.3L134.3 816.2L135.5 813.9M133.2 818.3L134.4 819.8M134.4 819.8L138.9 818.5M135.5 813.9L136.8 813.7L138.2 814.0L140.1 815.3M140.1 815.3L138.9 818.5M129.9 819.2L133.2 818.3M135.4 813.8L135.5 813.9M133.9 821.7L134.4 819.8M142.5 824.0L140.7 821.4L138.9 818.5M140.4 815.2L140.1 815.3M112.7 788.7L112.5 788.6M112.7 788.7L113.4 790.3L113.7 792.2M112.5 788.6L111.3 790.6L108.3 794.4M113.7 792.2L113.5 792.6M113.5 792.6L112.9 792.8L111.8 794.4M111.8 794.4L108.4 794.7M108.4 794.7L108.3 794.4M111.2 786.7L112.5 788.6M117.6 789.2L114.6 789.1L112.7 788.7M117.4 793.1L115.0 792.8L113.7 792.2M106.8 794.0L108.3 794.4M113.7 795.9L113.5 792.6M109.7 800.1L111.0 797.3L111.8 794.4M108.0 801.8L107.6 801.0L106.5 800.3L104.8 799.1M104.8 799.1L108.4 794.7M96.3 790.8L97.1 792.8M96.3 790.8L96.3 795.6M97.1 792.8L99.0 798.2M99.0 798.2L98.0 799.5M96.3 795.6L97.7 799.3M98.0 799.5L97.7 799.3M98.3 792.0L97.1 792.8M96.4 790.1L96.3 790.8M93.2 798.1L95.5 796.4L96.3 795.6M104.8 799.1L99.0 798.2M107.1 802.7L104.5 803.0L101.0 802.2L98.0 799.5M97.7 801.4L97.7 799.3M122.0 775.3L121.4 772.8L121.0 770.0M116.8 774.5L117.3 771.8L117.8 769.6M117.8 769.6L121.0 770.0M126.6 771.9L122.1 768.6M122.1 768.6L121.0 770.0M122.1 768.6L122.3 763.6M112.2 770.2L114.3 769.3L116.7 768.6M112.2 770.2L112.1 767.7L111.3 765.2M116.7 768.6L117.1 767.1L117.8 765.8M111.3 765.2L115.2 764.6M111.4 771.4L112.2 770.2M117.8 769.6L116.7 768.6M107.0 764.2L109.3 764.3L111.3 765.2M109.3 758.9L114.9 763.7M100.6 760.6L101.7 757.9L102.2 754.6L97.8 754.7L94.3 754.1L92.0 753.5L90.2 752.8L88.6 752.2L88.4 754.4L88.0 757.3L90.3 759.4L93.0 761.0L94.9 760.9L97.3 760.9L100.6 760.6M82.4 762.7L82.4 765.4L83.0 768.5L83.9 771.5L85.9 773.4L90.1 774.0L90.0 772.0L89.7 769.3L89.1 766.2L84.8 764.4L82.4 762.7M83.2 770.7L82.1 767.9L81.3 765.5L80.8 763.8L78.9 764.7L76.1 765.4L73.0 764.7L70.6 764.4L68.5 764.1L66.4 763.9L63.9 763.8L64.1 766.3L64.8 768.9L65.6 771.7L66.2 774.4L66.3 777.1L65.9 779.6L64.9 782.1L66.9 781.5L68.3 780.9L69.7 781.3L72.1 782.5L75.3 783.0L79.2 782.6L82.5 781.0L83.5 777.6L83.6 774.1L83.2 770.7M70.9 785.9L67.2 787.2L62.8 787.5L62.3 790.1L62.4 792.6L62.9 795.0L63.7 797.2L67.0 796.9L69.8 795.6L72.3 794.4L72.6 792.6L72.5 790.8L71.9 788.5L70.9 785.9M74.8 798.3L75.4 802.1L76.3 805.6L77.2 808.5L81.1 807.4L83.5 804.9L84.9 803.3L86.6 803.5L86.2 801.7L86.1 800.2L85.9 798.9L83.6 798.5L82.1 798.4L80.4 798.6L77.9 798.8L74.8 798.3M81.4 808.9L80.6 811.1L80.0 813.3L79.7 815.6L80.0 817.9L80.8 820.2L81.9 822.3L82.8 824.3L84.5 823.0L85.3 823.2L86.8 824.5L89.7 825.5L90.5 822.5L91.3 819.7L91.7 817.2L91.6 814.7L90.9 812.1L89.9 809.3L89.0 806.6L86.7 805.6L85.0 805.5L83.5 806.8L81.4 808.9M126.5 753.5L125.1 752.3L124.0 752.2L121.9 753.4L118.2 754.9L113.7 755.2L113.8 758.2L114.2 760.9L114.7 763.1L115.3 764.8L115.7 766.1L119.3 765.3L121.9 763.8L123.4 763.3L125.1 764.4L125.1 761.3L125.1 758.7L125.4 756.6L125.8 754.9L126.5 753.5M155.0 769.6L155.6 768.2L156.0 766.6L156.2 764.7L156.1 762.3L155.6 759.5L155.0 756.5L154.3 753.7L151.2 753.2L149.4 753.0L148.1 753.5L146.0 754.1L142.8 754.0L142.8 755.8L142.7 757.7L142.2 760.0L141.1 762.4L139.7 764.8L138.3 767.0L137.2 769.1L136.9 771.7L137.3 774.4L139.2 776.7L142.7 778.4L146.6 777.9L149.6 775.6L150.9 772.8L151.7 771.0L152.9 770.2L155.0 769.6M98.9 761.7L98.8 763.0L98.7 764.4L98.6 766.2L99.0 768.4L102.6 770.3L107.2 770.5L107.1 767.0L107.1 763.1L107.3 759.4L105.3 760.5L102.2 761.5L98.9 761.7M112.1 810.4L114.5 809.6L117.0 808.1L119.1 806.0L120.6 804.0L121.8 802.3L123.3 800.9L125.7 799.3L128.5 797.3L131.1 795.2L132.9 793.2L134.3 791.7L135.6 790.2L137.2 788.7L138.8 787.1L140.3 785.8L142.0 784.8L144.2 783.8L146.7 782.2L149.2 780.0L151.3 777.9L150.8 775.9L150.4 774.7L148.0 777.8L144.5 780.0L141.2 780.2L139.6 780.0L138.9 780.1L138.3 781.3L137.0 783.4L134.6 785.7L131.6 787.3L128.8 788.2L126.5 788.7L124.8 789.6L123.1 791.2L121.1 793.1L118.7 794.7L116.5 795.5L114.7 795.7L113.4 796.0L112.3 797.1L110.8 798.9L108.8 801.0L106.8 803.0L105.0 804.8L103.0 806.8L100.8 808.9L98.3 810.9L97.2 813.1L96.3 815.1L95.8 817.1L96.0 819.1L96.6 821.4L97.4 823.9L99.8 824.2L102.9 825.1L106.1 825.1L107.7 823.1L109.0 820.7L109.9 818.0L110.2 815.3L110.4 813.1L110.4 811.8L110.8 811.1L112.1 810.4M123.7 802.0L123.8 803.1L123.7 804.4L123.8 806.1L124.3 808.3L125.0 810.9L126.8 812.6L130.0 814.5L133.7 814.4L136.6 812.6L136.9 810.1L136.7 807.4L136.0 804.4L135.1 801.3L133.8 801.1L131.6 801.4L128.7 801.6L126.0 801.7L123.7 802.0M140.2 808.0L140.3 810.4L140.5 813.7L143.5 814.2L146.3 814.9L148.4 815.4L148.1 812.4L148.2 808.8L145.6 808.6L142.6 808.3L140.2 808.0" stroke="#cf48c2" stroke-width="1.8"/></g><path d="M103.2 805.2h0" stroke="#cf48c2" stroke-width="2.0" stroke-linecap="round"/><path d="M143.8 785.5h0M73.7 784.3h0M109.3 799.3h0M110.9 813.7h0M123.6 780.5h0M113.4 769.2h0M95.1 782.2h0M133.9 820.7h0M154.1 788.1h0M104.5 788.9h0M72.8 756.4h0M135.1 792.2h0M99.5 804.0h0M107.4 775.8h0M101.5 780.4h0M121.0 776.8h0M70.1 755.3h0M94.6 819.8h0M81.8 762.5h0M69.2 821.6h0" stroke="#cf48c2" stroke-width="3.0" stroke-linecap="round"/><path d="M152.9 772.9h0M123.0 782.0h0M73.0 811.3h0M99.2 810.1h0M136.1 763.2h0M80.4 794.5h0M81.6 765.0h0M94.6 813.5h0M97.3 765.8h0M78.1 791.4h0M137.8 758.0h0M100.2 774.6h0M154.8 781.6h0M97.0 764.7h0M127.5 765.3h0M96.5 789.0h0M96.5 808.8h0M140.7 762.0h0M149.5 789.1h0M89.1 802.5h0" stroke="#cf48c2" stroke-width="4.0" stroke-linecap="round"/><path d="M78.5 761.4h0M141.9 807.4h0M87.3 791.0h0M109.0 760.8h0M70.3 753.3h0M121.3 816.7h0M132.3 774.5h0M99.9 808.5h0M127.5 817.9h0M84.9 777.7h0M71.4 818.4h0M66.4 782.7h0M108.3 782.5h0M137.8 819.1h0M94.9 763.5h0M107.0 776.7h0M84.4 797.8h0M96.5 787.1h0M68.5 782.4h0" stroke="#cf48c2" stroke-width="5.0" stroke-linecap="round"/><path d="M91.9 753.3h0M109.4 751.4h0M138.5 752.0h0M151.0 818.6h0M123.0 822.6h0M86.7 824.9h0M110.3 772.6h0M96.2 787.9h0M64.2 769.6h0M76.6 764.9h0M132.2 771.6h0M155.3 785.0h0M73.6 759.7h0M76.7 763.5h0M136.3 778.5h0M121.1 823.9h0M87.9 765.1h0M71.0 765.5h0M83.5 805.5h0M86.7 774.1h0M110.4 779.4h0M135.9 809.6h0M145.8 809.0h0M135.0 803.5h0M126.9 797.4h0M105.7 756.4h0M108.3 782.4h0M63.6 788.1h0M111.2 815.5h0M107.1 824.0h0M115.0 772.6h0M76.5 819.7h0M71.4 754.1h0M140.9 780.0h0M94.4 787.4h0M71.6 810.5h0M78.7 813.1h0M108.7 822.3h0M159.5 783.7h0M135.1 814.9h0M106.6 760.0h0M135.2 762.5h0M112.5 785.8h0M89.4 767.8h0M60.5 791.3h0M123.8 799.8h0M130.8 795.0h0M136.8 804.7h0M151.8 795.6h0M85.4 803.2h0M65.5 756.0h0M144.7 804.5h0M70.1 801.8h0M130.5 762.0h0M123.5 775.5h0M134.2 773.3h0M104.2 778.8h0M135.4 773.2h0M92.5 791.8h0M103.3 784.9h0M70.9 755.3h0M70.8 814.4h0M128.7 825.2h0M138.0 800.4h0M66.5 800.2h0M143.2 756.5h0M148.3 781.0h0M89.4 780.5h0M103.1 772.7h0M124.3 752.2h0M66.7 796.2h0M125.9 817.8h0M68.1 795.7h0M146.3 789.8h0M107.6 824.9h0M150.1 817.2h0M67.0 800.9h0M91.0 791.8h0M87.5 798.4h0M147.6 788.6h0M141.5 803.0h0M152.0 799.3h0M109.3 775.4h0M134.6 779.5h0M112.3 798.6h0M125.6 751.3h0M139.6 825.5h0M65.2 757.4h0M133.0 824.8h0M88.8 752.6h0M70.0 808.2h0M65.7 756.5h0M142.2 759.8h0M138.0 780.3h0M64.2 823.7h0M66.6 764.9h0M123.9 801.3h0M97.5 763.8h0M141.0 812.6h0M102.4 757.6h0M152.6 787.4h0M150.7 752.0h0M136.8 763.6h0M61.7 759.3h0M60.7 755.0h0M150.1 783.9h0M71.7 792.9h0M62.2 791.5h0M118.1 792.2h0M116.1 784.1h0M108.9 781.1h0M111.7 818.0h0M117.4 765.6h0M83.5 799.4h0M147.6 812.0h0M68.8 822.6h0M77.7 797.0h0M118.4 785.7h0M103.2 769.7h0M78.7 788.4h0M95.8 807.7h0M157.9 819.6h0M97.4 824.0h0M147.8 823.2h0M87.2 763.3h0M69.0 796.8h0M69.1 795.1h0M74.4 799.5h0M120.3 783.3h0M64.1 761.3h0M141.2 777.8h0M74.5 815.2h0M82.3 782.0h0M67.8 819.3h0M101.2 794.4h0M62.4 813.2h0M71.2 805.3h0M96.1 786.5h0M64.1 820.9h0M98.0 790.0h0M96.5 789.0h0M64.7 761.9h0M86.3 801.0h0M93.1 796.5h0M113.8 813.9h0M110.8 819.5h0M145.8 788.7h0M66.4 806.3h0M139.4 807.6h0M110.9 772.9h0M114.5 792.3h0M90.1 822.8h0M84.7 757.5h0M101.4 808.4h0M142.8 806.5h0M125.1 825.0h0M79.3 765.0h0M73.8 757.1h0M67.4 799.5h0M157.1 780.6h0M94.1 760.6h0M96.7 793.0h0M97.9 823.3h0M78.5 762.1h0M134.5 755.2h0M100.0 805.2h0M85.5 782.2h0M125.3 762.5h0M136.6 799.8h0M148.4 793.9h0M96.9 793.0h0M110.8 813.9h0M69.7 762.1h0M97.3 782.6h0M112.6 789.3h0M70.2 782.8h0M132.9 801.3h0M140.4 765.9h0M141.8 807.3h0M148.4 754.1h0M128.9 760.2h0M98.9 825.1h0M84.5 756.7h0M103.4 780.7h0M92.6 765.5h0M62.5 761.2h0M97.4 792.7h0M85.4 774.7h0M128.7 817.6h0M85.3 756.2h0M104.1 778.0h0M126.0 788.1h0M143.8 790.8h0M130.6 795.6h0M63.5 758.9h0M100.0 754.2h0M85.9 803.0h0M66.1 757.9h0M148.9 823.0h0M79.2 760.1h0M80.6 799.3h0M117.9 791.5h0M149.8 777.0h0M77.1 758.3h0M81.2 794.1h0M77.9 811.7h0M71.4 817.5h0M105.9 792.7h0M94.3 779.9h0M103.6 777.5h0M118.2 770.7h0M142.6 804.3h0M74.7 798.8h0M81.2 754.6h0M90.0 786.2h0M94.1 790.8h0M72.4 761.5h0M142.2 753.5h0M143.0 754.6h0M129.3 819.2h0M92.8 782.3h0M126.5 774.2h0M124.8 801.1h0M75.9 759.0h0M98.1 798.0h0M155.8 756.3h0M65.1 778.1h0M150.0 819.7h0M60.7 819.7h0M153.0 787.5h0M111.4 797.3h0M116.6 754.1h0M137.6 806.1h0M130.2 763.1h0M93.8 786.4h0M101.6 771.2h0M108.7 775.1h0M80.0 783.1h0M91.6 803.9h0M76.6 765.7h0M95.9 788.2h0M145.0 785.5h0M69.9 807.6h0M123.4 823.2h0M88.1 758.6h0M93.6 781.3h0M106.2 781.5h0M66.4 754.4h0M121.7 774.9h0M98.3 804.0h0M83.9 806.2h0M65.9 780.3h0M101.8 824.0h0M65.5 769.5h0M126.9 776.3h0M148.9 789.0h0M75.2 765.7h0M67.5 809.6h0M90.7 772.0h0M86.7 775.5h0M106.7 758.6h0M111.2 814.6h0M85.2 781.6h0M86.6 774.8h0M98.1 766.5h0M144.6 754.2h0M121.9 820.6h0M64.4 758.6h0M109.9 758.6h0M112.0 813.1h0M87.9 803.1h0M109.3 793.9h0M61.0 762.4h0M159.0 767.2h0M139.5 814.3h0M136.7 807.2h0M125.6 751.5h0M132.1 794.1h0M150.8 800.8h0M82.8 752.9h0M150.3 776.8h0M128.1 764.0h0M60.8 755.2h0M139.5 808.3h0M95.7 772.5h0M124.4 771.5h0M146.7 826.3h0M60.5 776.9h0M80.7 753.3h0M135.4 756.3h0M155.8 768.6h0M119.9 804.7h0M80.3 814.3h0M148.0 815.6h0M80.3 798.1h0M81.1 791.4h0M116.2 785.3h0M83.3 783.8h0M67.5 805.4h0M86.5 762.6h0M137.1 768.4h0M71.0 808.8h0M136.6 777.6h0M69.6 763.8h0M86.1 756.4h0M70.6 812.1h0M132.0 825.6h0M64.7 802.6h0M97.2 799.1h0M109.1 781.9h0M107.6 825.5h0M149.0 810.1h0M121.9 766.8h0M82.7 761.8h0M71.5 809.1h0M98.5 760.4h0M124.7 751.9h0M142.6 822.6h0M141.5 797.1h0M121.8 806.5h0M81.2 820.3h0M75.0 786.2h0M96.2 789.1h0M111.8 815.3h0M68.0 796.5h0M81.7 823.3h0M80.5 794.3h0M98.2 813.2h0M138.0 765.6h0M138.6 787.8h0M107.6 775.1h0M149.6 791.7h0M91.8 764.2h0M128.5 759.6h0M95.1 792.0h0M150.6 815.9h0M113.4 755.8h0M146.0 782.6h0M110.0 759.6h0M111.7 796.0h0M143.1 778.8h0M155.9 769.5h0M113.2 820.3h0M75.9 797.5h0M121.5 789.0h0M109.3 757.8h0M108.9 778.6h0M138.1 788.0h0M105.9 793.1h0M93.3 774.1h0M144.8 754.0h0M141.4 779.4h0M104.1 774.6h0M103.9 780.2h0M68.8 798.9h0M62.5 797.5h0M115.4 785.8h0M69.4 808.6h0M65.3 778.2h0M66.4 797.4h0M93.9 794.4h0M65.7 774.4h0M85.6 760.3h0M138.2 809.5h0M61.0 811.4h0M95.0 819.5h0M79.2 817.5h0M98.3 824.3h0M95.1 818.2h0M92.2 766.1h0M139.8 824.5h0M127.8 771.6h0M108.3 753.5h0M90.1 824.3h0M113.0 794.0h0M85.2 800.2h0M149.8 775.6h0M102.8 769.4h0M135.5 763.7h0M113.2 792.9h0M98.7 761.8h0M82.1 781.3h0M73.1 759.8h0M107.9 764.8h0M102.9 794.7h0M76.5 805.1h0M113.3 816.5h0M96.5 775.4h0M66.7 817.9h0M156.9 810.5h0M137.4 774.6h0M60.4 821.5h0M142.9 756.4h0M124.3 824.6h0M146.5 825.1h0M80.0 824.0h0M76.3 820.2h0M72.5 782.8h0M65.5 773.2h0M65.2 766.8h0M65.3 803.1h0M74.2 828.0h0M89.9 769.4h0M77.6 785.4h0M107.7 782.6h0M149.7 820.9h0M123.6 801.2h0M125.8 820.2h0M77.9 798.2h0M81.4 794.4h0M71.5 794.1h0M62.7 816.8h0M153.5 813.3h0M111.0 814.4h0M124.0 776.4h0M123.4 782.4h0M120.4 771.1h0M131.3 773.8h0M125.6 815.9h0M94.8 781.7h0M145.0 789.8h0M125.8 764.2h0M96.1 791.8h0M63.6 766.3h0M106.4 753.7h0M133.4 799.6h0M84.3 776.4h0M151.4 796.7h0M127.5 764.0h0M115.1 820.7h0M145.7 785.2h0M98.1 800.0h0M88.6 794.4h0M126.1 789.7h0M145.3 777.9h0M69.7 809.7h0M80.1 821.1h0M97.3 801.8h0M150.2 800.0h0M137.0 812.3h0M84.6 775.5h0M134.8 793.2h0M125.8 824.2h0M83.8 807.6h0M70.2 752.9h0M63.1 754.1h0M86.6 789.0h0M72.4 763.8h0M142.2 785.3h0M84.8 752.1h0M140.9 814.2h0M109.2 793.9h0M96.0 795.2h0M115.8 763.0h0M72.1 818.6h0M130.6 779.5h0M113.7 761.1h0M96.4 782.4h0M63.8 804.9h0M113.8 813.5h0M109.7 754.5h0M70.6 782.1h0M130.0 787.1h0M148.7 814.1h0M63.7 795.2h0M129.8 780.4h0M69.6 753.5h0M103.3 774.3h0M99.2 764.1h0M104.4 804.9h0M134.6 812.5h0M147.8 815.4h0M94.5 790.8h0M62.3 789.9h0M94.7 773.2h0M155.0 771.9h0M95.0 790.3h0M123.7 805.1h0M65.4 801.9h0M135.3 796.9h0M69.7 754.9h0M66.2 816.3h0M73.2 758.0h0M99.1 755.4h0M112.3 765.2h0M114.7 789.9h0M137.7 824.1h0M84.2 788.9h0M80.4 756.0h0M152.4 805.4h0M155.5 777.9h0M147.3 753.0h0M113.2 759.9h0M153.2 812.4h0M118.1 816.8h0M95.5 815.1h0M126.6 799.1h0M85.7 782.9h0M60.5 817.5h0M143.3 794.5h0M99.5 754.0h0M100.5 808.8h0M62.7 758.0h0M87.0 784.4h0M74.4 824.5h0M61.3 819.3h0M81.4 764.2h0M122.1 801.7h0M136.5 773.2h0M94.6 784.6h0" stroke="#552596" stroke-width="1.3" stroke-linecap="round"/><path d="M61.6 805.1h0M104.1 781.0h0M68.7 809.3h0M70.1 760.7h0M149.7 774.4h0M93.3 797.5h0M62.6 821.2h0M80.4 816.5h0M113.2 783.0h0M80.3 787.5h0M121.1 784.6h0M125.2 762.3h0M69.5 762.4h0M68.9 821.3h0M108.2 775.4h0M135.3 771.1h0M62.6 787.9h0M72.5 815.2h0M153.2 809.1h0M124.1 750.9h0M139.9 797.5h0M118.4 825.7h0M79.3 814.5h0M112.1 778.5h0M82.4 784.6h0M66.9 824.0h0M147.2 824.0h0M96.2 788.2h0M75.9 807.4h0M77.2 789.5h0M72.2 807.2h0M109.1 753.0h0M90.1 797.2h0M116.7 767.6h0M136.2 775.3h0M141.9 796.6h0M98.6 753.2h0M137.6 819.1h0M83.8 775.7h0M130.5 757.1h0M155.0 809.5h0M103.6 780.3h0M95.5 763.2h0M64.6 761.6h0M125.9 756.5h0M132.1 772.5h0M97.1 763.0h0M70.7 794.4h0M118.4 778.8h0M97.7 783.9h0M149.8 791.2h0M76.8 757.5h0M116.8 795.3h0M149.1 776.4h0M146.7 799.6h0M148.1 777.9h0M78.5 822.7h0M84.7 798.3h0M135.8 812.9h0M103.8 782.1h0M113.9 793.8h0M105.4 794.2h0M138.8 759.5h0M98.0 811.6h0M125.5 756.4h0M145.9 800.4h0M133.9 792.4h0M123.6 763.0h0M91.8 800.9h0M65.3 779.1h0M70.4 786.3h0M153.1 785.7h0M112.9 769.5h0M66.3 782.8h0M153.6 777.2h0M129.2 778.3h0M144.5 808.7h0M112.0 819.2h0M136.8 764.2h0M85.9 801.8h0M114.9 824.2h0M86.1 780.4h0M150.4 797.2h0M88.3 803.9h0M83.2 765.2h0M81.4 783.1h0M150.9 797.1h0M90.3 776.2h0M70.6 806.2h0M95.8 814.7h0M97.3 826.1h0M64.2 757.2h0M124.7 806.1h0M107.5 787.3h0M63.5 779.6h0M116.4 791.7h0M97.1 787.3h0M94.2 784.5h0M141.0 793.3h0M146.1 798.9h0M81.1 785.6h0M107.0 802.1h0M62.0 790.5h0M73.9 819.0h0M80.1 814.7h0M123.0 782.5h0M136.2 814.9h0M128.9 799.8h0M140.8 754.2h0M142.3 758.8h0M82.5 823.9h0M62.6 779.2h0M145.7 815.9h0M154.1 785.2h0M104.2 769.7h0M133.6 767.3h0M86.3 826.1h0M83.8 772.6h0M102.4 775.9h0M69.5 753.5h0M116.9 809.1h0M96.2 795.0h0M104.7 761.2h0M78.2 810.1h0M133.7 793.8h0M94.5 822.4h0M134.1 792.1h0M114.4 795.9h0M61.6 807.7h0M99.5 764.5h0M156.1 766.1h0M85.4 776.0h0M128.3 825.0h0M92.9 821.6h0M150.6 771.1h0M80.3 790.4h0M109.2 801.5h0M61.8 773.9h0M99.0 784.4h0M92.0 818.8h0M117.1 785.9h0M128.3 823.3h0M97.0 812.5h0M75.7 798.1h0M103.7 774.2h0M95.8 754.2h0M133.1 779.9h0M145.2 800.3h0M84.9 804.2h0M99.6 768.2h0M154.8 790.1h0M127.0 802.3h0M127.6 768.1h0M157.8 784.1h0M66.0 770.3h0M132.6 800.9h0M145.6 818.7h0M151.0 791.0h0M119.3 814.4h0M134.9 785.0h0M89.3 767.2h0M99.4 766.1h0M146.4 815.8h0M63.8 803.4h0M139.2 765.0h0M65.7 782.5h0M70.7 812.2h0M61.7 785.5h0M155.0 814.5h0M122.4 767.7h0M149.7 824.3h0M141.6 804.7h0M76.4 815.5h0M127.5 821.0h0M88.1 760.2h0M84.4 776.1h0M128.5 802.5h0M98.3 801.5h0M126.0 788.1h0M133.9 755.0h0M63.2 824.7h0M134.1 770.1h0M80.9 784.5h0M109.2 785.5h0M73.3 782.5h0M105.4 803.6h0M151.6 772.0h0M61.9 802.2h0M153.6 754.2h0M82.1 823.2h0M96.8 790.2h0M57.7 815.8h0M62.1 803.0h0M88.4 762.8h0M75.9 785.5h0M76.8 805.8h0M155.2 767.8h0M73.3 790.8h0M141.4 752.8h0M118.1 777.1h0M91.3 791.9h0M61.7 779.3h0M98.0 824.1h0M138.5 751.6h0M65.5 770.7h0M112.3 755.1h0M111.4 768.2h0M154.1 793.2h0M69.2 762.3h0M128.9 765.8h0M71.0 819.9h0M115.4 763.4h0M133.3 801.3h0M64.7 779.4h0M82.6 764.6h0M59.8 799.5h0M101.9 794.3h0M122.1 762.8h0M77.8 758.0h0M93.6 810.1h0M61.8 803.0h0M65.4 775.2h0M76.9 763.0h0M139.5 776.9h0M103.8 785.8h0M150.2 774.6h0M97.1 789.9h0M144.2 798.2h0M108.1 785.9h0M146.8 754.7h0M100.4 781.2h0M120.0 813.7h0M139.3 825.2h0M66.5 771.7h0M113.5 790.3h0M152.5 800.3h0M120.2 806.9h0M90.7 808.7h0M90.1 757.9h0M114.1 763.1h0M91.8 814.6h0M75.8 806.6h0M124.2 805.9h0M154.3 811.3h0M150.7 816.7h0M71.3 808.0h0M100.4 792.6h0M137.5 776.3h0M100.8 769.7h0M138.3 801.8h0M112.3 810.8h0M111.3 823.9h0M98.1 764.3h0M91.0 787.1h0M152.3 790.1h0M111.7 820.4h0M97.0 765.2h0M68.3 803.1h0M126.5 813.4h0M62.8 764.0h0M64.6 762.1h0M148.4 822.1h0M112.4 768.5h0M154.0 814.6h0M97.8 783.0h0M143.3 754.4h0M122.5 822.3h0M147.4 789.4h0M132.6 780.4h0M95.8 766.0h0M135.6 762.2h0M60.8 807.2h0M113.7 796.3h0M108.5 752.3h0M124.3 763.8h0M71.9 762.9h0M150.5 795.7h0M61.0 820.1h0M108.4 758.3h0M72.1 805.7h0M69.8 821.6h0M64.4 763.2h0M139.6 824.8h0M98.1 783.2h0M122.8 769.0h0M122.1 763.1h0M63.1 785.5h0M155.6 779.0h0M126.5 756.1h0M73.7 817.0h0M77.9 811.9h0M137.0 769.8h0M67.8 763.6h0M80.4 810.9h0M135.0 815.6h0M67.9 800.6h0M122.7 823.5h0M147.4 809.4h0M150.2 796.8h0M102.4 787.5h0M138.9 802.4h0M71.5 821.4h0M83.8 772.6h0M80.7 753.4h0M136.9 762.1h0M72.6 824.1h0M139.7 787.2h0M86.9 755.2h0M151.0 776.9h0M149.9 796.7h0M74.5 814.4h0M157.0 821.7h0M101.8 753.7h0M142.6 759.5h0M66.0 786.5h0M74.7 764.3h0M153.8 772.8h0M150.6 774.0h0M129.0 779.4h0M136.4 757.0h0M107.5 771.0h0M104.3 784.8h0M101.4 806.9h0M115.7 811.6h0M63.5 824.6h0M59.7 787.6h0M120.6 772.3h0M79.9 758.8h0M116.7 824.5h0M59.7 808.7h0M155.7 763.7h0M71.0 810.5h0M83.2 797.8h0M114.3 793.5h0M149.2 794.2h0M122.4 819.0h0M150.0 825.2h0M127.7 821.0h0M107.8 768.0h0M151.1 797.1h0M99.2 783.3h0M70.4 819.2h0M116.8 768.0h0M132.3 763.2h0M74.6 825.7h0M136.7 823.0h0M116.1 784.1h0M127.0 817.1h0M68.7 810.4h0M143.6 779.8h0M136.6 806.8h0M68.4 802.8h0M155.4 778.5h0M140.1 766.2h0M66.2 775.3h0M133.6 821.4h0M109.4 755.4h0M65.9 811.7h0M71.7 790.6h0M130.6 814.3h0M85.4 757.3h0M87.0 773.3h0M85.5 784.6h0M78.6 824.3h0M128.0 800.8h0M148.7 802.4h0M70.2 764.3h0M95.4 809.3h0M65.0 786.9h0M78.7 784.7h0M82.9 758.0h0M98.0 799.4h0M82.8 823.9h0M130.9 800.9h0M98.8 799.9h0M106.8 761.9h0M108.0 763.8h0M113.9 764.0h0M97.4 760.2h0M108.1 751.7h0M149.0 793.3h0M148.1 821.8h0M156.8 818.4h0M156.7 780.0h0M81.9 785.9h0M71.0 783.3h0M156.5 761.5h0M104.5 802.0h0M148.2 802.7h0M61.0 795.6h0M62.2 819.9h0M59.3 763.1h0M79.4 817.9h0M138.6 818.3h0M124.2 761.7h0M67.8 797.1h0M106.7 761.4h0M78.9 814.7h0M111.4 773.0h0M81.5 765.0h0M77.0 785.4h0M138.5 757.7h0M61.3 801.2h0M98.4 760.4h0M83.7 788.4h0M65.3 803.8h0M135.5 767.2h0M69.4 814.3h0M119.5 783.0h0M82.0 807.8h0M66.8 801.7h0M89.7 822.0h0M113.5 816.8h0M79.5 784.4h0M62.7 807.1h0M137.0 825.0h0M91.0 751.2h0M68.3 815.7h0M124.6 802.6h0M73.7 805.8h0M101.9 781.2h0M145.1 800.9h0M74.2 765.7h0M88.6 758.6h0M75.7 765.3h0M114.3 785.5h0M90.5 819.6h0M80.9 810.8h0M116.7 788.8h0M151.3 797.9h0M152.5 753.9h0M72.7 798.6h0M97.7 823.1h0M83.0 805.4h0M155.1 798.4h0M93.4 821.7h0M78.1 792.4h0M150.0 794.0h0M127.3 788.7h0M59.3 793.0h0M97.1 767.1h0M78.9 815.8h0M61.3 807.4h0M140.4 821.4h0M60.1 768.3h0M151.0 777.2h0M63.8 788.4h0M68.3 810.9h0M59.3 808.6h0M118.0 793.6h0M147.4 812.9h0M139.5 759.7h0M78.6 795.8h0M100.2 776.1h0M139.7 786.3h0M148.4 822.6h0M70.6 821.0h0M151.2 793.3h0M130.2 761.4h0M143.1 804.1h0M95.0 772.0h0M150.9 800.9h0M77.0 785.9h0M95.7 810.8h0M148.3 791.0h0M83.3 762.1h0M77.6 821.0h0M84.1 794.9h0M67.9 800.4h0M124.4 763.0h0M102.3 755.0h0M130.3 756.2h0M138.4 780.5h0M77.9 818.3h0M97.0 801.9h0M122.3 784.0h0M128.3 765.4h0M61.6 806.7h0M127.6 757.1h0M107.2 780.7h0M155.8 761.1h0M131.9 779.8h0M85.9 823.3h0M136.0 771.3h0M73.9 813.4h0M86.6 776.5h0M65.6 760.5h0M151.5 802.7h0" stroke="#552596" stroke-width="1.8" stroke-linecap="round"/></g><text x="65.4" y="817.9" font-size="5.6" fill="#111">50 μm</text><line x1="65.2" y1="819.8" x2="76.2" y2="819.8" stroke="#111" stroke-width="1"/><rect x="63.8" y="755.1" width="89.9" height="67.7" fill="none" stroke="#2a2a2a" stroke-width="1.3"/>
<clipPath id="he14"><rect x="160.1" y="754.5" width="90.6" height="68.9"/></clipPath><g clip-path="url(#he14)"><rect x="160.1" y="754.5" width="90.6" height="68.9" fill="#fefafe"/><g fill="none" stroke-linejoin="round" stroke-linecap="round"><path d="M251.0 786.1L250.3 784.0M250.2 782.9L250.2 781.5M251.0 786.1L250.0 786.8M243.6 783.2L242.6 782.8M242.6 782.8L242.2 782.0M254.8 773.3L253.4 774.3M252.2 786.3L251.0 786.1M235.7 788.0L237.7 785.9L240.1 784.0L242.6 782.8M235.7 788.0L238.9 790.7M238.9 790.7L242.9 787.2M157.1 757.4L162.2 756.0M162.2 756.0L161.5 754.4L160.8 752.6M218.4 773.2L220.6 771.1L223.2 769.1L225.6 767.3M218.4 773.2L219.5 774.2L220.0 776.8M225.6 767.3L227.4 767.4M222.8 779.2L225.4 777.9L227.7 776.5M254.2 753.9L251.8 753.8L248.7 753.4M248.1 752.0L248.7 753.4M249.3 798.1L249.7 800.4L249.9 803.1M250.8 797.2L252.3 796.5M252.1 802.5L249.9 803.1M254.3 808.4L251.6 806.3L249.6 803.8M255.5 811.0L253.9 812.0M247.6 811.0L248.4 807.2L249.1 804.0M249.6 803.8L249.1 804.0M249.9 803.1L249.6 803.8M243.6 801.1L240.6 803.4L237.7 805.4M243.6 801.1L246.4 803.4M246.4 803.4L244.2 806.4L241.9 809.4M237.7 805.4L239.2 807.8L240.1 809.7M243.9 795.9L243.6 801.1M249.1 804.0L246.4 803.4M242.6 795.4L241.1 795.2M238.9 790.7L238.4 792.4M238.4 792.4L239.6 793.3L241.1 795.2M235.7 788.0L232.9 785.2M231.3 791.2L233.9 796.0M238.4 792.4L235.8 795.0L233.9 796.0M172.2 793.8L171.4 795.9M162.4 795.2L165.6 795.5L167.3 796.3M162.4 795.2L162.5 794.7M171.4 795.9L169.8 796.0L167.3 796.3M162.5 774.4L163.4 776.6M162.5 774.4L156.0 775.0M157.9 785.2L156.8 785.5M158.4 797.7L162.4 795.2M158.4 797.7L155.8 795.6M158.3 762.5L161.4 761.9L163.1 762.5M160.9 766.9L163.1 762.5M162.5 774.4L162.7 773.0M160.9 766.9L161.6 769.8L162.7 773.0M162.2 756.0L164.7 757.4M163.1 762.5L164.2 762.3M167.4 752.1L167.1 754.2L166.4 756.8M158.7 808.4L160.5 805.9M157.9 803.6L158.9 803.5M160.5 805.9L158.9 803.5M158.4 797.7L160.1 801.5M160.1 801.5L158.9 803.5M157.4 815.3L160.1 815.4M157.9 821.5L160.9 820.3L162.9 818.9M162.9 818.9L160.1 815.4M158.4 809.9L160.3 811.3M160.1 815.4L160.3 811.3M232.9 784.6L233.9 781.3L234.9 778.0M235.2 755.7L239.2 753.8M239.2 753.8L241.3 755.2L243.3 757.6M240.7 764.2L241.9 762.4L242.7 760.2L243.3 757.6M243.3 750.2L243.9 753.5L244.9 756.7M240.8 751.1L239.2 753.8M243.3 757.6L244.9 756.7M248.7 753.4L247.2 754.9L245.9 757.0M244.9 756.7L245.9 757.0M232.8 754.7L232.5 752.9M254.7 819.8L254.0 819.2M226.9 805.7L226.7 806.9M215.9 806.2L215.9 808.5M215.9 808.5L219.1 810.7L222.2 811.7M222.2 811.7L225.0 810.3M226.7 806.9L225.0 810.3M242.1 826.3L242.0 827.7M231.9 806.1L233.7 805.9L235.8 805.1M231.9 806.1L230.4 803.2M235.8 805.1L234.2 802.3L233.8 799.9M231.8 798.9L233.3 799.3M233.3 799.3L233.8 799.9M237.7 805.4L235.8 805.1M241.1 795.2L238.0 797.4L235.5 799.2L233.8 799.9M233.9 796.0L233.3 799.3M171.0 775.7L170.3 773.0L169.8 771.4L168.9 770.3M174.0 778.7L174.7 776.4L175.6 774.1L176.8 771.7L178.2 769.3L179.4 766.8M181.3 761.5L181.4 761.3M168.9 770.3L168.9 769.8M181.4 761.3L181.4 761.3M162.7 773.0L164.9 772.5L166.3 772.3L167.3 771.6L168.9 770.3M175.2 784.0L177.6 784.2M181.4 761.5L181.4 761.3M181.4 761.5L181.4 761.6M173.2 750.7L173.1 753.8L173.6 757.0M181.4 761.5L181.9 758.4L182.0 756.2L180.8 754.1L179.0 751.6M172.7 820.5L172.5 821.7M172.7 820.5L169.1 817.7M172.5 821.7L169.0 823.6L165.7 826.1L163.1 828.0M169.1 817.7L166.0 819.5L164.2 821.3M164.2 821.3L163.3 824.4L162.2 827.7M174.4 824.7L172.5 821.7M158.2 823.3L161.1 825.0L162.1 827.7M162.9 818.9L163.5 819.1M163.5 819.1L164.2 821.3M216.0 774.2L218.4 773.2M216.0 774.2L212.6 772.0M225.6 767.3L222.8 766.9L218.3 766.8M218.3 766.8L213.4 768.6M212.6 772.0L213.4 768.6M216.0 774.2L215.2 776.1L214.6 777.8M214.6 777.8L215.4 778.3M245.0 765.3L246.4 762.1L248.0 758.9M252.6 763.0L253.1 762.1M253.1 762.1L251.3 759.7L250.1 758.0M250.1 758.0L248.0 758.9M255.7 767.8L253.6 767.5M245.9 757.0L248.0 758.9M253.9 756.1L250.1 758.0M226.3 753.4L225.6 750.8M224.5 822.6L227.9 822.6L232.2 820.4M224.5 822.6L223.8 817.6M223.8 817.6L224.3 816.2M224.3 816.2L226.8 815.1L230.8 813.3M234.1 824.5L234.8 822.0M225.2 828.7L223.0 824.7M223.0 824.7L224.5 822.6M226.7 806.9L227.2 807.6L228.0 809.3L230.3 811.3M225.0 810.3L224.8 812.6L224.3 816.2M231.9 806.1L233.4 810.0M223.0 824.7L219.8 821.2M219.8 821.2L219.6 824.8M181.2 797.3L178.2 800.0L175.1 802.6M171.4 795.9L171.6 799.2L173.0 802.3M175.1 802.6L173.0 802.3M163.5 819.1L164.4 816.9L165.3 814.4M160.3 811.3L162.6 810.0M162.6 810.0L165.3 814.4M169.1 817.7L169.0 815.0L169.1 812.9M165.3 814.4L169.1 812.9M178.7 806.7L178.8 808.8M178.7 806.7L175.7 807.7M178.8 808.8L177.8 811.8L177.0 814.6M175.7 807.7L174.9 808.3M174.9 808.3L173.4 810.3L171.8 812.0M171.8 812.0L173.7 812.9L175.4 814.8M175.4 814.8L177.0 814.6M181.3 802.2L178.7 806.7M175.1 802.6L175.7 805.4L175.7 807.7M182.3 817.2L179.4 816.8L177.0 814.6M182.3 817.2L185.0 813.9L187.5 811.2M187.5 811.2L187.4 811.1M187.4 811.1L184.0 811.1L180.9 810.1L178.8 808.8M176.6 821.4L175.8 818.3L175.4 814.8M176.6 821.4L172.7 820.5M169.1 812.9L169.6 812.6M169.6 812.6L171.8 812.0M177.2 822.3L178.9 822.4L181.8 820.2M177.2 822.3L177.6 824.8L177.5 827.3M180.3 827.7L182.4 824.1L184.9 820.2M181.8 820.2L184.9 820.2M176.6 821.4L177.2 822.3M182.3 817.2L181.8 820.2M185.5 820.0L190.3 822.4M185.5 820.0L184.9 820.2M190.3 822.4L190.7 825.8M185.5 820.0L188.2 817.3L190.2 815.4L191.2 814.3M191.2 814.3L189.9 811.8L187.5 811.2M194.4 826.4L194.6 823.4M198.4 825.8L197.5 822.7M197.5 822.7L194.6 823.4M190.3 822.4L193.3 822.6L194.4 823.1M194.6 823.4L194.4 823.1M185.7 807.8L187.6 810.7M186.9 805.5L191.1 806.7M187.6 810.7L189.9 809.3L191.5 808.2M191.1 806.7L191.5 808.2M187.4 811.1L187.6 810.7M186.0 801.4L188.6 802.4L192.4 801.7M193.9 803.6L192.4 801.7M193.9 803.6L191.1 806.7M192.4 801.7L193.7 799.0L195.3 796.1M187.0 795.8L189.6 796.5L194.9 795.9M195.3 796.1L194.9 795.9M189.5 790.1L191.5 789.0L194.6 787.9M194.9 795.9L194.5 791.9L194.6 787.9M214.6 777.8L211.5 777.2L208.3 775.5M212.6 772.0L210.7 769.6L210.0 767.0M208.3 775.5L208.9 771.1L209.8 767.3M210.0 767.0L209.8 767.3M183.6 753.0L184.2 751.4M190.3 754.0L190.4 751.9M194.5 764.9L194.7 765.5M194.7 765.5L196.1 764.8L197.7 762.7M196.2 760.0L198.5 759.1M197.7 762.7L198.5 759.1M195.6 754.5L196.9 753.8M196.9 753.8L198.8 755.6L199.4 757.0M198.5 759.1L199.4 757.0M208.4 755.3L206.7 751.5M208.4 755.3L210.8 757.5M210.8 757.5L212.6 756.5L215.2 754.4M215.2 754.4L215.0 752.3M204.0 756.6L200.2 756.0M204.0 756.6L206.4 755.7L208.4 755.3M200.2 756.0L201.5 753.0L202.7 750.6M196.9 753.8L197.0 751.7M199.4 757.0L200.2 756.0M218.2 762.0L214.8 760.6M218.2 762.0L222.3 760.5L225.5 759.5L227.4 759.2M214.8 760.6L217.3 757.3L219.8 754.2M227.4 759.2L225.1 756.8L222.6 754.8L220.4 753.8M220.4 753.8L219.8 754.2M218.3 766.8L218.2 762.0M213.4 768.6L211.5 764.8M213.5 761.2L211.5 764.8M213.5 761.2L214.8 760.6M227.5 759.3L227.4 759.2M211.2 758.4L212.7 760.1L213.5 761.2M211.2 758.4L210.8 757.5M215.2 754.4L219.8 754.2M222.6 750.5L220.4 753.8M212.3 826.7L212.2 825.5M206.9 827.2L208.6 824.3M212.2 825.5L210.6 825.7L208.6 824.3M166.3 799.0L168.0 802.5M166.3 799.0L163.7 800.4M168.0 802.5L169.0 806.7M163.7 800.4L163.2 802.6L162.9 805.3M169.0 806.7L166.0 807.6M166.0 807.6L162.9 805.6M162.9 805.3L162.9 805.6M167.3 796.3L166.3 799.0M173.0 802.3L170.5 802.9L168.0 802.5M160.1 801.5L162.2 800.7L163.7 800.4M174.9 808.3L172.1 808.2L169.0 806.7M160.5 805.9L161.8 805.1L162.9 805.3M169.6 812.6L168.0 810.8L166.0 807.6M162.6 810.0L162.9 805.6M191.8 815.7L191.8 812.8L192.5 809.9M191.8 815.7L192.5 817.8M192.5 817.8L194.2 818.0L198.5 816.4M198.5 816.4L198.1 814.0L197.8 811.0M192.5 809.9L196.3 809.8M196.3 809.8L197.8 811.0M191.2 814.3L191.8 815.7M191.5 808.2L192.5 809.9M194.4 823.1L193.5 820.8L192.5 817.8M193.9 803.6L197.4 803.2M197.4 803.2L196.6 806.3L196.3 809.8M197.4 803.2L201.2 800.3M204.9 809.6L205.6 806.3M204.9 809.6L197.8 811.0M201.2 800.3L202.6 803.7L205.6 806.3M201.2 800.3L201.7 798.7M208.8 804.2L205.6 806.3M208.8 804.2L207.1 802.9L205.0 801.0L203.5 798.7M201.7 798.7L202.5 798.9L203.5 798.7M195.3 796.1L200.9 795.0M201.7 798.7L201.7 796.5L200.9 795.0M209.8 803.9L208.8 804.2M209.8 803.9L211.9 802.2L214.5 801.2M211.4 796.1L207.0 796.9L203.9 797.4M203.9 797.4L203.5 798.7M198.3 779.5L199.8 778.5L201.7 776.8M198.3 779.5L196.0 778.5L193.2 776.1M201.7 776.8L200.9 775.3L198.9 773.7M192.9 773.6L195.1 774.3L197.8 773.7M197.8 773.7L198.7 773.7M198.7 773.7L198.9 773.7M208.3 775.5L205.2 777.8M205.2 777.8L201.7 776.8M209.8 767.3L207.5 768.1L203.4 771.2L198.9 773.7M194.7 765.5L195.2 770.1L197.8 773.7M201.6 764.8L197.7 762.7M201.6 764.8L200.6 768.0L199.6 771.1L198.7 773.7M192.3 782.8L194.7 782.6M194.6 787.9L196.0 786.6M196.0 786.6L195.2 784.3L194.7 782.6M198.3 779.5L198.2 780.1M194.7 782.6L196.7 781.0L198.2 780.1M203.1 793.2L202.8 792.2M203.1 793.2L204.2 792.2L206.6 790.3L210.0 787.9M202.8 792.2L200.9 787.8M211.1 785.7L208.2 785.9L205.2 785.1M205.2 785.1L202.5 786.1L201.0 786.1M200.9 787.8L201.0 786.1M200.9 795.0L202.5 793.1L202.8 792.2M203.9 797.4L203.2 795.2L203.1 793.2M196.0 786.6L198.9 786.6L200.9 787.8M205.2 777.8L205.1 781.7L205.2 785.1M198.2 780.1L199.4 782.3L201.0 786.1M206.2 761.0L204.3 763.5M206.2 761.0L210.9 761.1M204.3 763.5L207.6 764.3L209.5 765.0L210.0 766.7M210.9 761.1L211.3 763.5M210.0 766.7L210.9 764.9L211.3 763.5M204.0 756.6L206.2 761.0M201.6 764.8L204.3 763.5M211.2 758.4L211.0 759.9L210.9 761.1M210.0 767.0L210.0 766.7M211.5 764.8L211.3 763.5M219.8 821.2L217.9 818.7M212.2 825.5L213.8 822.5L215.6 819.6M217.9 818.7L215.6 819.6M223.8 817.6L222.7 816.3L221.2 815.5M217.9 818.7L219.5 816.9L221.2 815.5M222.2 811.7L219.6 814.0M221.2 815.5L219.6 814.0M209.8 803.9L210.0 805.3L209.7 807.3M204.9 809.6L207.4 810.2L208.6 810.8M208.6 810.8L209.2 809.0L209.7 807.3M215.9 808.5L213.2 809.5L211.1 810.7M209.7 807.3L211.1 810.7M219.6 814.0L215.8 814.5L212.2 814.5M211.1 810.7L212.2 814.5M215.6 819.6L213.6 818.9L211.1 817.0M212.2 814.5L211.1 817.0M208.1 823.3L208.9 821.3L209.3 819.2L209.5 816.8M208.1 823.3L205.5 820.7L202.5 819.2M203.2 816.4L202.5 819.2M203.2 816.4L206.5 814.1L208.4 812.3M208.4 812.3L208.7 814.2L209.5 816.8M208.6 824.3L208.1 823.3M211.1 817.0L209.5 816.8M197.5 822.7L202.5 819.2M198.5 816.4L203.2 816.4M208.6 810.8L208.4 812.3M167.0 770.3L169.5 769.6L172.5 768.1L175.3 767.4L178.6 766.8L180.6 766.9L180.9 763.5L181.5 760.5L182.0 758.1L181.9 756.0L180.2 756.4L176.8 756.8L172.5 757.0L168.7 757.0L166.4 756.8L165.5 756.5L164.6 756.3L164.7 757.8L164.5 759.5L164.2 761.7L164.3 765.0L165.3 768.3L167.0 770.3M242.0 782.0L245.5 782.1L247.9 781.9L249.4 781.5L250.9 781.4L251.9 778.4L252.9 775.7L253.7 773.4L254.0 771.1L253.9 768.9L253.4 766.5L252.8 764.0L252.3 761.4L247.2 764.0L245.3 765.1L244.1 765.5L242.4 764.9L239.4 763.8L235.3 763.0L234.8 760.4L234.8 758.0L235.2 755.9L235.4 754.2L231.9 754.8L228.9 754.6L226.9 753.8L225.5 752.7L226.2 755.4L227.1 758.0L227.9 760.4L228.3 762.6L228.1 764.7L227.5 767.0L226.7 769.6L226.0 772.7L227.3 776.0L229.7 778.4L232.0 779.5L234.2 778.5L235.1 778.0L236.1 779.0L238.4 780.7L242.0 782.0M179.6 795.5L181.1 797.2L181.7 798.9L181.4 801.4L181.2 804.9L184.0 808.4L187.7 807.4L186.8 805.3L186.2 803.0L186.0 800.4L186.4 797.7L187.1 795.5L188.1 793.3L189.1 790.9L190.0 788.5L191.2 785.7L192.2 783.0L193.0 780.5L193.6 778.3L193.2 776.0L192.9 773.4L192.9 770.7L193.3 768.2L194.1 765.9L194.9 764.0L195.6 762.3L196.1 760.7L196.2 759.0L196.0 756.9L195.6 754.5L192.0 754.3L188.3 753.7L185.3 753.1L183.4 753.0L182.8 754.9L182.2 757.0L181.8 759.2L181.4 761.8L181.1 764.5L180.8 767.2L180.6 770.4L180.4 773.3L180.0 775.9L179.5 778.0L178.8 779.8L178.4 781.5L177.9 783.2L177.4 785.3L177.4 787.7L177.8 790.4L178.6 793.1L179.6 795.5M174.4 792.5L174.4 789.2L174.7 786.5L175.2 784.1L175.4 782.0L175.4 779.8L173.0 777.8L171.0 775.7L169.6 774.5L168.4 775.4L167.1 776.1L165.1 776.5L162.3 776.7L159.0 776.9L158.9 779.8L158.7 782.2L158.1 784.4L157.4 786.5L156.7 788.9L156.3 791.6L156.4 794.5L159.0 795.0L163.1 794.6L167.3 793.9L170.0 793.8L171.7 793.8L172.6 793.5L174.4 792.5M250.6 782.9L248.8 782.9L247.6 782.8L245.4 783.0L241.9 783.4L242.6 785.0L242.9 786.4L242.8 788.1L242.6 790.3L242.5 793.0L242.7 796.1L246.1 796.1L248.4 797.2L249.6 798.4L250.8 798.5L250.8 796.9L250.6 795.1L250.3 792.9L250.0 790.0L250.0 786.5L250.6 782.9M217.4 808.1L221.2 808.4L224.5 807.4L226.8 805.8L228.2 804.6L229.5 804.7L230.5 803.1L231.6 801.9L232.6 800.9L231.9 799.0L230.4 797.0L227.9 794.8L225.2 792.8L227.8 791.7L230.3 791.3L232.3 791.1L233.9 790.2L233.1 787.0L232.9 784.1L232.8 782.1L232.1 781.0L228.2 781.2L223.6 779.7L220.3 776.9L218.6 776.5L217.6 776.8L216.6 777.6L214.9 778.5L212.4 779.0L212.5 781.0L212.2 782.9L211.5 784.8L210.5 786.8L209.5 789.0L209.8 791.6L210.7 794.5L211.9 797.1L212.8 799.3L214.2 800.6L214.7 802.5L215.5 805.2L217.4 808.1M254.7 812.0L251.1 811.6L246.9 810.8L243.8 809.9L242.1 809.5L240.5 809.5L238.4 810.2L235.9 810.3L233.0 810.0L230.1 809.8L230.6 812.6L231.3 815.3L231.9 817.5L232.2 819.6L232.0 821.5L231.5 823.7L234.5 822.1L236.8 822.3L238.5 824.1L239.8 825.9L241.7 826.4L244.2 825.4L247.3 823.7L250.3 822.9L252.7 823.7L253.5 820.6L254.4 818.0L255.1 815.8L255.2 813.9L254.7 812.0" stroke="#e996de" stroke-width="2.70"/><path d="M251.0 786.1L250.3 784.0M250.2 782.9L250.2 781.5M251.0 786.1L250.0 786.8M243.6 783.2L242.6 782.8M242.6 782.8L242.2 782.0M254.8 773.3L253.4 774.3M252.2 786.3L251.0 786.1M235.7 788.0L237.7 785.9L240.1 784.0L242.6 782.8M235.7 788.0L238.9 790.7M238.9 790.7L242.9 787.2M157.1 757.4L162.2 756.0M162.2 756.0L161.5 754.4L160.8 752.6M218.4 773.2L220.6 771.1L223.2 769.1L225.6 767.3M218.4 773.2L219.5 774.2L220.0 776.8M225.6 767.3L227.4 767.4M222.8 779.2L225.4 777.9L227.7 776.5M254.2 753.9L251.8 753.8L248.7 753.4M248.1 752.0L248.7 753.4M249.3 798.1L249.7 800.4L249.9 803.1M250.8 797.2L252.3 796.5M252.1 802.5L249.9 803.1M254.3 808.4L251.6 806.3L249.6 803.8M255.5 811.0L253.9 812.0M247.6 811.0L248.4 807.2L249.1 804.0M249.6 803.8L249.1 804.0M249.9 803.1L249.6 803.8M243.6 801.1L240.6 803.4L237.7 805.4M243.6 801.1L246.4 803.4M246.4 803.4L244.2 806.4L241.9 809.4M237.7 805.4L239.2 807.8L240.1 809.7M243.9 795.9L243.6 801.1M249.1 804.0L246.4 803.4M242.6 795.4L241.1 795.2M238.9 790.7L238.4 792.4M238.4 792.4L239.6 793.3L241.1 795.2M235.7 788.0L232.9 785.2M231.3 791.2L233.9 796.0M238.4 792.4L235.8 795.0L233.9 796.0M172.2 793.8L171.4 795.9M162.4 795.2L165.6 795.5L167.3 796.3M162.4 795.2L162.5 794.7M171.4 795.9L169.8 796.0L167.3 796.3M162.5 774.4L163.4 776.6M162.5 774.4L156.0 775.0M157.9 785.2L156.8 785.5M158.4 797.7L162.4 795.2M158.4 797.7L155.8 795.6M158.3 762.5L161.4 761.9L163.1 762.5M160.9 766.9L163.1 762.5M162.5 774.4L162.7 773.0M160.9 766.9L161.6 769.8L162.7 773.0M162.2 756.0L164.7 757.4M163.1 762.5L164.2 762.3M167.4 752.1L167.1 754.2L166.4 756.8M158.7 808.4L160.5 805.9M157.9 803.6L158.9 803.5M160.5 805.9L158.9 803.5M158.4 797.7L160.1 801.5M160.1 801.5L158.9 803.5M157.4 815.3L160.1 815.4M157.9 821.5L160.9 820.3L162.9 818.9M162.9 818.9L160.1 815.4M158.4 809.9L160.3 811.3M160.1 815.4L160.3 811.3M232.9 784.6L233.9 781.3L234.9 778.0M235.2 755.7L239.2 753.8M239.2 753.8L241.3 755.2L243.3 757.6M240.7 764.2L241.9 762.4L242.7 760.2L243.3 757.6M243.3 750.2L243.9 753.5L244.9 756.7M240.8 751.1L239.2 753.8M243.3 757.6L244.9 756.7M248.7 753.4L247.2 754.9L245.9 757.0M244.9 756.7L245.9 757.0M232.8 754.7L232.5 752.9M254.7 819.8L254.0 819.2M226.9 805.7L226.7 806.9M215.9 806.2L215.9 808.5M215.9 808.5L219.1 810.7L222.2 811.7M222.2 811.7L225.0 810.3M226.7 806.9L225.0 810.3M242.1 826.3L242.0 827.7M231.9 806.1L233.7 805.9L235.8 805.1M231.9 806.1L230.4 803.2M235.8 805.1L234.2 802.3L233.8 799.9M231.8 798.9L233.3 799.3M233.3 799.3L233.8 799.9M237.7 805.4L235.8 805.1M241.1 795.2L238.0 797.4L235.5 799.2L233.8 799.9M233.9 796.0L233.3 799.3M171.0 775.7L170.3 773.0L169.8 771.4L168.9 770.3M174.0 778.7L174.7 776.4L175.6 774.1L176.8 771.7L178.2 769.3L179.4 766.8M181.3 761.5L181.4 761.3M168.9 770.3L168.9 769.8M181.4 761.3L181.4 761.3M162.7 773.0L164.9 772.5L166.3 772.3L167.3 771.6L168.9 770.3M175.2 784.0L177.6 784.2M181.4 761.5L181.4 761.3M181.4 761.5L181.4 761.6M173.2 750.7L173.1 753.8L173.6 757.0M181.4 761.5L181.9 758.4L182.0 756.2L180.8 754.1L179.0 751.6M172.7 820.5L172.5 821.7M172.7 820.5L169.1 817.7M172.5 821.7L169.0 823.6L165.7 826.1L163.1 828.0M169.1 817.7L166.0 819.5L164.2 821.3M164.2 821.3L163.3 824.4L162.2 827.7M174.4 824.7L172.5 821.7M158.2 823.3L161.1 825.0L162.1 827.7M162.9 818.9L163.5 819.1M163.5 819.1L164.2 821.3M216.0 774.2L218.4 773.2M216.0 774.2L212.6 772.0M225.6 767.3L222.8 766.9L218.3 766.8M218.3 766.8L213.4 768.6M212.6 772.0L213.4 768.6M216.0 774.2L215.2 776.1L214.6 777.8M214.6 777.8L215.4 778.3M245.0 765.3L246.4 762.1L248.0 758.9M252.6 763.0L253.1 762.1M253.1 762.1L251.3 759.7L250.1 758.0M250.1 758.0L248.0 758.9M255.7 767.8L253.6 767.5M245.9 757.0L248.0 758.9M253.9 756.1L250.1 758.0M226.3 753.4L225.6 750.8M224.5 822.6L227.9 822.6L232.2 820.4M224.5 822.6L223.8 817.6M223.8 817.6L224.3 816.2M224.3 816.2L226.8 815.1L230.8 813.3M234.1 824.5L234.8 822.0M225.2 828.7L223.0 824.7M223.0 824.7L224.5 822.6M226.7 806.9L227.2 807.6L228.0 809.3L230.3 811.3M225.0 810.3L224.8 812.6L224.3 816.2M231.9 806.1L233.4 810.0M223.0 824.7L219.8 821.2M219.8 821.2L219.6 824.8M181.2 797.3L178.2 800.0L175.1 802.6M171.4 795.9L171.6 799.2L173.0 802.3M175.1 802.6L173.0 802.3M163.5 819.1L164.4 816.9L165.3 814.4M160.3 811.3L162.6 810.0M162.6 810.0L165.3 814.4M169.1 817.7L169.0 815.0L169.1 812.9M165.3 814.4L169.1 812.9M178.7 806.7L178.8 808.8M178.7 806.7L175.7 807.7M178.8 808.8L177.8 811.8L177.0 814.6M175.7 807.7L174.9 808.3M174.9 808.3L173.4 810.3L171.8 812.0M171.8 812.0L173.7 812.9L175.4 814.8M175.4 814.8L177.0 814.6M181.3 802.2L178.7 806.7M175.1 802.6L175.7 805.4L175.7 807.7M182.3 817.2L179.4 816.8L177.0 814.6M182.3 817.2L185.0 813.9L187.5 811.2M187.5 811.2L187.4 811.1M187.4 811.1L184.0 811.1L180.9 810.1L178.8 808.8M176.6 821.4L175.8 818.3L175.4 814.8M176.6 821.4L172.7 820.5M169.1 812.9L169.6 812.6M169.6 812.6L171.8 812.0M177.2 822.3L178.9 822.4L181.8 820.2M177.2 822.3L177.6 824.8L177.5 827.3M180.3 827.7L182.4 824.1L184.9 820.2M181.8 820.2L184.9 820.2M176.6 821.4L177.2 822.3M182.3 817.2L181.8 820.2M185.5 820.0L190.3 822.4M185.5 820.0L184.9 820.2M190.3 822.4L190.7 825.8M185.5 820.0L188.2 817.3L190.2 815.4L191.2 814.3M191.2 814.3L189.9 811.8L187.5 811.2M194.4 826.4L194.6 823.4M198.4 825.8L197.5 822.7M197.5 822.7L194.6 823.4M190.3 822.4L193.3 822.6L194.4 823.1M194.6 823.4L194.4 823.1M185.7 807.8L187.6 810.7M186.9 805.5L191.1 806.7M187.6 810.7L189.9 809.3L191.5 808.2M191.1 806.7L191.5 808.2M187.4 811.1L187.6 810.7M186.0 801.4L188.6 802.4L192.4 801.7M193.9 803.6L192.4 801.7M193.9 803.6L191.1 806.7M192.4 801.7L193.7 799.0L195.3 796.1M187.0 795.8L189.6 796.5L194.9 795.9M195.3 796.1L194.9 795.9M189.5 790.1L191.5 789.0L194.6 787.9M194.9 795.9L194.5 791.9L194.6 787.9M214.6 777.8L211.5 777.2L208.3 775.5M212.6 772.0L210.7 769.6L210.0 767.0M208.3 775.5L208.9 771.1L209.8 767.3M210.0 767.0L209.8 767.3M183.6 753.0L184.2 751.4M190.3 754.0L190.4 751.9M194.5 764.9L194.7 765.5M194.7 765.5L196.1 764.8L197.7 762.7M196.2 760.0L198.5 759.1M197.7 762.7L198.5 759.1M195.6 754.5L196.9 753.8M196.9 753.8L198.8 755.6L199.4 757.0M198.5 759.1L199.4 757.0M208.4 755.3L206.7 751.5M208.4 755.3L210.8 757.5M210.8 757.5L212.6 756.5L215.2 754.4M215.2 754.4L215.0 752.3M204.0 756.6L200.2 756.0M204.0 756.6L206.4 755.7L208.4 755.3M200.2 756.0L201.5 753.0L202.7 750.6M196.9 753.8L197.0 751.7M199.4 757.0L200.2 756.0M218.2 762.0L214.8 760.6M218.2 762.0L222.3 760.5L225.5 759.5L227.4 759.2M214.8 760.6L217.3 757.3L219.8 754.2M227.4 759.2L225.1 756.8L222.6 754.8L220.4 753.8M220.4 753.8L219.8 754.2M218.3 766.8L218.2 762.0M213.4 768.6L211.5 764.8M213.5 761.2L211.5 764.8M213.5 761.2L214.8 760.6M227.5 759.3L227.4 759.2M211.2 758.4L212.7 760.1L213.5 761.2M211.2 758.4L210.8 757.5M215.2 754.4L219.8 754.2M222.6 750.5L220.4 753.8M212.3 826.7L212.2 825.5M206.9 827.2L208.6 824.3M212.2 825.5L210.6 825.7L208.6 824.3M166.3 799.0L168.0 802.5M166.3 799.0L163.7 800.4M168.0 802.5L169.0 806.7M163.7 800.4L163.2 802.6L162.9 805.3M169.0 806.7L166.0 807.6M166.0 807.6L162.9 805.6M162.9 805.3L162.9 805.6M167.3 796.3L166.3 799.0M173.0 802.3L170.5 802.9L168.0 802.5M160.1 801.5L162.2 800.7L163.7 800.4M174.9 808.3L172.1 808.2L169.0 806.7M160.5 805.9L161.8 805.1L162.9 805.3M169.6 812.6L168.0 810.8L166.0 807.6M162.6 810.0L162.9 805.6M191.8 815.7L191.8 812.8L192.5 809.9M191.8 815.7L192.5 817.8M192.5 817.8L194.2 818.0L198.5 816.4M198.5 816.4L198.1 814.0L197.8 811.0M192.5 809.9L196.3 809.8M196.3 809.8L197.8 811.0M191.2 814.3L191.8 815.7M191.5 808.2L192.5 809.9M194.4 823.1L193.5 820.8L192.5 817.8M193.9 803.6L197.4 803.2M197.4 803.2L196.6 806.3L196.3 809.8M197.4 803.2L201.2 800.3M204.9 809.6L205.6 806.3M204.9 809.6L197.8 811.0M201.2 800.3L202.6 803.7L205.6 806.3M201.2 800.3L201.7 798.7M208.8 804.2L205.6 806.3M208.8 804.2L207.1 802.9L205.0 801.0L203.5 798.7M201.7 798.7L202.5 798.9L203.5 798.7M195.3 796.1L200.9 795.0M201.7 798.7L201.7 796.5L200.9 795.0M209.8 803.9L208.8 804.2M209.8 803.9L211.9 802.2L214.5 801.2M211.4 796.1L207.0 796.9L203.9 797.4M203.9 797.4L203.5 798.7M198.3 779.5L199.8 778.5L201.7 776.8M198.3 779.5L196.0 778.5L193.2 776.1M201.7 776.8L200.9 775.3L198.9 773.7M192.9 773.6L195.1 774.3L197.8 773.7M197.8 773.7L198.7 773.7M198.7 773.7L198.9 773.7M208.3 775.5L205.2 777.8M205.2 777.8L201.7 776.8M209.8 767.3L207.5 768.1L203.4 771.2L198.9 773.7M194.7 765.5L195.2 770.1L197.8 773.7M201.6 764.8L197.7 762.7M201.6 764.8L200.6 768.0L199.6 771.1L198.7 773.7M192.3 782.8L194.7 782.6M194.6 787.9L196.0 786.6M196.0 786.6L195.2 784.3L194.7 782.6M198.3 779.5L198.2 780.1M194.7 782.6L196.7 781.0L198.2 780.1M203.1 793.2L202.8 792.2M203.1 793.2L204.2 792.2L206.6 790.3L210.0 787.9M202.8 792.2L200.9 787.8M211.1 785.7L208.2 785.9L205.2 785.1M205.2 785.1L202.5 786.1L201.0 786.1M200.9 787.8L201.0 786.1M200.9 795.0L202.5 793.1L202.8 792.2M203.9 797.4L203.2 795.2L203.1 793.2M196.0 786.6L198.9 786.6L200.9 787.8M205.2 777.8L205.1 781.7L205.2 785.1M198.2 780.1L199.4 782.3L201.0 786.1M206.2 761.0L204.3 763.5M206.2 761.0L210.9 761.1M204.3 763.5L207.6 764.3L209.5 765.0L210.0 766.7M210.9 761.1L211.3 763.5M210.0 766.7L210.9 764.9L211.3 763.5M204.0 756.6L206.2 761.0M201.6 764.8L204.3 763.5M211.2 758.4L211.0 759.9L210.9 761.1M210.0 767.0L210.0 766.7M211.5 764.8L211.3 763.5M219.8 821.2L217.9 818.7M212.2 825.5L213.8 822.5L215.6 819.6M217.9 818.7L215.6 819.6M223.8 817.6L222.7 816.3L221.2 815.5M217.9 818.7L219.5 816.9L221.2 815.5M222.2 811.7L219.6 814.0M221.2 815.5L219.6 814.0M209.8 803.9L210.0 805.3L209.7 807.3M204.9 809.6L207.4 810.2L208.6 810.8M208.6 810.8L209.2 809.0L209.7 807.3M215.9 808.5L213.2 809.5L211.1 810.7M209.7 807.3L211.1 810.7M219.6 814.0L215.8 814.5L212.2 814.5M211.1 810.7L212.2 814.5M215.6 819.6L213.6 818.9L211.1 817.0M212.2 814.5L211.1 817.0M208.1 823.3L208.9 821.3L209.3 819.2L209.5 816.8M208.1 823.3L205.5 820.7L202.5 819.2M203.2 816.4L202.5 819.2M203.2 816.4L206.5 814.1L208.4 812.3M208.4 812.3L208.7 814.2L209.5 816.8M208.6 824.3L208.1 823.3M211.1 817.0L209.5 816.8M197.5 822.7L202.5 819.2M198.5 816.4L203.2 816.4M208.6 810.8L208.4 812.3M167.0 770.3L169.5 769.6L172.5 768.1L175.3 767.4L178.6 766.8L180.6 766.9L180.9 763.5L181.5 760.5L182.0 758.1L181.9 756.0L180.2 756.4L176.8 756.8L172.5 757.0L168.7 757.0L166.4 756.8L165.5 756.5L164.6 756.3L164.7 757.8L164.5 759.5L164.2 761.7L164.3 765.0L165.3 768.3L167.0 770.3M242.0 782.0L245.5 782.1L247.9 781.9L249.4 781.5L250.9 781.4L251.9 778.4L252.9 775.7L253.7 773.4L254.0 771.1L253.9 768.9L253.4 766.5L252.8 764.0L252.3 761.4L247.2 764.0L245.3 765.1L244.1 765.5L242.4 764.9L239.4 763.8L235.3 763.0L234.8 760.4L234.8 758.0L235.2 755.9L235.4 754.2L231.9 754.8L228.9 754.6L226.9 753.8L225.5 752.7L226.2 755.4L227.1 758.0L227.9 760.4L228.3 762.6L228.1 764.7L227.5 767.0L226.7 769.6L226.0 772.7L227.3 776.0L229.7 778.4L232.0 779.5L234.2 778.5L235.1 778.0L236.1 779.0L238.4 780.7L242.0 782.0M179.6 795.5L181.1 797.2L181.7 798.9L181.4 801.4L181.2 804.9L184.0 808.4L187.7 807.4L186.8 805.3L186.2 803.0L186.0 800.4L186.4 797.7L187.1 795.5L188.1 793.3L189.1 790.9L190.0 788.5L191.2 785.7L192.2 783.0L193.0 780.5L193.6 778.3L193.2 776.0L192.9 773.4L192.9 770.7L193.3 768.2L194.1 765.9L194.9 764.0L195.6 762.3L196.1 760.7L196.2 759.0L196.0 756.9L195.6 754.5L192.0 754.3L188.3 753.7L185.3 753.1L183.4 753.0L182.8 754.9L182.2 757.0L181.8 759.2L181.4 761.8L181.1 764.5L180.8 767.2L180.6 770.4L180.4 773.3L180.0 775.9L179.5 778.0L178.8 779.8L178.4 781.5L177.9 783.2L177.4 785.3L177.4 787.7L177.8 790.4L178.6 793.1L179.6 795.5M174.4 792.5L174.4 789.2L174.7 786.5L175.2 784.1L175.4 782.0L175.4 779.8L173.0 777.8L171.0 775.7L169.6 774.5L168.4 775.4L167.1 776.1L165.1 776.5L162.3 776.7L159.0 776.9L158.9 779.8L158.7 782.2L158.1 784.4L157.4 786.5L156.7 788.9L156.3 791.6L156.4 794.5L159.0 795.0L163.1 794.6L167.3 793.9L170.0 793.8L171.7 793.8L172.6 793.5L174.4 792.5M250.6 782.9L248.8 782.9L247.6 782.8L245.4 783.0L241.9 783.4L242.6 785.0L242.9 786.4L242.8 788.1L242.6 790.3L242.5 793.0L242.7 796.1L246.1 796.1L248.4 797.2L249.6 798.4L250.8 798.5L250.8 796.9L250.6 795.1L250.3 792.9L250.0 790.0L250.0 786.5L250.6 782.9M217.4 808.1L221.2 808.4L224.5 807.4L226.8 805.8L228.2 804.6L229.5 804.7L230.5 803.1L231.6 801.9L232.6 800.9L231.9 799.0L230.4 797.0L227.9 794.8L225.2 792.8L227.8 791.7L230.3 791.3L232.3 791.1L233.9 790.2L233.1 787.0L232.9 784.1L232.8 782.1L232.1 781.0L228.2 781.2L223.6 779.7L220.3 776.9L218.6 776.5L217.6 776.8L216.6 777.6L214.9 778.5L212.4 779.0L212.5 781.0L212.2 782.9L211.5 784.8L210.5 786.8L209.5 789.0L209.8 791.6L210.7 794.5L211.9 797.1L212.8 799.3L214.2 800.6L214.7 802.5L215.5 805.2L217.4 808.1M254.7 812.0L251.1 811.6L246.9 810.8L243.8 809.9L242.1 809.5L240.5 809.5L238.4 810.2L235.9 810.3L233.0 810.0L230.1 809.8L230.6 812.6L231.3 815.3L231.9 817.5L232.2 819.6L232.0 821.5L231.5 823.7L234.5 822.1L236.8 822.3L238.5 824.1L239.8 825.9L241.7 826.4L244.2 825.4L247.3 823.7L250.3 822.9L252.7 823.7L253.5 820.6L254.4 818.0L255.1 815.8L255.2 813.9L254.7 812.0" stroke="#d846c4" stroke-width="1.7"/></g><path d="M240.0 762.9h0" stroke="#d846c4" stroke-width="2.0" stroke-linecap="round"/><path d="M164.3 808.5h0M236.3 806.8h0M229.9 793.3h0M166.9 771.6h0M174.4 775.2h0M207.0 805.6h0M180.5 798.3h0M224.1 776.8h0M208.9 770.4h0M170.6 772.7h0M208.0 821.6h0M226.3 812.0h0M201.2 793.6h0M211.2 776.2h0M179.8 807.3h0M162.4 813.9h0" stroke="#d846c4" stroke-width="3.0" stroke-linecap="round"/><path d="M178.4 822.0h0M164.9 767.8h0M178.6 823.7h0M166.5 802.0h0M170.5 806.4h0M204.3 785.8h0" stroke="#d846c4" stroke-width="4.0" stroke-linecap="round"/><path d="M179.9 770.8h0M207.3 808.4h0" stroke="#d846c4" stroke-width="5.0" stroke-linecap="round"/><path d="M166.0 806.3h0M194.9 803.9h0M189.9 822.4h0M242.8 802.0h0M226.2 821.8h0M193.9 791.0h0M217.2 758.2h0M166.4 755.1h0M212.9 825.5h0M162.3 818.5h0M163.3 820.9h0M179.8 772.5h0M175.0 767.7h0M205.4 769.7h0M221.2 811.9h0M168.0 824.3h0M163.9 795.6h0M198.5 802.3h0M231.3 780.2h0M197.5 763.1h0M232.3 779.9h0M187.1 795.4h0M234.0 822.2h0M212.6 783.2h0M231.1 820.5h0M233.4 753.3h0M182.0 761.0h0M233.0 787.1h0M174.5 814.4h0M171.8 775.6h0M166.3 807.5h0M216.7 806.4h0M203.8 756.8h0M219.4 754.1h0M164.3 767.5h0M175.5 803.1h0M180.2 794.2h0M191.5 809.2h0M208.0 809.3h0M222.8 816.1h0M174.8 775.9h0M202.3 797.9h0M186.4 799.7h0M249.3 799.3h0M197.9 762.8h0M202.6 817.1h0M191.1 787.8h0M161.7 771.0h0M241.9 783.1h0M170.8 793.7h0M175.5 779.3h0M234.4 798.3h0M194.6 803.9h0M216.7 768.4h0M162.4 803.1h0M160.0 815.5h0M244.7 802.3h0M157.7 785.3h0M163.8 760.9h0M221.2 778.4h0M165.9 769.7h0M221.6 777.7h0M202.2 816.9h0M250.6 794.2h0M227.7 792.5h0M246.8 796.9h0M219.4 754.7h0M231.4 797.9h0M191.3 795.8h0M254.9 814.8h0M194.1 765.8h0M181.1 759.0h0M235.0 787.7h0M210.4 760.3h0M226.1 755.7h0M224.5 817.0h0M191.1 815.5h0M193.9 788.4h0M234.3 796.3h0M176.2 821.9h0M194.3 776.0h0M187.5 821.3h0M212.6 760.4h0M181.1 772.9h0M196.7 816.5h0M197.5 817.1h0M230.4 811.5h0M254.4 767.5h0M212.9 768.1h0M164.7 761.8h0M198.7 772.9h0M212.5 801.8h0M244.2 825.0h0M197.6 761.5h0M242.3 826.7h0M179.8 752.0h0M192.1 771.7h0M201.2 772.1h0M222.3 766.5h0M193.3 777.7h0M160.4 761.6h0M207.5 777.1h0M191.4 786.2h0M237.8 794.5h0M232.8 799.6h0M192.7 816.7h0M210.8 765.6h0M180.5 769.8h0M225.1 806.0h0M248.0 781.2h0M172.1 811.8h0M179.6 766.8h0M184.1 821.1h0M213.0 824.2h0M243.4 793.5h0M162.2 816.5h0M171.2 802.2h0M244.8 765.6h0M188.2 809.1h0M159.9 795.0h0M173.4 810.1h0M233.3 783.4h0M165.0 766.6h0M169.7 757.8h0M159.1 794.5h0M232.9 797.7h0M240.9 794.8h0M204.8 820.4h0M237.7 755.0h0M203.6 804.1h0M217.7 772.7h0M224.8 778.6h0M165.2 819.0h0M238.4 780.2h0M233.8 800.5h0M238.0 780.8h0M193.2 769.0h0M203.5 786.5h0M187.4 805.9h0M156.6 786.7h0M237.9 793.6h0M187.0 795.5h0M159.0 801.1h0M241.5 794.8h0M251.0 786.2h0M176.1 783.7h0M244.2 807.3h0M163.2 808.1h0M250.0 798.1h0M166.0 771.5h0M239.3 804.0h0M239.5 783.5h0M211.0 786.1h0M217.8 767.2h0M201.3 790.5h0M178.3 806.4h0M227.3 793.9h0M196.2 796.1h0M221.5 814.8h0M227.1 806.1h0M220.1 755.3h0M250.2 783.1h0M210.5 765.6h0M193.0 775.8h0M207.6 825.8h0M220.4 824.3h0M201.5 793.3h0M239.9 808.9h0M162.8 818.7h0M243.8 754.9h0M228.4 794.9h0M226.3 772.1h0M162.5 826.3h0M200.4 810.0h0M160.0 801.2h0M168.6 815.6h0M166.6 771.0h0M220.8 823.5h0M194.6 768.1h0M235.2 778.6h0M228.7 794.9h0M230.0 781.7h0M165.6 799.2h0M206.6 810.4h0M250.2 762.4h0M164.6 758.1h0M161.8 770.6h0M173.9 754.0h0M170.5 823.7h0M252.3 823.4h0M201.3 797.7h0M224.2 756.2h0M232.7 799.1h0M178.4 780.6h0M228.6 762.8h0M239.1 823.8h0M201.8 819.3h0M234.1 822.2h0M195.2 787.5h0M160.6 753.9h0M187.3 811.5h0M231.4 804.8h0M243.2 801.7h0M225.7 822.5h0M155.9 789.2h0M158.2 774.1h0M184.8 819.6h0M191.1 797.0h0M179.4 779.8h0M192.6 783.2h0M164.5 813.8h0M185.5 798.1h0M236.4 754.9h0M214.6 776.9h0M201.8 799.4h0M160.1 774.3h0M179.1 809.5h0M212.4 802.3h0M201.7 788.0h0M175.1 792.5h0M190.3 801.8h0M254.7 812.4h0M170.9 793.0h0M233.1 822.1h0M198.8 809.9h0M198.9 817.1h0M211.9 757.5h0M178.5 811.8h0M159.5 811.3h0M232.4 810.1h0M204.8 763.4h0M212.6 779.7h0M163.5 807.1h0M223.0 817.7h0M243.7 806.7h0M174.4 788.9h0M194.0 820.4h0M173.8 791.0h0M170.7 757.6h0M187.4 811.2h0M220.5 822.9h0M226.7 794.7h0M201.2 810.2h0M238.2 789.0h0M209.9 815.9h0M254.8 811.2h0M159.4 804.6h0M193.1 821.9h0M210.2 764.9h0M176.4 814.8h0M230.6 778.8h0M239.0 793.5h0M199.7 816.8h0M157.5 796.5h0M219.7 818.0h0M222.2 767.6h0M195.5 759.5h0M194.9 779.1h0M217.9 807.7h0M232.3 792.0h0M187.7 794.2h0M193.8 798.9h0M171.1 793.9h0M225.3 752.3h0M215.5 775.8h0M158.1 779.4h0M216.5 808.7h0M186.9 810.4h0M217.1 762.6h0M192.9 783.5h0M212.4 759.9h0M191.7 785.5h0M208.6 814.8h0M158.9 775.2h0M217.5 763.1h0M233.2 807.3h0M245.1 765.0h0M183.7 807.0h0M181.4 803.6h0M238.5 785.1h0M214.5 800.3h0M212.8 819.2h0M166.7 826.5h0M184.1 807.2h0M186.4 802.6h0M247.1 809.3h0M248.9 798.9h0M254.1 767.3h0M162.9 796.0h0M242.3 764.9h0M198.8 780.2h0M241.3 782.3h0M169.5 794.0h0M201.1 796.7h0M180.2 764.4h0M227.6 823.2h0M247.0 757.3h0M181.3 762.8h0M218.4 763.4h0M244.5 765.2h0M253.9 754.0h0" stroke="#552596" stroke-width="1.3" stroke-linecap="round"/><path d="M210.1 818.4h0M176.7 771.3h0M242.3 786.6h0M163.9 826.9h0M239.8 807.8h0M209.5 755.9h0M174.2 814.3h0M159.2 800.1h0M251.0 779.5h0M158.1 797.2h0M223.4 779.9h0M249.7 799.9h0M212.6 817.0h0M245.1 766.0h0M193.7 788.5h0M225.8 822.4h0M241.7 782.3h0M161.8 754.8h0M194.9 787.7h0M211.5 782.1h0M181.2 799.8h0M229.7 796.5h0M221.4 753.1h0M206.0 800.6h0M252.8 757.1h0M195.3 809.8h0M201.4 800.3h0M192.3 802.8h0M201.3 816.6h0M194.8 766.2h0M207.7 763.2h0M195.5 773.9h0M165.7 798.5h0M205.1 814.9h0M204.1 815.1h0M221.0 821.9h0M188.6 753.2h0M178.9 768.5h0M187.9 810.9h0M178.0 766.3h0M187.1 796.0h0M168.5 771.0h0M197.2 759.5h0M212.7 756.5h0M189.4 816.1h0M203.1 770.3h0M172.4 822.7h0M224.0 778.8h0M226.9 793.6h0M211.9 779.4h0M190.8 802.2h0M174.4 792.7h0M229.8 796.0h0M189.1 790.9h0M216.4 767.2h0M169.6 794.4h0M174.1 824.7h0M182.1 761.2h0M157.3 775.6h0M158.9 774.8h0M182.0 757.3h0M158.0 796.8h0M182.5 758.6h0M223.9 813.8h0M192.5 814.1h0M192.4 768.8h0M185.5 797.9h0M208.0 768.5h0M165.6 820.3h0M241.0 802.8h0M255.1 814.9h0M250.2 799.8h0M211.2 760.9h0M251.9 779.8h0M203.4 796.9h0M209.1 765.8h0M211.0 769.6h0M165.3 769.8h0M247.8 810.8h0M250.9 811.2h0M246.9 763.6h0M253.1 822.3h0M189.2 802.5h0M234.6 801.1h0M223.6 756.0h0M213.6 801.0h0M197.2 804.3h0M163.0 811.0h0M236.0 787.3h0M191.6 783.4h0M198.2 815.7h0M238.5 789.9h0M167.2 796.2h0M236.4 822.5h0M178.3 806.4h0M208.2 811.2h0M194.6 777.6h0M234.0 790.3h0M235.6 809.3h0M223.3 817.0h0M173.1 754.3h0M232.5 807.5h0M213.5 768.0h0M235.3 757.5h0M201.6 790.8h0M193.3 805.3h0M232.7 795.0h0M187.1 805.0h0M175.0 813.5h0M183.0 806.1h0M181.0 756.5h0M162.6 774.1h0M212.5 763.6h0M248.3 808.6h0M187.9 804.9h0M168.0 812.0h0M176.7 821.4h0M215.7 805.5h0M196.6 817.3h0M195.2 767.2h0M157.7 774.3h0M169.7 775.4h0M159.8 802.1h0M209.8 768.0h0M203.4 798.6h0M202.8 816.2h0M172.5 799.5h0M194.0 776.1h0M163.1 827.6h0M175.7 819.7h0M166.2 798.7h0M194.7 789.2h0M249.0 752.9h0M249.7 763.4h0M209.8 824.9h0M171.6 798.9h0M157.3 785.0h0M220.3 816.7h0M194.8 797.1h0M168.7 812.5h0M191.1 824.2h0M172.5 808.9h0M215.5 801.8h0M225.7 807.8h0M224.5 760.2h0M188.7 791.0h0M238.5 792.4h0M250.5 801.6h0M202.3 791.5h0M215.3 776.4h0M207.5 822.1h0M190.3 788.0h0M235.5 762.7h0M202.4 788.9h0M158.7 761.7h0M198.5 824.3h0M242.0 793.7h0M206.7 789.2h0M193.0 818.3h0M208.3 823.2h0M162.7 802.9h0M243.6 800.3h0M194.5 826.0h0M175.1 773.1h0M203.8 797.2h0M209.4 766.9h0M232.0 822.0h0M236.1 805.5h0M218.3 817.8h0M205.9 763.9h0M232.5 782.5h0M247.5 803.8h0M164.3 764.6h0M158.8 821.2h0M204.7 769.3h0M194.0 783.2h0M171.4 775.5h0M161.0 819.2h0M179.0 757.0h0M208.2 814.9h0M176.5 819.0h0M161.0 823.7h0M201.8 809.9h0M166.8 772.8h0M241.5 808.5h0M180.8 771.0h0M252.0 778.0h0M160.6 756.8h0M172.9 801.8h0M176.9 766.4h0M202.0 809.3h0M178.7 792.3h0M239.5 825.8h0M223.1 815.3h0M166.0 770.0h0M235.4 759.3h0M198.9 800.9h0M175.1 806.9h0M226.8 780.9h0M173.3 820.6h0M212.2 779.3h0M197.4 811.7h0M237.1 822.5h0M236.4 794.0h0M242.8 795.3h0M174.2 768.2h0M236.0 810.1h0M197.3 774.2h0M167.5 803.2h0M250.2 784.5h0M170.3 818.8h0M161.2 754.2h0M159.1 783.3h0M158.5 779.0h0M217.8 763.2h0M229.0 795.0h0M248.4 804.8h0M162.5 803.0h0M178.8 781.2h0M203.9 801.2h0M221.4 812.0h0M165.0 806.7h0M174.3 814.9h0M244.1 795.5h0M218.4 820.2h0M211.4 782.2h0M231.1 821.6h0M172.7 754.0h0M207.6 822.7h0M162.5 794.0h0M179.7 799.9h0M229.9 811.1h0M235.0 809.3h0M235.6 800.0h0M229.2 755.3h0M197.5 824.4h0M242.2 793.5h0M220.9 769.9h0M242.9 755.4h0M234.7 756.6h0M204.9 758.9h0M176.6 786.5h0M244.2 750.8h0M214.3 802.3h0M252.3 822.8h0M212.2 763.7h0M180.9 756.3h0M198.0 812.7h0M192.3 801.1h0M174.6 784.8h0M158.3 803.0h0M170.7 796.6h0M194.7 823.2h0M178.3 791.8h0M169.3 807.4h0M211.8 758.1h0M174.8 784.8h0M206.2 810.2h0M201.2 797.9h0M202.4 810.7h0M230.7 813.1h0M180.9 827.1h0M250.9 758.9h0M238.2 786.9h0M254.6 814.4h0M252.1 776.5h0M168.4 805.4h0M173.7 810.6h0M205.6 809.3h0M225.8 758.3h0M214.7 753.8h0M180.5 797.8h0M161.7 825.0h0M251.8 759.5h0M200.9 820.5h0" stroke="#552596" stroke-width="1.8" stroke-linecap="round"/></g><text x="162.3" y="817.9" font-size="5.6" fill="#111">50 μm</text><line x1="162.1" y1="819.8" x2="173.1" y2="819.8" stroke="#111" stroke-width="1"/><rect x="160.7" y="755.1" width="89.4" height="67.7" fill="none" stroke="#2a2a2a" stroke-width="1.3"/>
<circle cx="306.90" cy="628.70" r="3.6" fill="#7b9fd8"/>
<circle cx="306.90" cy="651.40" r="3.6" fill="#ff0000"/>
<text x="326.20" y="633.00" font-size="13.2" textLength="74.8" lengthAdjust="spacingAndGlyphs">Control mice</text>
<text x="326.20" y="655.30" font-size="13.2" textLength="61.7" lengthAdjust="spacingAndGlyphs">NAT10-OE</text>
<line x1="307.40" y1="683.60" x2="307.40" y2="815.20" stroke="#000" stroke-width="2.2" stroke-linecap="butt"/>
<line x1="299.80" y1="814.40" x2="436.00" y2="814.40" stroke="#000" stroke-width="2.2" stroke-linecap="butt"/>
<line x1="299.80" y1="788.32" x2="307.40" y2="788.32" stroke="#000" stroke-width="2.2" stroke-linecap="butt"/>
<line x1="299.80" y1="762.24" x2="307.40" y2="762.24" stroke="#000" stroke-width="2.2" stroke-linecap="butt"/>
<line x1="299.80" y1="736.16" x2="307.40" y2="736.16" stroke="#000" stroke-width="2.2" stroke-linecap="butt"/>
<line x1="299.80" y1="710.08" x2="307.40" y2="710.08" stroke="#000" stroke-width="2.2" stroke-linecap="butt"/>
<line x1="299.80" y1="684.00" x2="307.40" y2="684.00" stroke="#000" stroke-width="2.2" stroke-linecap="butt"/>
<text x="297.80" y="818.70" font-size="12.1" font-weight="bold" text-anchor="end" fill="#000">0</text>
<text x="297.80" y="792.62" font-size="12.1" font-weight="bold" text-anchor="end" fill="#000">1</text>
<text x="297.80" y="766.54" font-size="12.1" font-weight="bold" text-anchor="end" fill="#000">2</text>
<text x="297.80" y="740.46" font-size="12.1" font-weight="bold" text-anchor="end" fill="#000">3</text>
<text x="297.80" y="714.38" font-size="12.1" font-weight="bold" text-anchor="end" fill="#000">4</text>
<text x="297.80" y="688.30" font-size="12.1" font-weight="bold" text-anchor="end" fill="#000">5</text>
<text x="283.20" y="749.40" font-size="11.0" font-weight="bold" text-anchor="middle" fill="#111" textLength="100.2" lengthAdjust="spacingAndGlyphs" transform="rotate(-90 283.20 749.40)">Lung injury score</text>
<line x1="324.80" y1="814.40" x2="324.80" y2="821.80" stroke="#000" stroke-width="2.2" stroke-linecap="butt"/>
<line x1="351.00" y1="814.40" x2="351.00" y2="821.80" stroke="#000" stroke-width="2.2" stroke-linecap="butt"/>
<line x1="394.80" y1="814.40" x2="394.80" y2="821.80" stroke="#000" stroke-width="2.2" stroke-linecap="butt"/>
<line x1="420.50" y1="814.40" x2="420.50" y2="821.80" stroke="#000" stroke-width="2.2" stroke-linecap="butt"/>
<text x="324.50" y="832.60" font-size="10.4" font-weight="bold" text-anchor="middle" fill="#111" textLength="27.4" lengthAdjust="spacingAndGlyphs">Sham</text>
<text x="351.00" y="832.60" font-size="10.4" font-weight="bold" text-anchor="middle" fill="#111" textLength="20.2" lengthAdjust="spacingAndGlyphs">CLP</text>
<text x="394.10" y="832.60" font-size="10.4" font-weight="bold" text-anchor="middle" fill="#111" textLength="27.4" lengthAdjust="spacingAndGlyphs">Sham</text>
<text x="420.20" y="832.60" font-size="10.4" font-weight="bold" text-anchor="middle" fill="#111" textLength="19.7" lengthAdjust="spacingAndGlyphs">CLP</text>
<path d="M317.48 814.40V812.18H332.22V814.40" fill="#fff" stroke="#214f98" stroke-width="1.95"/>
<path d="M324.80 800.00V814.40M321.00 800.00H328.60M321.00 814.40H328.60" stroke="#214f98" stroke-width="1.6" fill="none"/>
<path d="M344.18 814.40V716.27H358.52V814.40" fill="#fff" stroke="#214f98" stroke-width="1.95"/>
<path d="M351.30 704.20V725.80M347.50 704.20H355.10M347.50 725.80H355.10" stroke="#214f98" stroke-width="1.6" fill="none"/>
<path d="M387.48 814.40V807.38H402.02V814.40" fill="#fff" stroke="#ff0000" stroke-width="1.95"/>
<path d="M394.80 788.90V814.40M391.00 788.90H398.60M391.00 814.40H398.60" stroke="#ff0000" stroke-width="1.6" fill="none"/>
<path d="M413.68 814.40V751.38H427.42V814.40" fill="#fff" stroke="#ff0000" stroke-width="1.95"/>
<path d="M420.50 736.20V764.00M416.70 736.20H424.30M416.70 764.00H424.30" stroke="#ff0000" stroke-width="1.6" fill="none"/>
<circle cx="324.60" cy="788.90" r="3.7" fill="#7b9fd8"/>
<circle cx="318.50" cy="813.50" r="3.7" fill="#7b9fd8"/>
<circle cx="322.30" cy="813.50" r="3.7" fill="#7b9fd8"/>
<circle cx="326.30" cy="813.50" r="3.7" fill="#7b9fd8"/>
<circle cx="330.50" cy="813.50" r="3.7" fill="#7b9fd8"/>
<circle cx="324.50" cy="812.50" r="3.7" fill="#7b9fd8"/>
<circle cx="346.20" cy="710.20" r="3.7" fill="#7b9fd8"/>
<circle cx="350.20" cy="709.80" r="3.7" fill="#7b9fd8"/>
<circle cx="354.20" cy="710.20" r="3.7" fill="#7b9fd8"/>
<circle cx="357.00" cy="710.20" r="3.7" fill="#7b9fd8"/>
<circle cx="350.70" cy="736.40" r="3.7" fill="#7b9fd8"/>
<circle cx="348.00" cy="711.00" r="3.7" fill="#7b9fd8"/>
<circle cx="391.60" cy="788.90" r="3.7" fill="#ff0000"/>
<circle cx="396.60" cy="788.90" r="3.7" fill="#ff0000"/>
<circle cx="390.00" cy="813.50" r="3.7" fill="#ff0000"/>
<circle cx="394.00" cy="813.50" r="3.7" fill="#ff0000"/>
<circle cx="398.00" cy="813.50" r="3.7" fill="#ff0000"/>
<circle cx="401.00" cy="813.50" r="3.7" fill="#ff0000"/>
<circle cx="416.40" cy="736.40" r="3.7" fill="#ff0000"/>
<circle cx="420.90" cy="736.40" r="3.7" fill="#ff0000"/>
<circle cx="425.90" cy="736.40" r="3.7" fill="#ff0000"/>
<circle cx="415.20" cy="762.80" r="3.7" fill="#ff0000"/>
<circle cx="420.20" cy="762.80" r="3.7" fill="#ff0000"/>
<circle cx="425.90" cy="762.80" r="3.7" fill="#ff0000"/>
<circle cx="487.60" cy="633.10" r="3.6" fill="#7b9fd8"/>
<circle cx="487.60" cy="655.40" r="3.6" fill="#ff0000"/>
<text x="506.90" y="637.20" font-size="13.2" textLength="75.3" lengthAdjust="spacingAndGlyphs">Control mice</text>
<text x="506.90" y="659.40" font-size="13.2" textLength="62.7" lengthAdjust="spacingAndGlyphs">NAT10-OE</text>
<line x1="488.20" y1="683.40" x2="488.20" y2="815.30" stroke="#000" stroke-width="2.2" stroke-linecap="butt"/>
<line x1="481.20" y1="814.50" x2="619.30" y2="814.50" stroke="#000" stroke-width="2.2" stroke-linecap="butt"/>
<line x1="481.20" y1="781.90" x2="488.20" y2="781.90" stroke="#000" stroke-width="2.2" stroke-linecap="butt"/>
<line x1="481.20" y1="749.30" x2="488.20" y2="749.30" stroke="#000" stroke-width="2.2" stroke-linecap="butt"/>
<line x1="481.20" y1="716.70" x2="488.20" y2="716.70" stroke="#000" stroke-width="2.2" stroke-linecap="butt"/>
<line x1="481.20" y1="684.10" x2="488.20" y2="684.10" stroke="#000" stroke-width="2.2" stroke-linecap="butt"/>
<text x="478.80" y="818.80" font-size="12.1" font-weight="bold" text-anchor="end" fill="#000">0</text>
<text x="478.80" y="786.20" font-size="12.1" font-weight="bold" text-anchor="end" fill="#000">2</text>
<text x="478.80" y="753.60" font-size="12.1" font-weight="bold" text-anchor="end" fill="#000">4</text>
<text x="478.80" y="721.00" font-size="12.1" font-weight="bold" text-anchor="end" fill="#000">6</text>
<text x="478.80" y="688.40" font-size="12.1" font-weight="bold" text-anchor="end" fill="#000">8</text>
<text x="465.00" y="749.40" font-size="10.0" font-weight="bold" text-anchor="middle" fill="#111" textLength="101.9" lengthAdjust="spacingAndGlyphs" transform="rotate(-90 465.00 749.40)">Lung Wet/Dry Ratio</text>
<line x1="505.50" y1="814.50" x2="505.50" y2="821.90" stroke="#000" stroke-width="2.2" stroke-linecap="butt"/>
<line x1="531.60" y1="814.50" x2="531.60" y2="821.90" stroke="#000" stroke-width="2.2" stroke-linecap="butt"/>
<line x1="575.40" y1="814.50" x2="575.40" y2="821.90" stroke="#000" stroke-width="2.2" stroke-linecap="butt"/>
<line x1="601.90" y1="814.50" x2="601.90" y2="821.90" stroke="#000" stroke-width="2.2" stroke-linecap="butt"/>
<text x="505.50" y="832.60" font-size="10.4" font-weight="bold" text-anchor="middle" fill="#111" textLength="27.3" lengthAdjust="spacingAndGlyphs">Sham</text>
<text x="530.80" y="832.60" font-size="10.4" font-weight="bold" text-anchor="middle" fill="#111" textLength="19.9" lengthAdjust="spacingAndGlyphs">CLP</text>
<text x="575.50" y="832.60" font-size="10.4" font-weight="bold" text-anchor="middle" fill="#111" textLength="27.3" lengthAdjust="spacingAndGlyphs">Sham</text>
<text x="601.50" y="832.60" font-size="10.4" font-weight="bold" text-anchor="middle" fill="#111" textLength="19.9" lengthAdjust="spacingAndGlyphs">CLP</text>
<path d="M498.18 814.50V750.98H512.92V814.50" fill="#fff" stroke="#214f98" stroke-width="1.95"/>
<path d="M505.50 746.00V755.00M501.70 746.00H509.30M501.70 755.00H509.30" stroke="#214f98" stroke-width="1.6" fill="none"/>
<path d="M524.27 814.50V724.18H538.92V814.50" fill="#fff" stroke="#214f98" stroke-width="1.95"/>
<path d="M531.60 717.30V729.00M527.80 717.30H535.40M527.80 729.00H535.40" stroke="#214f98" stroke-width="1.6" fill="none"/>
<path d="M568.18 814.50V753.38H582.62V814.50" fill="#fff" stroke="#ff0000" stroke-width="1.95"/>
<path d="M575.40 748.00V757.00M571.60 748.00H579.20M571.60 757.00H579.20" stroke="#ff0000" stroke-width="1.6" fill="none"/>
<path d="M594.48 814.50V740.08H609.23V814.50" fill="#fff" stroke="#ff0000" stroke-width="1.95"/>
<path d="M601.90 736.00V742.00M598.10 736.00H605.70M598.10 742.00H605.70" stroke="#ff0000" stroke-width="1.6" fill="none"/>
<circle cx="500.00" cy="752.00" r="3.6" fill="#7b9fd8"/>
<circle cx="505.00" cy="748.00" r="3.6" fill="#7b9fd8"/>
<circle cx="509.00" cy="752.00" r="3.6" fill="#7b9fd8"/>
<circle cx="503.00" cy="755.00" r="3.6" fill="#7b9fd8"/>
<circle cx="512.00" cy="754.00" r="3.6" fill="#7b9fd8"/>
<circle cx="506.00" cy="744.50" r="3.6" fill="#7b9fd8"/>
<circle cx="531.40" cy="712.00" r="3.6" fill="#7b9fd8"/>
<circle cx="526.20" cy="721.20" r="3.6" fill="#7b9fd8"/>
<circle cx="536.70" cy="725.20" r="3.6" fill="#7b9fd8"/>
<circle cx="528.80" cy="726.50" r="3.6" fill="#7b9fd8"/>
<circle cx="526.20" cy="729.10" r="3.6" fill="#7b9fd8"/>
<circle cx="533.00" cy="724.00" r="3.6" fill="#7b9fd8"/>
<circle cx="578.70" cy="747.50" r="3.6" fill="#ff0000"/>
<circle cx="573.50" cy="751.50" r="3.6" fill="#ff0000"/>
<circle cx="569.50" cy="754.10" r="3.6" fill="#ff0000"/>
<circle cx="580.00" cy="754.10" r="3.6" fill="#ff0000"/>
<circle cx="576.10" cy="756.70" r="3.6" fill="#ff0000"/>
<circle cx="582.50" cy="743.50" r="3.6" fill="#ff0000"/>
<circle cx="598.40" cy="737.00" r="3.6" fill="#ff0000"/>
<circle cx="605.00" cy="737.00" r="3.6" fill="#ff0000"/>
<circle cx="597.10" cy="740.90" r="3.6" fill="#ff0000"/>
<circle cx="607.60" cy="740.90" r="3.6" fill="#ff0000"/>
<circle cx="601.50" cy="738.50" r="3.6" fill="#ff0000"/>
<circle cx="603.00" cy="741.00" r="3.6" fill="#ff0000"/>
<path d="M342.30 108.30V102.60H390.10V108.30M366.00 83.70V78.00H413.60V83.70M342.30 225.10V219.40H370.60V225.10M451.70 124.60V118.90H499.30V124.60M475.20 99.40V93.70H522.80V99.40M451.70 224.00V218.40H479.70V224.00M561.50 120.90V115.20H609.50V120.90M585.40 96.40V90.70H633.00V96.40M561.50 223.00V217.20H589.50V223.00M85.40 443.30V437.50H133.20V443.30M109.30 418.60V412.90H156.50V418.60M85.40 541.80V536.00H113.60V541.80M195.30 434.40V428.40H242.80V434.40M218.30 409.80V403.90H265.80V409.80M195.30 550.40V545.00H222.60V550.40M302.60 449.50V443.80H349.50V449.50M328.70 425.80V419.90H375.60V425.80M304.20 549.60V544.00H332.40V549.60M325.80 696.70V690.50H352.40V696.70M351.90 681.80V675.60H421.40V681.80M394.60 731.50V725.30H421.40V731.50M504.40 704.60V698.90H531.90V704.60M531.90 694.80V687.60H602.70V694.80M575.20 723.40V716.60H602.70V723.40" stroke="#333" stroke-width="1.2" fill="none"/>
<path d="M356.75 90.30V96.90M353.89 91.95L359.61 95.25M353.89 95.25L359.61 91.95M366.20 90.30V96.90M363.34 91.95L369.06 95.25M363.34 95.25L369.06 91.95M375.65 90.30V96.90M372.79 91.95L378.51 95.25M372.79 95.25L378.51 91.95M380.35 66.00V72.60M377.49 67.65L383.21 70.95M377.49 70.95L383.21 67.65M389.80 66.00V72.60M386.94 67.65L392.66 70.95M386.94 70.95L392.66 67.65M399.25 66.00V72.60M396.39 67.65L402.11 70.95M396.39 70.95L402.11 67.65M347.00 207.00V213.60M344.14 208.65L349.86 211.95M344.14 211.95L349.86 208.65M356.45 207.00V213.60M353.59 208.65L359.31 211.95M353.59 211.95L359.31 208.65M365.90 207.00V213.60M363.04 208.65L368.76 211.95M363.04 211.95L368.76 208.65M466.05 106.30V112.90M463.19 107.95L468.91 111.25M463.19 111.25L468.91 107.95M475.50 106.30V112.90M472.64 107.95L478.36 111.25M472.64 111.25L478.36 107.95M484.95 106.30V112.90M482.09 107.95L487.81 111.25M482.09 111.25L487.81 107.95M489.55 81.60V88.20M486.69 83.25L492.41 86.55M486.69 86.55L492.41 83.25M499.00 81.60V88.20M496.14 83.25L501.86 86.55M496.14 86.55L501.86 83.25M508.45 81.60V88.20M505.59 83.25L511.31 86.55M505.59 86.55L511.31 83.25M456.25 205.80V212.40M453.39 207.45L459.11 210.75M453.39 210.75L459.11 207.45M465.70 205.80V212.40M462.84 207.45L468.56 210.75M462.84 210.75L468.56 207.45M475.15 205.80V212.40M472.29 207.45L478.01 210.75M472.29 210.75L478.01 207.45M576.05 102.60V109.20M573.19 104.25L578.91 107.55M573.19 107.55L578.91 104.25M585.50 102.60V109.20M582.64 104.25L588.36 107.55M582.64 107.55L588.36 104.25M594.95 102.60V109.20M592.09 104.25L597.81 107.55M592.09 107.55L597.81 104.25M599.75 78.20V84.80M596.89 79.85L602.61 83.15M596.89 83.15L602.61 79.85M609.20 78.20V84.80M606.34 79.85L612.06 83.15M606.34 83.15L612.06 79.85M618.65 78.20V84.80M615.79 79.85L621.51 83.15M615.79 83.15L621.51 79.85M566.05 204.70V211.30M563.19 206.35L568.91 209.65M563.19 209.65L568.91 206.35M575.50 204.70V211.30M572.64 206.35L578.36 209.65M572.64 209.65L578.36 206.35M584.95 204.70V211.30M582.09 206.35L587.81 209.65M582.09 209.65L587.81 206.35M99.85 425.30V431.90M96.99 426.95L102.71 430.25M96.99 430.25L102.71 426.95M109.30 425.30V431.90M106.44 426.95L112.16 430.25M106.44 430.25L112.16 426.95M118.75 425.30V431.90M115.89 426.95L121.61 430.25M115.89 430.25L121.61 426.95M123.45 400.70V407.30M120.59 402.35L126.31 405.65M120.59 405.65L126.31 402.35M132.90 400.70V407.30M130.04 402.35L135.76 405.65M130.04 405.65L135.76 402.35M142.35 400.70V407.30M139.49 402.35L145.21 405.65M139.49 405.65L145.21 402.35M90.05 524.10V530.70M87.19 525.75L92.91 529.05M87.19 529.05L92.91 525.75M99.50 524.10V530.70M96.64 525.75L102.36 529.05M96.64 529.05L102.36 525.75M108.95 524.10V530.70M106.09 525.75L111.81 529.05M106.09 529.05L111.81 525.75M209.60 416.60V423.20M206.74 418.25L212.46 421.55M206.74 421.55L212.46 418.25M219.05 416.60V423.20M216.19 418.25L221.91 421.55M216.19 421.55L221.91 418.25M228.50 416.60V423.20M225.64 418.25L231.36 421.55M225.64 421.55L231.36 418.25M232.60 392.00V398.60M229.74 393.65L235.46 396.95M229.74 396.95L235.46 393.65M242.05 392.00V398.60M239.19 393.65L244.91 396.95M239.19 396.95L244.91 393.65M251.50 392.00V398.60M248.64 393.65L254.36 396.95M248.64 396.95L254.36 393.65M199.50 532.30V538.90M196.64 533.95L202.36 537.25M196.64 537.25L202.36 533.95M208.95 532.30V538.90M206.09 533.95L211.81 537.25M206.09 537.25L211.81 533.95M218.40 532.30V538.90M215.54 533.95L221.26 537.25M215.54 537.25L221.26 533.95M316.60 431.90V438.50M313.74 433.55L319.46 436.85M313.74 436.85L319.46 433.55M326.05 431.90V438.50M323.19 433.55L328.91 436.85M323.19 436.85L328.91 433.55M335.50 431.90V438.50M332.64 433.55L338.36 436.85M332.64 436.85L338.36 433.55M342.70 408.90V415.50M339.84 410.55L345.56 413.85M339.84 413.85L345.56 410.55M352.15 408.90V415.50M349.29 410.55L355.01 413.85M349.29 413.85L355.01 410.55M361.60 408.90V415.50M358.74 410.55L364.46 413.85M358.74 413.85L364.46 410.55M308.85 532.30V538.90M305.99 533.95L311.71 537.25M305.99 537.25L311.71 533.95M318.30 532.30V538.90M315.44 533.95L321.16 537.25M315.44 537.25L321.16 533.95M327.75 532.30V538.90M324.89 533.95L330.61 537.25M324.89 537.25L330.61 533.95M329.65 681.50V688.10M326.79 683.15L332.51 686.45M326.79 686.45L332.51 683.15M339.10 681.50V688.10M336.24 683.15L341.96 686.45M336.24 686.45L341.96 683.15M348.55 681.50V688.10M345.69 683.15L351.41 686.45M345.69 686.45L351.41 683.15M377.20 665.90V672.50M374.34 667.55L380.06 670.85M374.34 670.85L380.06 667.55M386.65 665.90V672.50M383.79 667.55L389.51 670.85M383.79 670.85L389.51 667.55M396.10 665.90V672.50M393.24 667.55L398.96 670.85M393.24 670.85L398.96 667.55M398.55 716.20V722.80M395.69 717.85L401.41 721.15M395.69 721.15L401.41 717.85M408.00 716.20V722.80M405.14 717.85L410.86 721.15M405.14 721.15L410.86 717.85M417.45 716.20V722.80M414.59 717.85L420.31 721.15M414.59 721.15L420.31 717.85M508.70 688.50V695.10M505.84 690.15L511.56 693.45M505.84 693.45L511.56 690.15M518.15 688.50V695.10M515.29 690.15L521.01 693.45M515.29 693.45L521.01 690.15M527.60 688.50V695.10M524.74 690.15L530.46 693.45M524.74 693.45L530.46 690.15M557.85 677.80V684.40M554.99 679.45L560.71 682.75M554.99 682.75L560.71 679.45M567.30 677.80V684.40M564.44 679.45L570.16 682.75M564.44 682.75L570.16 679.45M576.75 677.80V684.40M573.89 679.45L579.61 682.75M573.89 682.75L579.61 679.45M579.50 708.10V714.70M576.64 709.75L582.36 713.05M576.64 713.05L582.36 709.75M588.95 708.10V714.70M586.09 709.75L591.81 713.05M586.09 713.05L591.81 709.75M598.40 708.10V714.70M595.54 709.75L601.26 713.05M595.54 713.05L601.26 709.75" stroke="#111" stroke-width="1.15" fill="none" stroke-linecap="round"/>
</svg></body></html>
